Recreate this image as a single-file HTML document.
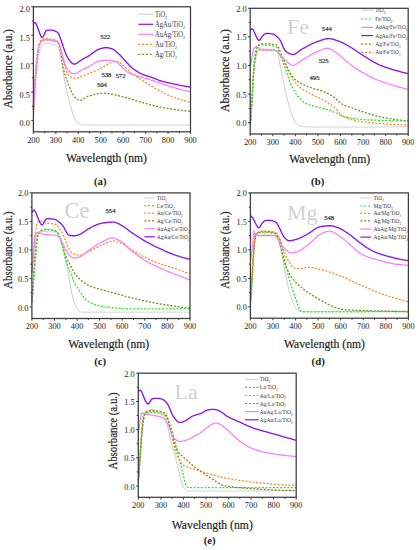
<!DOCTYPE html>
<html><head><meta charset="utf-8"><style>
html,body{margin:0;padding:0;background:#fff;width:418px;height:550px;overflow:hidden}
svg{display:block}
text{font-family:"Liberation Serif", serif}
</style></head><body>
<svg width="418" height="550" viewBox="0 0 418 550">
<rect width="418" height="550" fill="#fff"/>
<line x1="105.67" y1="49.41" x2="105.67" y2="59.07" stroke="#f0f0f0" stroke-width="0.6"/>
<path d="M33.4,117.4 L34.0,110.3 L34.5,101.3 L35.1,92.0 L35.6,83.5 L36.2,76.2 L36.8,69.9 L37.3,64.5 L37.9,59.9 L38.4,56.0 L39.0,53.0 L39.6,50.8 L40.1,49.1 L40.7,47.8 L41.3,46.7 L41.8,45.7 L42.4,44.9 L42.9,44.2 L43.5,43.8 L44.1,43.4 L44.6,43.3 L45.2,43.2 L45.7,43.2 L46.3,43.3 L46.9,43.4 L47.4,43.4 L48.0,43.5 L48.5,43.6 L49.1,43.7 L49.7,43.8 L50.2,43.9 L50.8,44.0 L51.4,44.1 L51.9,44.2 L52.5,44.3 L53.0,44.5 L53.6,44.6 L54.2,44.8 L54.7,44.9 L55.3,45.1 L55.8,45.4 L56.4,45.6 L57.0,45.9 L57.5,46.4 L58.1,47.1 L58.6,48.2 L59.2,49.8 L59.8,52.0 L60.3,54.6 L60.9,57.5 L61.5,60.7 L62.0,64.2 L62.6,67.9 L63.1,71.8 L63.7,75.6 L64.3,79.0 L64.8,82.1 L65.4,85.0 L65.9,87.6 L66.5,90.0 L67.1,92.4 L67.6,94.7 L68.2,97.1 L68.7,99.3 L69.3,101.5 L69.9,103.7 L70.4,105.7 L71.0,107.7 L71.6,109.7 L72.1,111.5 L72.7,113.3 L73.2,114.9 L73.8,116.3 L74.4,117.6 L74.9,118.7 L75.5,119.8 L76.0,120.7 L76.6,121.6 L77.2,122.3 L77.7,123.0 L78.3,123.4 L78.8,123.8 L79.4,124.1 L80.0,124.3 L80.5,124.5 L81.1,124.7 L81.7,124.8 L82.2,124.9 L82.8,125.0 L83.3,125.0 L83.9,125.0 L84.5,125.0 L85.0,125.0 L85.6,125.0 L86.1,125.0 L86.7,125.0 L87.3,125.0 L87.8,125.0 L88.4,125.0 L88.9,125.0 L89.5,125.0 L90.1,125.0 L90.6,125.0 L91.2,125.0 L91.8,125.0 L92.3,125.0 L92.9,125.0 L93.4,125.0 L94.0,125.0 L94.6,125.0 L95.1,125.0 L95.7,125.0 L96.2,125.0 L96.8,125.0 L97.4,125.0 L97.9,125.0 L98.5,125.0 L99.0,125.0 L99.6,125.0 L100.2,125.0 L100.7,125.0 L101.3,125.0 L101.9,125.0 L102.4,125.0 L103.0,125.0 L103.5,125.0 L104.1,125.0 L104.7,125.0 L105.2,125.0 L105.8,125.0 L106.3,125.0 L106.9,125.0 L107.5,125.0 L108.0,125.0 L108.6,125.0 L109.1,125.0 L109.7,125.0 L110.3,125.0 L110.8,125.0 L111.4,125.0 L111.9,125.0 L112.5,125.0 L113.1,125.0 L113.6,125.0 L114.2,125.0 L114.8,125.0 L115.3,125.0 L115.9,125.0 L116.4,125.0 L117.0,125.0 L117.6,125.0 L118.1,125.0 L118.7,125.0 L119.2,125.0 L119.8,125.0 L120.4,125.0 L120.9,125.0 L121.5,125.0 L122.0,125.0 L122.6,125.0 L123.2,125.0 L123.7,125.0 L124.3,125.0 L124.9,125.0 L125.4,125.0 L126.0,125.0 L126.5,125.0 L127.1,125.0 L127.7,125.0 L128.2,125.0 L128.8,125.0 L129.3,125.0 L129.9,125.0 L130.5,125.0 L131.0,125.0 L131.6,125.0 L132.1,125.0 L132.7,125.0 L133.3,125.0 L133.8,125.0 L134.4,125.0 L135.0,125.0 L135.5,125.0 L136.1,125.0 L136.6,125.0 L137.2,125.0 L137.8,125.0 L138.3,125.0 L138.9,125.0 L139.4,125.0 L140.0,125.0 L140.6,125.0 L141.1,125.0 L141.7,125.0 L142.2,125.0 L142.8,125.0 L143.4,125.0 L143.9,125.0 L144.5,125.0 L145.1,125.0 L145.6,125.0 L146.2,125.0 L146.7,125.0 L147.3,125.0 L147.9,125.0 L148.4,125.0 L149.0,125.0 L149.5,125.0 L150.1,125.0 L150.7,125.0 L151.2,125.0 L151.8,125.0 L152.3,125.0 L152.9,125.0 L153.5,125.0 L154.0,125.0 L154.6,125.0 L155.2,125.0 L155.7,125.0 L156.3,125.0 L156.8,125.0 L157.4,125.0 L158.0,125.0 L158.5,125.0 L159.1,125.0 L159.6,125.0 L160.2,125.0 L160.8,125.0 L161.3,125.0 L161.9,125.0 L162.4,125.0 L163.0,125.0 L163.6,125.0 L164.1,125.0 L164.7,125.0 L165.3,125.0 L165.8,125.0 L166.4,125.0 L166.9,125.0 L167.5,125.0 L168.1,125.0 L168.6,125.0 L169.2,125.0 L169.7,125.0 L170.3,125.0 L170.9,125.0 L171.4,125.0 L172.0,125.0 L172.5,125.0 L173.1,125.0 L173.7,125.0 L174.2,125.0 L174.8,125.0 L175.4,125.0 L175.9,125.0 L176.5,125.0 L177.0,125.0 L177.6,125.0 L178.2,125.0 L178.7,125.0 L179.3,125.0 L179.8,125.0 L180.4,125.0 L181.0,125.0 L181.5,125.0 L182.1,125.0 L182.6,125.0 L183.2,125.0 L183.8,125.0 L184.3,125.0 L184.9,125.0 L185.5,125.0 L186.0,125.0 L186.6,125.0 L187.1,125.0 L187.7,125.0 L188.3,125.0 L188.8,125.0 L189.4,125.0 L189.9,125.0 L190.5,125.0" fill="none" stroke="#cccccc" stroke-width="1.0"/>
<path d="M33.4,109.8 L34.0,101.4 L34.5,91.4 L35.1,81.7 L35.6,73.4 L36.2,66.7 L36.8,61.1 L37.3,56.3 L37.9,52.0 L38.4,48.4 L39.0,45.6 L39.6,43.7 L40.1,42.6 L40.7,41.8 L41.3,41.3 L41.8,40.8 L42.4,40.5 L42.9,40.2 L43.5,40.0 L44.1,39.9 L44.6,39.8 L45.2,39.8 L45.7,39.8 L46.3,39.8 L46.9,39.8 L47.4,39.8 L48.0,39.9 L48.5,39.9 L49.1,40.0 L49.7,40.1 L50.2,40.1 L50.8,40.2 L51.4,40.3 L51.9,40.4 L52.5,40.5 L53.0,40.7 L53.6,40.8 L54.2,41.0 L54.7,41.1 L55.3,41.3 L55.8,41.5 L56.4,41.8 L57.0,42.0 L57.5,42.3 L58.1,42.8 L58.6,43.8 L59.2,45.2 L59.8,47.4 L60.3,50.1 L60.9,53.4 L61.5,57.1 L62.0,61.0 L62.6,64.5 L63.1,67.5 L63.7,70.0 L64.3,72.1 L64.8,74.1 L65.4,75.8 L65.9,77.5 L66.5,79.1 L67.1,80.6 L67.6,82.1 L68.2,83.6 L68.7,85.0 L69.3,86.5 L69.9,87.9 L70.4,89.2 L71.0,90.5 L71.6,91.7 L72.1,92.9 L72.7,93.9 L73.2,94.8 L73.8,95.6 L74.4,96.4 L74.9,97.1 L75.5,97.7 L76.0,98.3 L76.6,98.9 L77.2,99.4 L77.7,99.8 L78.3,100.1 L78.8,100.4 L79.4,100.4 L80.0,100.4 L80.5,100.3 L81.1,100.1 L81.7,99.9 L82.2,99.6 L82.8,99.2 L83.3,98.9 L83.9,98.5 L84.5,98.1 L85.0,97.7 L85.6,97.4 L86.1,97.1 L86.7,96.8 L87.3,96.6 L87.8,96.4 L88.4,96.2 L88.9,96.1 L89.5,95.9 L90.1,95.7 L90.6,95.5 L91.2,95.4 L91.8,95.2 L92.3,95.1 L92.9,94.9 L93.4,94.7 L94.0,94.6 L94.6,94.5 L95.1,94.3 L95.7,94.2 L96.2,94.1 L96.8,93.9 L97.4,93.8 L97.9,93.7 L98.5,93.6 L99.0,93.5 L99.6,93.5 L100.2,93.4 L100.7,93.3 L101.3,93.3 L101.9,93.2 L102.4,93.2 L103.0,93.2 L103.5,93.2 L104.1,93.2 L104.7,93.2 L105.2,93.2 L105.8,93.3 L106.3,93.3 L106.9,93.4 L107.5,93.4 L108.0,93.5 L108.6,93.6 L109.1,93.6 L109.7,93.7 L110.3,93.8 L110.8,93.9 L111.4,94.1 L111.9,94.2 L112.5,94.3 L113.1,94.4 L113.6,94.5 L114.2,94.7 L114.8,94.8 L115.3,94.9 L115.9,95.0 L116.4,95.2 L117.0,95.3 L117.6,95.4 L118.1,95.6 L118.7,95.7 L119.2,95.8 L119.8,96.0 L120.4,96.1 L120.9,96.2 L121.5,96.3 L122.0,96.5 L122.6,96.6 L123.2,96.8 L123.7,96.9 L124.3,97.1 L124.9,97.3 L125.4,97.4 L126.0,97.6 L126.5,97.8 L127.1,97.9 L127.7,98.1 L128.2,98.3 L128.8,98.5 L129.3,98.6 L129.9,98.8 L130.5,99.0 L131.0,99.2 L131.6,99.4 L132.1,99.5 L132.7,99.7 L133.3,99.9 L133.8,100.1 L134.4,100.3 L135.0,100.4 L135.5,100.6 L136.1,100.8 L136.6,100.9 L137.2,101.1 L137.8,101.2 L138.3,101.4 L138.9,101.6 L139.4,101.7 L140.0,101.9 L140.6,102.0 L141.1,102.2 L141.7,102.4 L142.2,102.5 L142.8,102.7 L143.4,102.8 L143.9,103.0 L144.5,103.1 L145.1,103.3 L145.6,103.4 L146.2,103.6 L146.7,103.7 L147.3,103.9 L147.9,104.0 L148.4,104.2 L149.0,104.3 L149.5,104.5 L150.1,104.6 L150.7,104.8 L151.2,104.9 L151.8,105.1 L152.3,105.2 L152.9,105.3 L153.5,105.5 L154.0,105.6 L154.6,105.7 L155.2,105.8 L155.7,106.0 L156.3,106.1 L156.8,106.2 L157.4,106.3 L158.0,106.5 L158.5,106.6 L159.1,106.7 L159.6,106.8 L160.2,107.0 L160.8,107.1 L161.3,107.2 L161.9,107.3 L162.4,107.4 L163.0,107.5 L163.6,107.6 L164.1,107.8 L164.7,107.9 L165.3,108.0 L165.8,108.1 L166.4,108.2 L166.9,108.3 L167.5,108.4 L168.1,108.5 L168.6,108.6 L169.2,108.7 L169.7,108.8 L170.3,108.9 L170.9,109.0 L171.4,109.0 L172.0,109.1 L172.5,109.2 L173.1,109.3 L173.7,109.4 L174.2,109.5 L174.8,109.5 L175.4,109.6 L175.9,109.7 L176.5,109.8 L177.0,109.8 L177.6,109.9 L178.2,110.0 L178.7,110.1 L179.3,110.1 L179.8,110.2 L180.4,110.3 L181.0,110.4 L181.5,110.4 L182.1,110.5 L182.6,110.6 L183.2,110.6 L183.8,110.7 L184.3,110.8 L184.9,110.8 L185.5,110.9 L186.0,110.9 L186.6,111.0 L187.1,111.0 L187.7,111.1 L188.3,111.2 L188.8,111.2 L189.4,111.2 L189.9,111.3 L190.5,111.3" fill="none" stroke="#7d8a1e" stroke-width="1.3" stroke-dasharray="2 1.6"/>
<path d="M33.4,109.8 L34.0,101.6 L34.5,91.4 L35.1,81.5 L35.6,72.9 L36.2,65.8 L36.8,59.8 L37.3,54.8 L37.9,50.5 L38.4,47.0 L39.0,44.3 L39.6,42.5 L40.1,41.4 L40.7,40.7 L41.3,40.1 L41.8,39.7 L42.4,39.3 L42.9,39.1 L43.5,38.9 L44.1,38.7 L44.6,38.7 L45.2,38.6 L45.7,38.6 L46.3,38.7 L46.9,38.7 L47.4,38.7 L48.0,38.8 L48.5,38.8 L49.1,38.9 L49.7,38.9 L50.2,39.0 L50.8,39.1 L51.4,39.2 L51.9,39.3 L52.5,39.4 L53.0,39.6 L53.6,39.7 L54.2,39.9 L54.7,40.0 L55.3,40.2 L55.8,40.4 L56.4,40.6 L57.0,40.9 L57.5,41.2 L58.1,41.7 L58.6,42.5 L59.2,43.8 L59.8,45.5 L60.3,47.6 L60.9,49.8 L61.5,52.0 L62.0,54.3 L62.6,56.7 L63.1,59.2 L63.7,61.7 L64.3,64.2 L64.8,66.6 L65.4,68.7 L65.9,70.7 L66.5,72.2 L67.1,73.4 L67.6,74.3 L68.2,74.9 L68.7,75.4 L69.3,75.9 L69.9,76.3 L70.4,76.6 L71.0,77.0 L71.6,77.3 L72.1,77.5 L72.7,77.8 L73.2,78.0 L73.8,78.1 L74.4,78.2 L74.9,78.3 L75.5,78.3 L76.0,78.3 L76.6,78.2 L77.2,78.1 L77.7,77.9 L78.3,77.7 L78.8,77.5 L79.4,77.2 L80.0,77.0 L80.5,76.7 L81.1,76.5 L81.7,76.2 L82.2,76.0 L82.8,75.8 L83.3,75.6 L83.9,75.3 L84.5,75.1 L85.0,74.9 L85.6,74.7 L86.1,74.5 L86.7,74.2 L87.3,74.0 L87.8,73.8 L88.4,73.5 L88.9,73.3 L89.5,73.1 L90.1,72.9 L90.6,72.7 L91.2,72.4 L91.8,72.2 L92.3,72.0 L92.9,71.8 L93.4,71.6 L94.0,71.3 L94.6,71.1 L95.1,70.9 L95.7,70.7 L96.2,70.4 L96.8,70.2 L97.4,70.0 L97.9,69.7 L98.5,69.5 L99.0,69.2 L99.6,68.9 L100.2,68.7 L100.7,68.4 L101.3,68.0 L101.9,67.7 L102.4,67.3 L103.0,67.0 L103.5,66.6 L104.1,66.2 L104.7,65.8 L105.2,65.5 L105.8,65.1 L106.3,64.8 L106.9,64.4 L107.5,64.1 L108.0,63.9 L108.6,63.6 L109.1,63.4 L109.7,63.2 L110.3,63.0 L110.8,62.8 L111.4,62.6 L111.9,62.4 L112.5,62.2 L113.1,62.0 L113.6,61.9 L114.2,61.7 L114.8,61.6 L115.3,61.5 L115.9,61.4 L116.4,61.4 L117.0,61.4 L117.6,61.5 L118.1,61.6 L118.7,61.9 L119.2,62.2 L119.8,62.6 L120.4,63.1 L120.9,63.6 L121.5,64.1 L122.0,64.6 L122.6,65.0 L123.2,65.5 L123.7,66.0 L124.3,66.4 L124.9,66.9 L125.4,67.4 L126.0,68.0 L126.5,68.5 L127.1,69.0 L127.7,69.6 L128.2,70.1 L128.8,70.6 L129.3,71.2 L129.9,71.7 L130.5,72.2 L131.0,72.7 L131.6,73.2 L132.1,73.7 L132.7,74.1 L133.3,74.6 L133.8,75.0 L134.4,75.4 L135.0,75.8 L135.5,76.2 L136.1,76.5 L136.6,76.9 L137.2,77.3 L137.8,77.6 L138.3,78.0 L138.9,78.3 L139.4,78.7 L140.0,79.0 L140.6,79.4 L141.1,79.7 L141.7,80.1 L142.2,80.4 L142.8,80.7 L143.4,81.1 L143.9,81.4 L144.5,81.8 L145.1,82.1 L145.6,82.5 L146.2,82.8 L146.7,83.2 L147.3,83.5 L147.9,83.9 L148.4,84.2 L149.0,84.5 L149.5,84.9 L150.1,85.2 L150.7,85.6 L151.2,85.9 L151.8,86.2 L152.3,86.6 L152.9,86.9 L153.5,87.2 L154.0,87.6 L154.6,87.9 L155.2,88.2 L155.7,88.5 L156.3,88.9 L156.8,89.2 L157.4,89.5 L158.0,89.8 L158.5,90.1 L159.1,90.4 L159.6,90.7 L160.2,91.0 L160.8,91.3 L161.3,91.6 L161.9,91.9 L162.4,92.2 L163.0,92.5 L163.6,92.8 L164.1,93.1 L164.7,93.4 L165.3,93.7 L165.8,93.9 L166.4,94.2 L166.9,94.5 L167.5,94.8 L168.1,95.0 L168.6,95.3 L169.2,95.5 L169.7,95.8 L170.3,96.0 L170.9,96.3 L171.4,96.5 L172.0,96.7 L172.5,96.9 L173.1,97.1 L173.7,97.3 L174.2,97.5 L174.8,97.7 L175.4,97.9 L175.9,98.1 L176.5,98.3 L177.0,98.5 L177.6,98.7 L178.2,98.9 L178.7,99.1 L179.3,99.3 L179.8,99.5 L180.4,99.7 L181.0,99.8 L181.5,100.0 L182.1,100.2 L182.6,100.3 L183.2,100.5 L183.8,100.7 L184.3,100.8 L184.9,101.0 L185.5,101.1 L186.0,101.3 L186.6,101.4 L187.1,101.5 L187.7,101.7 L188.3,101.8 L188.8,101.9 L189.4,102.0 L189.9,102.1 L190.5,102.2" fill="none" stroke="#ff8a22" stroke-width="1.3" stroke-dasharray="2 1.6"/>
<path d="M33.4,107.5 L34.0,99.9 L34.5,90.5 L35.1,81.2 L35.6,73.3 L36.2,66.7 L36.8,61.2 L37.3,56.5 L37.9,52.5 L38.4,49.1 L39.0,46.5 L39.6,44.7 L40.1,43.5 L40.7,42.6 L41.3,41.8 L41.8,41.3 L42.4,40.8 L42.9,40.4 L43.5,40.1 L44.1,39.9 L44.6,39.8 L45.2,39.8 L45.7,39.8 L46.3,39.8 L46.9,39.8 L47.4,39.8 L48.0,39.9 L48.5,39.9 L49.1,39.9 L49.7,40.0 L50.2,40.1 L50.8,40.1 L51.4,40.2 L51.9,40.3 L52.5,40.4 L53.0,40.5 L53.6,40.6 L54.2,40.7 L54.7,40.9 L55.3,41.0 L55.8,41.2 L56.4,41.4 L57.0,41.6 L57.5,41.8 L58.1,42.2 L58.6,43.0 L59.2,44.2 L59.8,45.8 L60.3,47.8 L60.9,49.8 L61.5,51.9 L62.0,54.0 L62.6,56.1 L63.1,58.2 L63.7,60.2 L64.3,62.0 L64.8,63.7 L65.4,65.3 L65.9,66.7 L66.5,68.0 L67.1,69.0 L67.6,69.8 L68.2,70.5 L68.7,71.0 L69.3,71.6 L69.9,72.0 L70.4,72.4 L71.0,72.8 L71.6,73.1 L72.1,73.4 L72.7,73.6 L73.2,73.7 L73.8,73.8 L74.4,73.8 L74.9,73.7 L75.5,73.5 L76.0,73.3 L76.6,73.1 L77.2,72.8 L77.7,72.5 L78.3,72.1 L78.8,71.7 L79.4,71.4 L80.0,71.0 L80.5,70.7 L81.1,70.3 L81.7,70.0 L82.2,69.7 L82.8,69.4 L83.3,69.2 L83.9,68.9 L84.5,68.6 L85.0,68.4 L85.6,68.1 L86.1,67.9 L86.7,67.6 L87.3,67.3 L87.8,67.1 L88.4,66.8 L88.9,66.5 L89.5,66.2 L90.1,65.9 L90.6,65.6 L91.2,65.2 L91.8,64.9 L92.3,64.5 L92.9,64.2 L93.4,63.8 L94.0,63.5 L94.6,63.1 L95.1,62.8 L95.7,62.4 L96.2,62.1 L96.8,61.9 L97.4,61.6 L97.9,61.4 L98.5,61.2 L99.0,61.0 L99.6,60.9 L100.2,60.8 L100.7,60.7 L101.3,60.6 L101.9,60.6 L102.4,60.5 L103.0,60.5 L103.5,60.4 L104.1,60.4 L104.7,60.4 L105.2,60.3 L105.8,60.3 L106.3,60.3 L106.9,60.2 L107.5,60.2 L108.0,60.2 L108.6,60.2 L109.1,60.2 L109.7,60.3 L110.3,60.3 L110.8,60.4 L111.4,60.5 L111.9,60.6 L112.5,60.7 L113.1,60.8 L113.6,61.0 L114.2,61.2 L114.8,61.3 L115.3,61.5 L115.9,61.7 L116.4,62.0 L117.0,62.3 L117.6,62.8 L118.1,63.2 L118.7,63.8 L119.2,64.3 L119.8,64.9 L120.4,65.5 L120.9,66.1 L121.5,66.7 L122.0,67.3 L122.6,67.8 L123.2,68.4 L123.7,68.9 L124.3,69.4 L124.9,69.9 L125.4,70.4 L126.0,70.9 L126.5,71.4 L127.1,71.9 L127.7,72.3 L128.2,72.6 L128.8,73.0 L129.3,73.2 L129.9,73.5 L130.5,73.7 L131.0,73.9 L131.6,74.2 L132.1,74.3 L132.7,74.5 L133.3,74.7 L133.8,74.9 L134.4,75.0 L135.0,75.2 L135.5,75.4 L136.1,75.5 L136.6,75.7 L137.2,75.8 L137.8,76.0 L138.3,76.1 L138.9,76.3 L139.4,76.4 L140.0,76.6 L140.6,76.8 L141.1,77.0 L141.7,77.2 L142.2,77.3 L142.8,77.5 L143.4,77.7 L143.9,77.9 L144.5,78.0 L145.1,78.2 L145.6,78.4 L146.2,78.6 L146.7,78.7 L147.3,78.9 L147.9,79.1 L148.4,79.3 L149.0,79.4 L149.5,79.6 L150.1,79.8 L150.7,80.0 L151.2,80.2 L151.8,80.3 L152.3,80.5 L152.9,80.7 L153.5,80.9 L154.0,81.1 L154.6,81.2 L155.2,81.4 L155.7,81.6 L156.3,81.8 L156.8,82.0 L157.4,82.2 L158.0,82.4 L158.5,82.6 L159.1,82.7 L159.6,82.9 L160.2,83.1 L160.8,83.3 L161.3,83.5 L161.9,83.7 L162.4,83.9 L163.0,84.1 L163.6,84.3 L164.1,84.5 L164.7,84.7 L165.3,84.9 L165.8,85.1 L166.4,85.3 L166.9,85.4 L167.5,85.6 L168.1,85.8 L168.6,86.0 L169.2,86.2 L169.7,86.3 L170.3,86.5 L170.9,86.7 L171.4,86.8 L172.0,87.0 L172.5,87.2 L173.1,87.3 L173.7,87.5 L174.2,87.7 L174.8,87.8 L175.4,88.0 L175.9,88.1 L176.5,88.3 L177.0,88.4 L177.6,88.6 L178.2,88.7 L178.7,88.9 L179.3,89.0 L179.8,89.2 L180.4,89.3 L181.0,89.5 L181.5,89.6 L182.1,89.8 L182.6,89.9 L183.2,90.0 L183.8,90.2 L184.3,90.3 L184.9,90.5 L185.5,90.6 L186.0,90.7 L186.6,90.9 L187.1,91.0 L187.7,91.1 L188.3,91.2 L188.8,91.4 L189.4,91.5 L189.9,91.6 L190.5,91.7" fill="none" stroke="#ff77ff" stroke-width="1.20"/>
<path d="M33.4,23.4 L34.0,23.0 L34.5,22.7 L35.1,22.7 L35.6,23.2 L36.2,24.1 L36.8,25.4 L37.3,26.8 L37.9,28.3 L38.4,29.8 L39.0,31.3 L39.6,32.9 L40.1,34.4 L40.7,35.7 L41.3,36.8 L41.8,37.3 L42.4,37.4 L42.9,36.9 L43.5,36.0 L44.1,34.9 L44.6,33.6 L45.2,32.3 L45.7,31.3 L46.3,30.6 L46.9,30.3 L47.4,30.1 L48.0,30.1 L48.5,30.1 L49.1,30.1 L49.7,30.1 L50.2,30.1 L50.8,30.1 L51.4,30.1 L51.9,30.2 L52.5,30.3 L53.0,30.4 L53.6,30.5 L54.2,30.7 L54.7,30.9 L55.3,31.1 L55.8,31.4 L56.4,31.7 L57.0,32.0 L57.5,32.5 L58.1,33.0 L58.6,33.8 L59.2,34.9 L59.8,36.4 L60.3,38.1 L60.9,39.8 L61.5,41.5 L62.0,43.1 L62.6,44.7 L63.1,46.4 L63.7,48.1 L64.3,49.7 L64.8,51.3 L65.4,52.7 L65.9,54.1 L66.5,55.4 L67.1,56.5 L67.6,57.5 L68.2,58.4 L68.7,59.2 L69.3,60.0 L69.9,60.8 L70.4,61.5 L71.0,62.2 L71.6,62.8 L72.1,63.3 L72.7,63.6 L73.2,63.9 L73.8,64.0 L74.4,64.1 L74.9,64.0 L75.5,63.8 L76.0,63.6 L76.6,63.3 L77.2,63.0 L77.7,62.6 L78.3,62.2 L78.8,61.8 L79.4,61.4 L80.0,60.9 L80.5,60.5 L81.1,60.2 L81.7,59.8 L82.2,59.5 L82.8,59.1 L83.3,58.8 L83.9,58.5 L84.5,58.2 L85.0,57.9 L85.6,57.6 L86.1,57.3 L86.7,57.0 L87.3,56.7 L87.8,56.4 L88.4,56.1 L88.9,55.7 L89.5,55.4 L90.1,55.0 L90.6,54.6 L91.2,54.2 L91.8,53.8 L92.3,53.4 L92.9,52.9 L93.4,52.5 L94.0,52.1 L94.6,51.7 L95.1,51.3 L95.7,50.9 L96.2,50.6 L96.8,50.2 L97.4,49.9 L97.9,49.7 L98.5,49.4 L99.0,49.2 L99.6,49.0 L100.2,48.8 L100.7,48.6 L101.3,48.4 L101.9,48.3 L102.4,48.1 L103.0,48.0 L103.5,47.8 L104.1,47.7 L104.7,47.7 L105.2,47.6 L105.8,47.6 L106.3,47.6 L106.9,47.7 L107.5,47.7 L108.0,47.8 L108.6,47.9 L109.1,48.0 L109.7,48.2 L110.3,48.3 L110.8,48.4 L111.4,48.6 L111.9,48.8 L112.5,49.0 L113.1,49.3 L113.6,49.6 L114.2,50.0 L114.8,50.4 L115.3,50.8 L115.9,51.3 L116.4,51.8 L117.0,52.3 L117.6,52.7 L118.1,53.2 L118.7,53.7 L119.2,54.3 L119.8,54.8 L120.4,55.4 L120.9,56.0 L121.5,56.6 L122.0,57.3 L122.6,57.9 L123.2,58.6 L123.7,59.2 L124.3,59.9 L124.9,60.5 L125.4,61.1 L126.0,61.7 L126.5,62.3 L127.1,62.9 L127.7,63.5 L128.2,64.1 L128.8,64.7 L129.3,65.3 L129.9,65.9 L130.5,66.5 L131.0,67.0 L131.6,67.5 L132.1,68.0 L132.7,68.4 L133.3,68.9 L133.8,69.3 L134.4,69.7 L135.0,70.1 L135.5,70.4 L136.1,70.8 L136.6,71.2 L137.2,71.5 L137.8,71.8 L138.3,72.1 L138.9,72.5 L139.4,72.8 L140.0,73.1 L140.6,73.3 L141.1,73.6 L141.7,73.9 L142.2,74.1 L142.8,74.4 L143.4,74.6 L143.9,74.8 L144.5,75.0 L145.1,75.3 L145.6,75.4 L146.2,75.6 L146.7,75.8 L147.3,76.0 L147.9,76.2 L148.4,76.3 L149.0,76.5 L149.5,76.7 L150.1,76.9 L150.7,77.0 L151.2,77.2 L151.8,77.4 L152.3,77.6 L152.9,77.8 L153.5,78.0 L154.0,78.2 L154.6,78.5 L155.2,78.7 L155.7,78.9 L156.3,79.2 L156.8,79.4 L157.4,79.7 L158.0,79.9 L158.5,80.1 L159.1,80.3 L159.6,80.5 L160.2,80.7 L160.8,80.9 L161.3,81.1 L161.9,81.2 L162.4,81.4 L163.0,81.5 L163.6,81.7 L164.1,81.8 L164.7,81.9 L165.3,82.1 L165.8,82.2 L166.4,82.3 L166.9,82.5 L167.5,82.6 L168.1,82.7 L168.6,82.8 L169.2,83.0 L169.7,83.1 L170.3,83.2 L170.9,83.3 L171.4,83.5 L172.0,83.6 L172.5,83.7 L173.1,83.8 L173.7,83.9 L174.2,84.1 L174.8,84.2 L175.4,84.3 L175.9,84.4 L176.5,84.5 L177.0,84.7 L177.6,84.8 L178.2,84.9 L178.7,85.0 L179.3,85.1 L179.8,85.2 L180.4,85.3 L181.0,85.5 L181.5,85.6 L182.1,85.7 L182.6,85.8 L183.2,85.9 L183.8,86.0 L184.3,86.1 L184.9,86.2 L185.5,86.3 L186.0,86.4 L186.6,86.5 L187.1,86.6 L187.7,86.7 L188.3,86.8 L188.8,86.9 L189.4,87.0 L189.9,87.1 L190.5,87.1" fill="none" stroke="#8614f0" stroke-width="1.35"/>
<rect x="33.40" y="6.80" width="157.10" height="125.00" fill="none" stroke="#3c3c3c" stroke-width="1.25"/>
<line x1="33.40" y1="131.80" x2="33.40" y2="134.00" stroke="#3c3c3c" stroke-width="1"/>
<text x="33.40" y="142.50" font-size="8.30" text-anchor="middle" font-weight="normal" fill="#222" >200</text>
<line x1="44.62" y1="131.80" x2="44.62" y2="133.40" stroke="#3c3c3c" stroke-width="1"/>
<line x1="55.84" y1="131.80" x2="55.84" y2="134.00" stroke="#3c3c3c" stroke-width="1"/>
<text x="55.84" y="142.50" font-size="8.30" text-anchor="middle" font-weight="normal" fill="#222" >300</text>
<line x1="67.06" y1="131.80" x2="67.06" y2="133.40" stroke="#3c3c3c" stroke-width="1"/>
<line x1="78.29" y1="131.80" x2="78.29" y2="134.00" stroke="#3c3c3c" stroke-width="1"/>
<text x="78.29" y="142.50" font-size="8.30" text-anchor="middle" font-weight="normal" fill="#222" >400</text>
<line x1="89.51" y1="131.80" x2="89.51" y2="133.40" stroke="#3c3c3c" stroke-width="1"/>
<line x1="100.73" y1="131.80" x2="100.73" y2="134.00" stroke="#3c3c3c" stroke-width="1"/>
<text x="100.73" y="142.50" font-size="8.30" text-anchor="middle" font-weight="normal" fill="#222" >500</text>
<line x1="111.95" y1="131.80" x2="111.95" y2="133.40" stroke="#3c3c3c" stroke-width="1"/>
<line x1="123.17" y1="131.80" x2="123.17" y2="134.00" stroke="#3c3c3c" stroke-width="1"/>
<text x="123.17" y="142.50" font-size="8.30" text-anchor="middle" font-weight="normal" fill="#222" >600</text>
<line x1="134.39" y1="131.80" x2="134.39" y2="133.40" stroke="#3c3c3c" stroke-width="1"/>
<line x1="145.61" y1="131.80" x2="145.61" y2="134.00" stroke="#3c3c3c" stroke-width="1"/>
<text x="145.61" y="142.50" font-size="8.30" text-anchor="middle" font-weight="normal" fill="#222" >700</text>
<line x1="156.84" y1="131.80" x2="156.84" y2="133.40" stroke="#3c3c3c" stroke-width="1"/>
<line x1="168.06" y1="131.80" x2="168.06" y2="134.00" stroke="#3c3c3c" stroke-width="1"/>
<text x="168.06" y="142.50" font-size="8.30" text-anchor="middle" font-weight="normal" fill="#222" >800</text>
<line x1="179.28" y1="131.80" x2="179.28" y2="133.40" stroke="#3c3c3c" stroke-width="1"/>
<line x1="190.50" y1="131.80" x2="190.50" y2="134.00" stroke="#3c3c3c" stroke-width="1"/>
<text x="190.50" y="142.50" font-size="8.30" text-anchor="middle" font-weight="normal" fill="#222" >900</text>
<line x1="31.20" y1="120.44" x2="33.40" y2="120.44" stroke="#3c3c3c" stroke-width="1"/>
<text x="29.80" y="125.94" font-size="8.30" text-anchor="end" font-weight="normal" fill="#222" >0.0</text>
<line x1="31.80" y1="106.23" x2="33.40" y2="106.23" stroke="#3c3c3c" stroke-width="1"/>
<line x1="31.20" y1="92.03" x2="33.40" y2="92.03" stroke="#3c3c3c" stroke-width="1"/>
<text x="29.80" y="97.53" font-size="8.30" text-anchor="end" font-weight="normal" fill="#222" >0.5</text>
<line x1="31.80" y1="77.82" x2="33.40" y2="77.82" stroke="#3c3c3c" stroke-width="1"/>
<line x1="31.20" y1="63.62" x2="33.40" y2="63.62" stroke="#3c3c3c" stroke-width="1"/>
<text x="29.80" y="69.12" font-size="8.30" text-anchor="end" font-weight="normal" fill="#222" >1.0</text>
<line x1="31.80" y1="49.41" x2="33.40" y2="49.41" stroke="#3c3c3c" stroke-width="1"/>
<line x1="31.20" y1="35.21" x2="33.40" y2="35.21" stroke="#3c3c3c" stroke-width="1"/>
<text x="29.80" y="40.71" font-size="8.30" text-anchor="end" font-weight="normal" fill="#222" >1.5</text>
<line x1="31.80" y1="21.00" x2="33.40" y2="21.00" stroke="#3c3c3c" stroke-width="1"/>
<line x1="31.20" y1="6.80" x2="33.40" y2="6.80" stroke="#3c3c3c" stroke-width="1"/>
<text x="29.80" y="12.30" font-size="8.30" text-anchor="end" font-weight="normal" fill="#222" >2.0</text>
<text x="66.00" y="162.00" font-size="12.6" fill="#222" stroke="#222" stroke-width="0.2" textLength="81" lengthAdjust="spacingAndGlyphs">Wavelength (nm)</text>
<text x="0" y="0" font-size="11.6" fill="#222" stroke="#222" stroke-width="0.2" textLength="79.0" lengthAdjust="spacingAndGlyphs" transform="translate(12.20,108.30) rotate(-90)">Absorbance (a.u.)</text>
<text x="100.30" y="185.20" font-size="10.80" text-anchor="middle" font-weight="bold" fill="#222" >(a)</text>
<text x="105.20" y="39.30" font-size="6.7" text-anchor="middle" fill="#1a1a1a" stroke="#1a1a1a" stroke-width="0.18">522</text>
<text x="106.40" y="76.80" font-size="6.7" text-anchor="middle" fill="#1a1a1a" stroke="#1a1a1a" stroke-width="0.18">538</text>
<text x="120.50" y="77.80" font-size="6.7" text-anchor="middle" fill="#1a1a1a" stroke="#1a1a1a" stroke-width="0.18">572</text>
<text x="101.90" y="86.90" font-size="6.7" text-anchor="middle" fill="#1a1a1a" stroke="#1a1a1a" stroke-width="0.18">504</text>
<line x1="138.30" y1="14.20" x2="153.30" y2="14.20" stroke="#cccccc" stroke-width="1.0"/>
<text x="0" y="0" font-size="7.60" fill="#333" transform="translate(155.00,16.71) scale(0.860,1)">TiO<tspan font-size="4.71" dy="2.28">2</tspan></text>
<line x1="138.30" y1="24.30" x2="153.30" y2="24.30" stroke="#8614f0" stroke-width="1.2"/>
<text x="0" y="0" font-size="7.60" fill="#333" transform="translate(155.00,26.81) scale(0.860,1)">AgAu/TiO<tspan font-size="4.71" dy="2.28">2</tspan></text>
<line x1="138.30" y1="34.30" x2="153.30" y2="34.30" stroke="#ff77ff" stroke-width="1.2"/>
<text x="0" y="0" font-size="7.60" fill="#333" transform="translate(155.00,36.81) scale(0.860,1)">AuAg/TiO<tspan font-size="4.71" dy="2.28">2</tspan></text>
<line x1="138.30" y1="44.30" x2="153.30" y2="44.30" stroke="#ff8a22" stroke-width="1.2" stroke-dasharray="2 1.8"/>
<text x="0" y="0" font-size="7.60" fill="#333" transform="translate(155.00,46.81) scale(0.860,1)">Au/TiO<tspan font-size="4.71" dy="2.28">2</tspan></text>
<line x1="138.30" y1="54.40" x2="153.30" y2="54.40" stroke="#7d8a1e" stroke-width="1.2" stroke-dasharray="2 1.8"/>
<text x="0" y="0" font-size="7.60" fill="#333" transform="translate(155.00,56.91) scale(0.860,1)">Ag/TiO<tspan font-size="4.71" dy="2.28">2</tspan></text>
<text x="298.00" y="34.00" font-size="22.00" text-anchor="middle" font-weight="normal" fill="#d2d2d2" >Fe</text>
<path d="M250.2,124.0 L250.8,118.8 L251.3,111.3 L251.9,102.2 L252.5,92.6 L253.0,83.6 L253.6,75.9 L254.1,69.6 L254.7,64.6 L255.3,60.5 L255.8,57.4 L256.4,55.0 L257.0,53.0 L257.5,51.4 L258.1,50.1 L258.7,49.1 L259.2,48.4 L259.8,48.0 L260.4,47.9 L260.9,47.9 L261.5,48.0 L262.1,48.1 L262.6,48.3 L263.2,48.5 L263.7,48.7 L264.3,48.9 L264.9,49.1 L265.4,49.3 L266.0,49.4 L266.6,49.5 L267.1,49.6 L267.7,49.7 L268.3,49.8 L268.8,49.8 L269.4,49.9 L269.9,49.9 L270.5,50.0 L271.1,50.0 L271.6,50.1 L272.2,50.2 L272.8,50.2 L273.3,50.3 L273.9,50.4 L274.5,50.5 L275.0,50.6 L275.6,50.7 L276.2,51.0 L276.7,51.4 L277.3,52.2 L277.8,53.7 L278.4,55.9 L279.0,58.7 L279.5,61.8 L280.1,65.0 L280.7,68.1 L281.2,71.0 L281.8,73.8 L282.4,76.6 L282.9,79.4 L283.5,82.2 L284.1,84.9 L284.6,87.5 L285.2,90.0 L285.8,92.5 L286.3,94.9 L286.9,97.3 L287.4,99.6 L288.0,101.9 L288.6,104.0 L289.1,106.1 L289.7,108.0 L290.3,109.9 L290.8,111.7 L291.4,113.5 L292.0,115.2 L292.5,116.8 L293.1,118.3 L293.6,119.6 L294.2,120.7 L294.8,121.7 L295.3,122.5 L295.9,123.2 L296.5,123.8 L297.0,124.4 L297.6,124.9 L298.2,125.3 L298.7,125.6 L299.3,125.8 L299.9,126.0 L300.4,126.1 L301.0,126.2 L301.5,126.2 L302.1,126.3 L302.7,126.4 L303.2,126.4 L303.8,126.5 L304.4,126.6 L304.9,126.6 L305.5,126.7 L306.1,126.7 L306.6,126.7 L307.2,126.8 L307.8,126.8 L308.3,126.9 L308.9,126.9 L309.4,126.9 L310.0,127.0 L310.6,127.0 L311.1,127.0 L311.7,127.0 L312.3,127.1 L312.8,127.1 L313.4,127.1 L314.0,127.1 L314.5,127.1 L315.1,127.1 L315.7,127.1 L316.2,127.1 L316.8,127.1 L317.3,127.1 L317.9,127.1 L318.5,127.1 L319.0,127.1 L319.6,127.1 L320.2,127.1 L320.7,127.1 L321.3,127.1 L321.9,127.1 L322.4,127.1 L323.0,127.1 L323.6,127.1 L324.1,127.1 L324.7,127.1 L325.2,127.1 L325.8,127.1 L326.4,127.1 L326.9,127.1 L327.5,127.1 L328.1,127.1 L328.6,127.1 L329.2,127.1 L329.8,127.1 L330.3,127.1 L330.9,127.1 L331.5,127.1 L332.0,127.1 L332.6,127.1 L333.1,127.1 L333.7,127.1 L334.3,127.1 L334.8,127.1 L335.4,127.1 L336.0,127.1 L336.5,127.1 L337.1,127.1 L337.7,127.1 L338.2,127.1 L338.8,127.1 L339.4,127.1 L339.9,127.1 L340.5,127.1 L341.0,127.1 L341.6,127.1 L342.2,127.1 L342.7,127.1 L343.3,127.1 L343.9,127.1 L344.4,127.1 L345.0,127.1 L345.6,127.1 L346.1,127.1 L346.7,127.1 L347.3,127.1 L347.8,127.1 L348.4,127.1 L348.9,127.1 L349.5,127.1 L350.1,127.1 L350.6,127.1 L351.2,127.1 L351.8,127.1 L352.3,127.1 L352.9,127.1 L353.5,127.1 L354.0,127.1 L354.6,127.1 L355.2,127.1 L355.7,127.1 L356.3,127.1 L356.8,127.1 L357.4,127.1 L358.0,127.1 L358.5,127.1 L359.1,127.1 L359.7,127.1 L360.2,127.1 L360.8,127.1 L361.4,127.1 L361.9,127.1 L362.5,127.1 L363.1,127.1 L363.6,127.1 L364.2,127.1 L364.8,127.1 L365.3,127.1 L365.9,127.1 L366.4,127.1 L367.0,127.1 L367.6,127.1 L368.1,127.1 L368.7,127.1 L369.3,127.1 L369.8,127.1 L370.4,127.1 L371.0,127.1 L371.5,127.1 L372.1,127.1 L372.6,127.1 L373.2,127.1 L373.8,127.1 L374.3,127.1 L374.9,127.1 L375.5,127.1 L376.0,127.1 L376.6,127.1 L377.2,127.1 L377.7,127.1 L378.3,127.1 L378.9,127.1 L379.4,127.0 L380.0,127.0 L380.5,127.0 L381.1,127.0 L381.7,127.0 L382.2,127.0 L382.8,127.0 L383.4,127.0 L383.9,127.0 L384.5,127.0 L385.1,127.0 L385.6,127.0 L386.2,127.0 L386.8,126.9 L387.3,126.9 L387.9,126.9 L388.4,126.9 L389.0,126.9 L389.6,126.9 L390.1,126.9 L390.7,126.9 L391.3,126.9 L391.8,126.9 L392.4,126.9 L393.0,126.9 L393.5,126.8 L394.1,126.8 L394.7,126.8 L395.2,126.8 L395.8,126.8 L396.3,126.8 L396.9,126.8 L397.5,126.8 L398.0,126.8 L398.6,126.8 L399.2,126.7 L399.7,126.7 L400.3,126.7 L400.9,126.7 L401.4,126.7 L402.0,126.7 L402.6,126.7 L403.1,126.7 L403.7,126.7 L404.2,126.6 L404.8,126.6 L405.4,126.6 L405.9,126.6 L406.5,126.6 L407.1,126.6 L407.6,126.6 L408.2,126.6" fill="none" stroke="#cccccc" stroke-width="1.0"/>
<path d="M250.2,124.4 L250.8,119.2 L251.3,110.9 L251.9,100.1 L252.5,88.4 L253.0,77.8 L253.6,69.9 L254.1,64.3 L254.7,60.3 L255.3,57.2 L255.8,54.7 L256.4,52.9 L257.0,51.7 L257.5,51.1 L258.1,50.7 L258.7,50.4 L259.2,50.3 L259.8,50.2 L260.4,50.1 L260.9,50.0 L261.5,50.0 L262.1,50.0 L262.6,50.0 L263.2,50.0 L263.7,50.0 L264.3,50.0 L264.9,50.0 L265.4,50.0 L266.0,50.0 L266.6,50.0 L267.1,50.0 L267.7,50.0 L268.3,50.0 L268.8,50.0 L269.4,50.0 L269.9,50.0 L270.5,50.0 L271.1,50.0 L271.6,50.0 L272.2,50.0 L272.8,50.0 L273.3,50.0 L273.9,50.0 L274.5,50.0 L275.0,50.1 L275.6,50.2 L276.2,50.5 L276.7,50.9 L277.3,51.4 L277.8,52.0 L278.4,52.7 L279.0,53.4 L279.5,54.2 L280.1,55.0 L280.7,55.8 L281.2,56.7 L281.8,57.7 L282.4,58.8 L282.9,59.9 L283.5,61.2 L284.1,62.4 L284.6,63.6 L285.2,64.8 L285.8,65.9 L286.3,67.1 L286.9,68.3 L287.4,69.5 L288.0,70.7 L288.6,71.9 L289.1,73.1 L289.7,74.2 L290.3,75.3 L290.8,76.3 L291.4,77.2 L292.0,78.1 L292.5,79.0 L293.1,79.8 L293.6,80.6 L294.2,81.4 L294.8,82.1 L295.3,82.8 L295.9,83.5 L296.5,84.1 L297.0,84.7 L297.6,85.3 L298.2,85.8 L298.7,86.3 L299.3,86.7 L299.9,87.2 L300.4,87.6 L301.0,88.0 L301.5,88.4 L302.1,88.8 L302.7,89.2 L303.2,89.5 L303.8,89.9 L304.4,90.2 L304.9,90.6 L305.5,90.9 L306.1,91.2 L306.6,91.5 L307.2,91.8 L307.8,92.2 L308.3,92.5 L308.9,92.8 L309.4,93.1 L310.0,93.4 L310.6,93.7 L311.1,94.0 L311.7,94.3 L312.3,94.6 L312.8,94.9 L313.4,95.2 L314.0,95.5 L314.5,95.8 L315.1,96.0 L315.7,96.3 L316.2,96.6 L316.8,96.8 L317.3,97.1 L317.9,97.4 L318.5,97.6 L319.0,97.9 L319.6,98.2 L320.2,98.5 L320.7,98.7 L321.3,99.0 L321.9,99.3 L322.4,99.6 L323.0,99.9 L323.6,100.2 L324.1,100.5 L324.7,100.8 L325.2,101.2 L325.8,101.5 L326.4,101.8 L326.9,102.2 L327.5,102.5 L328.1,102.9 L328.6,103.2 L329.2,103.6 L329.8,104.0 L330.3,104.3 L330.9,104.7 L331.5,105.1 L332.0,105.5 L332.6,105.9 L333.1,106.4 L333.7,106.8 L334.3,107.3 L334.8,107.8 L335.4,108.3 L336.0,108.9 L336.5,109.5 L337.1,110.1 L337.7,110.8 L338.2,111.4 L338.8,112.1 L339.4,112.7 L339.9,113.4 L340.5,114.0 L341.0,114.5 L341.6,115.1 L342.2,115.5 L342.7,115.9 L343.3,116.3 L343.9,116.6 L344.4,117.0 L345.0,117.2 L345.6,117.5 L346.1,117.8 L346.7,118.0 L347.3,118.2 L347.8,118.4 L348.4,118.6 L348.9,118.8 L349.5,119.0 L350.1,119.2 L350.6,119.3 L351.2,119.5 L351.8,119.6 L352.3,119.8 L352.9,119.9 L353.5,120.1 L354.0,120.2 L354.6,120.3 L355.2,120.5 L355.7,120.6 L356.3,120.7 L356.8,120.8 L357.4,121.0 L358.0,121.1 L358.5,121.2 L359.1,121.3 L359.7,121.4 L360.2,121.5 L360.8,121.6 L361.4,121.6 L361.9,121.7 L362.5,121.8 L363.1,121.9 L363.6,121.9 L364.2,122.0 L364.8,122.1 L365.3,122.1 L365.9,122.2 L366.4,122.2 L367.0,122.3 L367.6,122.4 L368.1,122.4 L368.7,122.5 L369.3,122.5 L369.8,122.6 L370.4,122.6 L371.0,122.7 L371.5,122.8 L372.1,122.8 L372.6,122.9 L373.2,122.9 L373.8,123.0 L374.3,123.0 L374.9,123.1 L375.5,123.1 L376.0,123.2 L376.6,123.2 L377.2,123.3 L377.7,123.3 L378.3,123.4 L378.9,123.4 L379.4,123.5 L380.0,123.5 L380.5,123.6 L381.1,123.6 L381.7,123.7 L382.2,123.7 L382.8,123.8 L383.4,123.8 L383.9,123.9 L384.5,123.9 L385.1,123.9 L385.6,124.0 L386.2,124.0 L386.8,124.1 L387.3,124.1 L387.9,124.1 L388.4,124.2 L389.0,124.2 L389.6,124.2 L390.1,124.3 L390.7,124.3 L391.3,124.3 L391.8,124.4 L392.4,124.4 L393.0,124.4 L393.5,124.5 L394.1,124.5 L394.7,124.5 L395.2,124.5 L395.8,124.6 L396.3,124.6 L396.9,124.6 L397.5,124.6 L398.0,124.7 L398.6,124.7 L399.2,124.7 L399.7,124.7 L400.3,124.7 L400.9,124.8 L401.4,124.8 L402.0,124.8 L402.6,124.8 L403.1,124.8 L403.7,124.8 L404.2,124.8 L404.8,124.8 L405.4,124.8 L405.9,124.8 L406.5,124.9 L407.1,124.9 L407.6,124.9 L408.2,124.9" fill="none" stroke="#ff8a22" stroke-width="1.3" stroke-dasharray="2 1.6"/>
<path d="M250.2,124.1 L250.8,118.9 L251.3,111.2 L251.9,101.6 L252.5,91.2 L253.0,81.3 L253.6,73.0 L254.1,66.3 L254.7,61.0 L255.3,56.5 L255.8,52.6 L256.4,49.6 L257.0,47.6 L257.5,46.3 L258.1,45.5 L258.7,45.0 L259.2,44.6 L259.8,44.3 L260.4,44.1 L260.9,43.9 L261.5,43.8 L262.1,43.8 L262.6,43.7 L263.2,43.7 L263.7,43.7 L264.3,43.7 L264.9,43.8 L265.4,43.8 L266.0,43.8 L266.6,43.8 L267.1,43.8 L267.7,43.9 L268.3,43.9 L268.8,43.9 L269.4,44.0 L269.9,44.0 L270.5,44.0 L271.1,44.1 L271.6,44.2 L272.2,44.2 L272.8,44.3 L273.3,44.3 L273.9,44.4 L274.5,44.5 L275.0,44.6 L275.6,44.7 L276.2,44.8 L276.7,45.1 L277.3,45.5 L277.8,46.3 L278.4,47.3 L279.0,48.6 L279.5,50.0 L280.1,51.4 L280.7,52.8 L281.2,54.0 L281.8,55.3 L282.4,56.5 L282.9,57.7 L283.5,58.9 L284.1,60.1 L284.6,61.3 L285.2,62.5 L285.8,63.7 L286.3,64.9 L286.9,66.2 L287.4,67.4 L288.0,68.7 L288.6,69.9 L289.1,71.0 L289.7,72.1 L290.3,73.1 L290.8,74.1 L291.4,74.9 L292.0,75.7 L292.5,76.4 L293.1,77.1 L293.6,77.8 L294.2,78.4 L294.8,79.0 L295.3,79.5 L295.9,80.0 L296.5,80.5 L297.0,81.0 L297.6,81.4 L298.2,81.8 L298.7,82.1 L299.3,82.5 L299.9,82.8 L300.4,83.1 L301.0,83.5 L301.5,83.7 L302.1,84.0 L302.7,84.3 L303.2,84.6 L303.8,84.8 L304.4,85.1 L304.9,85.3 L305.5,85.6 L306.1,85.8 L306.6,86.0 L307.2,86.2 L307.8,86.5 L308.3,86.7 L308.9,86.9 L309.4,87.1 L310.0,87.3 L310.6,87.5 L311.1,87.7 L311.7,87.9 L312.3,88.1 L312.8,88.3 L313.4,88.5 L314.0,88.6 L314.5,88.8 L315.1,89.0 L315.7,89.1 L316.2,89.3 L316.8,89.4 L317.3,89.6 L317.9,89.7 L318.5,89.9 L319.0,90.0 L319.6,90.2 L320.2,90.4 L320.7,90.5 L321.3,90.7 L321.9,90.9 L322.4,91.1 L323.0,91.3 L323.6,91.5 L324.1,91.7 L324.7,91.9 L325.2,92.2 L325.8,92.4 L326.4,92.7 L326.9,93.0 L327.5,93.3 L328.1,93.6 L328.6,93.9 L329.2,94.2 L329.8,94.5 L330.3,94.9 L330.9,95.2 L331.5,95.6 L332.0,95.9 L332.6,96.3 L333.1,96.7 L333.7,97.1 L334.3,97.5 L334.8,98.0 L335.4,98.4 L336.0,98.9 L336.5,99.4 L337.1,99.9 L337.7,100.4 L338.2,100.9 L338.8,101.4 L339.4,101.9 L339.9,102.3 L340.5,102.8 L341.0,103.2 L341.6,103.6 L342.2,104.0 L342.7,104.3 L343.3,104.6 L343.9,104.9 L344.4,105.1 L345.0,105.4 L345.6,105.6 L346.1,105.8 L346.7,106.0 L347.3,106.2 L347.8,106.4 L348.4,106.6 L348.9,106.8 L349.5,107.0 L350.1,107.2 L350.6,107.4 L351.2,107.6 L351.8,107.8 L352.3,108.0 L352.9,108.2 L353.5,108.5 L354.0,108.7 L354.6,108.9 L355.2,109.1 L355.7,109.3 L356.3,109.5 L356.8,109.7 L357.4,109.9 L358.0,110.2 L358.5,110.4 L359.1,110.6 L359.7,110.8 L360.2,111.0 L360.8,111.2 L361.4,111.4 L361.9,111.6 L362.5,111.7 L363.1,111.9 L363.6,112.1 L364.2,112.3 L364.8,112.5 L365.3,112.6 L365.9,112.8 L366.4,113.0 L367.0,113.2 L367.6,113.3 L368.1,113.5 L368.7,113.7 L369.3,113.9 L369.8,114.0 L370.4,114.2 L371.0,114.4 L371.5,114.5 L372.1,114.7 L372.6,114.9 L373.2,115.0 L373.8,115.2 L374.3,115.3 L374.9,115.5 L375.5,115.7 L376.0,115.8 L376.6,116.0 L377.2,116.1 L377.7,116.2 L378.3,116.4 L378.9,116.5 L379.4,116.6 L380.0,116.8 L380.5,116.9 L381.1,117.0 L381.7,117.1 L382.2,117.3 L382.8,117.4 L383.4,117.5 L383.9,117.6 L384.5,117.7 L385.1,117.8 L385.6,117.9 L386.2,118.0 L386.8,118.1 L387.3,118.2 L387.9,118.3 L388.4,118.4 L389.0,118.5 L389.6,118.6 L390.1,118.7 L390.7,118.8 L391.3,118.9 L391.8,118.9 L392.4,119.0 L393.0,119.1 L393.5,119.2 L394.1,119.3 L394.7,119.4 L395.2,119.5 L395.8,119.5 L396.3,119.6 L396.9,119.7 L397.5,119.8 L398.0,119.9 L398.6,119.9 L399.2,120.0 L399.7,120.1 L400.3,120.1 L400.9,120.2 L401.4,120.3 L402.0,120.3 L402.6,120.4 L403.1,120.4 L403.7,120.5 L404.2,120.6 L404.8,120.6 L405.4,120.7 L405.9,120.7 L406.5,120.7 L407.1,120.8 L407.6,120.8 L408.2,120.8" fill="none" stroke="#7d8a1e" stroke-width="1.3" stroke-dasharray="2 1.6"/>
<path d="M250.2,124.1 L250.8,118.9 L251.3,111.3 L251.9,101.7 L252.5,91.1 L253.0,80.5 L253.6,70.9 L254.1,63.1 L254.7,57.1 L255.3,53.0 L255.8,50.1 L256.4,48.3 L257.0,47.1 L257.5,46.4 L258.1,46.0 L258.7,45.6 L259.2,45.4 L259.8,45.2 L260.4,45.1 L260.9,45.0 L261.5,44.9 L262.1,44.9 L262.6,44.9 L263.2,44.9 L263.7,44.9 L264.3,44.9 L264.9,44.9 L265.4,45.0 L266.0,45.0 L266.6,45.1 L267.1,45.1 L267.7,45.2 L268.3,45.2 L268.8,45.3 L269.4,45.4 L269.9,45.4 L270.5,45.5 L271.1,45.6 L271.6,45.7 L272.2,45.9 L272.8,46.0 L273.3,46.1 L273.9,46.3 L274.5,46.4 L275.0,46.6 L275.6,46.8 L276.2,47.0 L276.7,47.4 L277.3,48.0 L277.8,48.9 L278.4,50.2 L279.0,51.8 L279.5,53.5 L280.1,55.1 L280.7,56.7 L281.2,58.2 L281.8,59.7 L282.4,61.1 L282.9,62.5 L283.5,64.0 L284.1,65.4 L284.6,66.9 L285.2,68.4 L285.8,69.9 L286.3,71.5 L286.9,73.2 L287.4,74.8 L288.0,76.5 L288.6,78.1 L289.1,79.7 L289.7,81.3 L290.3,82.8 L290.8,84.1 L291.4,85.4 L292.0,86.6 L292.5,87.7 L293.1,88.8 L293.6,89.8 L294.2,90.8 L294.8,91.8 L295.3,92.7 L295.9,93.6 L296.5,94.4 L297.0,95.2 L297.6,95.9 L298.2,96.6 L298.7,97.2 L299.3,97.8 L299.9,98.4 L300.4,99.0 L301.0,99.6 L301.5,100.2 L302.1,100.7 L302.7,101.2 L303.2,101.6 L303.8,102.1 L304.4,102.5 L304.9,102.9 L305.5,103.2 L306.1,103.5 L306.6,103.8 L307.2,104.1 L307.8,104.3 L308.3,104.5 L308.9,104.7 L309.4,104.9 L310.0,105.1 L310.6,105.3 L311.1,105.4 L311.7,105.6 L312.3,105.7 L312.8,105.9 L313.4,106.0 L314.0,106.2 L314.5,106.3 L315.1,106.5 L315.7,106.6 L316.2,106.8 L316.8,106.9 L317.3,107.1 L317.9,107.2 L318.5,107.4 L319.0,107.5 L319.6,107.7 L320.2,107.8 L320.7,107.9 L321.3,108.1 L321.9,108.2 L322.4,108.3 L323.0,108.5 L323.6,108.6 L324.1,108.7 L324.7,108.9 L325.2,109.0 L325.8,109.2 L326.4,109.3 L326.9,109.4 L327.5,109.6 L328.1,109.8 L328.6,109.9 L329.2,110.1 L329.8,110.3 L330.3,110.4 L330.9,110.6 L331.5,110.8 L332.0,111.1 L332.6,111.3 L333.1,111.6 L333.7,111.8 L334.3,112.1 L334.8,112.4 L335.4,112.7 L336.0,113.0 L336.5,113.3 L337.1,113.6 L337.7,113.9 L338.2,114.2 L338.8,114.5 L339.4,114.8 L339.9,115.1 L340.5,115.3 L341.0,115.6 L341.6,115.8 L342.2,116.0 L342.7,116.1 L343.3,116.3 L343.9,116.5 L344.4,116.6 L345.0,116.7 L345.6,116.9 L346.1,117.0 L346.7,117.1 L347.3,117.3 L347.8,117.4 L348.4,117.5 L348.9,117.6 L349.5,117.7 L350.1,117.9 L350.6,118.0 L351.2,118.1 L351.8,118.2 L352.3,118.3 L352.9,118.4 L353.5,118.5 L354.0,118.6 L354.6,118.7 L355.2,118.8 L355.7,118.9 L356.3,118.9 L356.8,119.0 L357.4,119.1 L358.0,119.2 L358.5,119.2 L359.1,119.3 L359.7,119.4 L360.2,119.4 L360.8,119.5 L361.4,119.5 L361.9,119.6 L362.5,119.6 L363.1,119.6 L363.6,119.7 L364.2,119.7 L364.8,119.7 L365.3,119.8 L365.9,119.8 L366.4,119.8 L367.0,119.9 L367.6,119.9 L368.1,119.9 L368.7,119.9 L369.3,120.0 L369.8,120.0 L370.4,120.0 L371.0,120.0 L371.5,120.0 L372.1,120.1 L372.6,120.1 L373.2,120.1 L373.8,120.1 L374.3,120.2 L374.9,120.2 L375.5,120.2 L376.0,120.2 L376.6,120.3 L377.2,120.3 L377.7,120.3 L378.3,120.3 L378.9,120.3 L379.4,120.4 L380.0,120.4 L380.5,120.4 L381.1,120.4 L381.7,120.4 L382.2,120.4 L382.8,120.5 L383.4,120.5 L383.9,120.5 L384.5,120.5 L385.1,120.5 L385.6,120.5 L386.2,120.6 L386.8,120.6 L387.3,120.6 L387.9,120.6 L388.4,120.6 L389.0,120.6 L389.6,120.6 L390.1,120.7 L390.7,120.7 L391.3,120.7 L391.8,120.7 L392.4,120.7 L393.0,120.7 L393.5,120.7 L394.1,120.7 L394.7,120.7 L395.2,120.8 L395.8,120.8 L396.3,120.8 L396.9,120.8 L397.5,120.8 L398.0,120.8 L398.6,120.8 L399.2,120.8 L399.7,120.8 L400.3,120.8 L400.9,120.8 L401.4,120.8 L402.0,120.8 L402.6,120.8 L403.1,120.8 L403.7,120.8 L404.2,120.8 L404.8,120.9 L405.4,120.9 L405.9,120.9 L406.5,120.9 L407.1,120.9 L407.6,120.9 L408.2,120.9" fill="none" stroke="#22ee22" stroke-width="1.3" stroke-dasharray="2 1.6"/>
<path d="M250.2,66.2 L250.8,64.0 L251.3,60.7 L251.9,57.0 L252.5,53.5 L253.0,51.0 L253.6,49.4 L254.1,48.4 L254.7,47.8 L255.3,47.3 L255.8,47.0 L256.4,46.8 L257.0,46.8 L257.5,47.0 L258.1,47.4 L258.7,47.9 L259.2,48.5 L259.8,49.1 L260.4,49.5 L260.9,49.8 L261.5,50.0 L262.1,50.0 L262.6,50.0 L263.2,50.0 L263.7,50.0 L264.3,50.0 L264.9,50.0 L265.4,50.0 L266.0,50.0 L266.6,50.0 L267.1,50.0 L267.7,50.0 L268.3,50.0 L268.8,50.0 L269.4,50.0 L269.9,50.0 L270.5,50.0 L271.1,50.0 L271.6,50.0 L272.2,50.0 L272.8,50.0 L273.3,50.0 L273.9,50.0 L274.5,50.0 L275.0,50.1 L275.6,50.3 L276.2,50.5 L276.7,50.9 L277.3,51.5 L277.8,52.1 L278.4,52.7 L279.0,53.4 L279.5,54.1 L280.1,54.8 L280.7,55.4 L281.2,56.1 L281.8,56.6 L282.4,57.2 L282.9,57.8 L283.5,58.3 L284.1,58.9 L284.6,59.4 L285.2,59.9 L285.8,60.4 L286.3,60.9 L286.9,61.5 L287.4,62.0 L288.0,62.5 L288.6,63.0 L289.1,63.5 L289.7,63.9 L290.3,64.3 L290.8,64.7 L291.4,65.0 L292.0,65.2 L292.5,65.3 L293.1,65.3 L293.6,65.3 L294.2,65.2 L294.8,65.0 L295.3,64.7 L295.9,64.4 L296.5,64.1 L297.0,63.7 L297.6,63.3 L298.2,62.8 L298.7,62.4 L299.3,62.0 L299.9,61.6 L300.4,61.1 L301.0,60.8 L301.5,60.4 L302.1,60.1 L302.7,59.7 L303.2,59.4 L303.8,59.1 L304.4,58.7 L304.9,58.4 L305.5,58.1 L306.1,57.7 L306.6,57.4 L307.2,57.0 L307.8,56.7 L308.3,56.4 L308.9,56.0 L309.4,55.7 L310.0,55.4 L310.6,55.0 L311.1,54.7 L311.7,54.4 L312.3,54.1 L312.8,53.8 L313.4,53.5 L314.0,53.2 L314.5,52.9 L315.1,52.6 L315.7,52.4 L316.2,52.1 L316.8,51.9 L317.3,51.6 L317.9,51.4 L318.5,51.2 L319.0,50.9 L319.6,50.7 L320.2,50.4 L320.7,50.2 L321.3,50.0 L321.9,49.7 L322.4,49.5 L323.0,49.3 L323.6,49.1 L324.1,48.9 L324.7,48.7 L325.2,48.6 L325.8,48.5 L326.4,48.4 L326.9,48.4 L327.5,48.3 L328.1,48.4 L328.6,48.4 L329.2,48.6 L329.8,48.7 L330.3,49.0 L330.9,49.2 L331.5,49.5 L332.0,49.8 L332.6,50.2 L333.1,50.6 L333.7,51.0 L334.3,51.4 L334.8,51.8 L335.4,52.2 L336.0,52.6 L336.5,53.0 L337.1,53.4 L337.7,53.8 L338.2,54.2 L338.8,54.6 L339.4,55.1 L339.9,55.5 L340.5,56.0 L341.0,56.4 L341.6,56.9 L342.2,57.4 L342.7,57.9 L343.3,58.5 L343.9,59.0 L344.4,59.5 L345.0,60.0 L345.6,60.5 L346.1,61.0 L346.7,61.5 L347.3,62.0 L347.8,62.5 L348.4,62.9 L348.9,63.4 L349.5,63.8 L350.1,64.3 L350.6,64.7 L351.2,65.1 L351.8,65.5 L352.3,65.9 L352.9,66.3 L353.5,66.7 L354.0,67.1 L354.6,67.5 L355.2,67.8 L355.7,68.2 L356.3,68.6 L356.8,69.0 L357.4,69.3 L358.0,69.7 L358.5,70.0 L359.1,70.4 L359.7,70.7 L360.2,71.1 L360.8,71.4 L361.4,71.7 L361.9,72.1 L362.5,72.4 L363.1,72.7 L363.6,73.0 L364.2,73.4 L364.8,73.7 L365.3,74.0 L365.9,74.3 L366.4,74.6 L367.0,74.9 L367.6,75.2 L368.1,75.5 L368.7,75.8 L369.3,76.1 L369.8,76.4 L370.4,76.6 L371.0,76.9 L371.5,77.2 L372.1,77.5 L372.6,77.8 L373.2,78.0 L373.8,78.3 L374.3,78.6 L374.9,78.8 L375.5,79.1 L376.0,79.3 L376.6,79.6 L377.2,79.8 L377.7,80.1 L378.3,80.3 L378.9,80.5 L379.4,80.7 L380.0,80.9 L380.5,81.2 L381.1,81.4 L381.7,81.6 L382.2,81.8 L382.8,82.0 L383.4,82.2 L383.9,82.4 L384.5,82.6 L385.1,82.8 L385.6,82.9 L386.2,83.1 L386.8,83.3 L387.3,83.5 L387.9,83.7 L388.4,83.9 L389.0,84.1 L389.6,84.2 L390.1,84.4 L390.7,84.6 L391.3,84.8 L391.8,85.0 L392.4,85.1 L393.0,85.3 L393.5,85.5 L394.1,85.6 L394.7,85.8 L395.2,86.0 L395.8,86.1 L396.3,86.3 L396.9,86.5 L397.5,86.6 L398.0,86.8 L398.6,86.9 L399.2,87.1 L399.7,87.3 L400.3,87.4 L400.9,87.6 L401.4,87.7 L402.0,87.9 L402.6,88.0 L403.1,88.2 L403.7,88.3 L404.2,88.5 L404.8,88.6 L405.4,88.7 L405.9,88.9 L406.5,89.0 L407.1,89.2 L407.6,89.3 L408.2,89.4" fill="none" stroke="#ff77ff" stroke-width="1.20"/>
<path d="M250.2,30.5 L250.8,29.8 L251.3,29.2 L251.9,28.9 L252.5,29.0 L253.0,29.7 L253.6,30.6 L254.1,31.8 L254.7,33.0 L255.3,34.2 L255.8,35.5 L256.4,36.7 L257.0,37.9 L257.5,39.0 L258.1,39.8 L258.7,40.3 L259.2,40.4 L259.8,40.0 L260.4,39.3 L260.9,38.4 L261.5,37.5 L262.1,36.6 L262.6,35.9 L263.2,35.3 L263.7,34.7 L264.3,34.3 L264.9,33.9 L265.4,33.7 L266.0,33.5 L266.6,33.5 L267.1,33.5 L267.7,33.5 L268.3,33.5 L268.8,33.5 L269.4,33.6 L269.9,33.6 L270.5,33.7 L271.1,33.8 L271.6,33.8 L272.2,33.9 L272.8,34.0 L273.3,34.2 L273.9,34.4 L274.5,34.7 L275.0,35.0 L275.6,35.5 L276.2,35.9 L276.7,36.4 L277.3,36.9 L277.8,37.4 L278.4,37.9 L279.0,38.6 L279.5,39.3 L280.1,40.1 L280.7,41.1 L281.2,42.3 L281.8,43.7 L282.4,45.2 L282.9,46.6 L283.5,47.9 L284.1,49.0 L284.6,49.9 L285.2,50.6 L285.8,51.2 L286.3,51.6 L286.9,52.1 L287.4,52.5 L288.0,52.8 L288.6,53.2 L289.1,53.5 L289.7,53.7 L290.3,54.0 L290.8,54.2 L291.4,54.3 L292.0,54.4 L292.5,54.5 L293.1,54.5 L293.6,54.5 L294.2,54.3 L294.8,54.1 L295.3,53.8 L295.9,53.5 L296.5,53.1 L297.0,52.7 L297.6,52.3 L298.2,51.9 L298.7,51.4 L299.3,51.0 L299.9,50.5 L300.4,50.1 L301.0,49.7 L301.5,49.4 L302.1,49.1 L302.7,48.7 L303.2,48.4 L303.8,48.1 L304.4,47.8 L304.9,47.5 L305.5,47.2 L306.1,46.9 L306.6,46.6 L307.2,46.2 L307.8,45.9 L308.3,45.6 L308.9,45.3 L309.4,45.1 L310.0,44.8 L310.6,44.5 L311.1,44.2 L311.7,43.9 L312.3,43.7 L312.8,43.4 L313.4,43.1 L314.0,42.9 L314.5,42.6 L315.1,42.4 L315.7,42.2 L316.2,42.0 L316.8,41.8 L317.3,41.6 L317.9,41.4 L318.5,41.2 L319.0,41.0 L319.6,40.8 L320.2,40.6 L320.7,40.4 L321.3,40.2 L321.9,40.0 L322.4,39.8 L323.0,39.6 L323.6,39.5 L324.1,39.3 L324.7,39.2 L325.2,39.0 L325.8,38.9 L326.4,38.8 L326.9,38.7 L327.5,38.7 L328.1,38.6 L328.6,38.6 L329.2,38.6 L329.8,38.6 L330.3,38.7 L330.9,38.8 L331.5,38.9 L332.0,39.0 L332.6,39.1 L333.1,39.3 L333.7,39.4 L334.3,39.6 L334.8,39.8 L335.4,40.0 L336.0,40.2 L336.5,40.4 L337.1,40.6 L337.7,40.8 L338.2,41.0 L338.8,41.2 L339.4,41.4 L339.9,41.6 L340.5,41.8 L341.0,42.1 L341.6,42.3 L342.2,42.6 L342.7,42.8 L343.3,43.1 L343.9,43.4 L344.4,43.7 L345.0,44.0 L345.6,44.3 L346.1,44.6 L346.7,44.9 L347.3,45.3 L347.8,45.6 L348.4,45.9 L348.9,46.2 L349.5,46.6 L350.1,46.9 L350.6,47.2 L351.2,47.6 L351.8,47.9 L352.3,48.3 L352.9,48.7 L353.5,49.0 L354.0,49.4 L354.6,49.8 L355.2,50.2 L355.7,50.6 L356.3,50.9 L356.8,51.3 L357.4,51.7 L358.0,52.1 L358.5,52.4 L359.1,52.8 L359.7,53.2 L360.2,53.5 L360.8,53.9 L361.4,54.3 L361.9,54.6 L362.5,55.0 L363.1,55.4 L363.6,55.8 L364.2,56.1 L364.8,56.5 L365.3,56.9 L365.9,57.2 L366.4,57.6 L367.0,57.9 L367.6,58.3 L368.1,58.6 L368.7,59.0 L369.3,59.3 L369.8,59.7 L370.4,60.0 L371.0,60.3 L371.5,60.7 L372.1,61.0 L372.6,61.3 L373.2,61.7 L373.8,62.0 L374.3,62.3 L374.9,62.6 L375.5,62.9 L376.0,63.2 L376.6,63.5 L377.2,63.8 L377.7,64.1 L378.3,64.3 L378.9,64.6 L379.4,64.8 L380.0,65.1 L380.5,65.3 L381.1,65.5 L381.7,65.8 L382.2,66.0 L382.8,66.2 L383.4,66.4 L383.9,66.6 L384.5,66.9 L385.1,67.1 L385.6,67.3 L386.2,67.5 L386.8,67.7 L387.3,67.9 L387.9,68.0 L388.4,68.2 L389.0,68.4 L389.6,68.6 L390.1,68.8 L390.7,68.9 L391.3,69.1 L391.8,69.3 L392.4,69.5 L393.0,69.6 L393.5,69.8 L394.1,69.9 L394.7,70.1 L395.2,70.3 L395.8,70.4 L396.3,70.6 L396.9,70.7 L397.5,70.9 L398.0,71.1 L398.6,71.2 L399.2,71.4 L399.7,71.5 L400.3,71.7 L400.9,71.8 L401.4,72.0 L402.0,72.1 L402.6,72.3 L403.1,72.4 L403.7,72.6 L404.2,72.7 L404.8,72.9 L405.4,73.0 L405.9,73.2 L406.5,73.3 L407.1,73.4 L407.6,73.6 L408.2,73.6" fill="none" stroke="#8614f0" stroke-width="1.35"/>
<rect x="250.20" y="8.30" width="158.00" height="125.70" fill="none" stroke="#3c3c3c" stroke-width="1.25"/>
<line x1="250.20" y1="134.00" x2="250.20" y2="136.20" stroke="#3c3c3c" stroke-width="1"/>
<text x="250.20" y="144.70" font-size="8.30" text-anchor="middle" font-weight="normal" fill="#222" >200</text>
<line x1="261.49" y1="134.00" x2="261.49" y2="135.60" stroke="#3c3c3c" stroke-width="1"/>
<line x1="272.77" y1="134.00" x2="272.77" y2="136.20" stroke="#3c3c3c" stroke-width="1"/>
<text x="272.77" y="144.70" font-size="8.30" text-anchor="middle" font-weight="normal" fill="#222" >300</text>
<line x1="284.06" y1="134.00" x2="284.06" y2="135.60" stroke="#3c3c3c" stroke-width="1"/>
<line x1="295.34" y1="134.00" x2="295.34" y2="136.20" stroke="#3c3c3c" stroke-width="1"/>
<text x="295.34" y="144.70" font-size="8.30" text-anchor="middle" font-weight="normal" fill="#222" >400</text>
<line x1="306.63" y1="134.00" x2="306.63" y2="135.60" stroke="#3c3c3c" stroke-width="1"/>
<line x1="317.91" y1="134.00" x2="317.91" y2="136.20" stroke="#3c3c3c" stroke-width="1"/>
<text x="317.91" y="144.70" font-size="8.30" text-anchor="middle" font-weight="normal" fill="#222" >500</text>
<line x1="329.20" y1="134.00" x2="329.20" y2="135.60" stroke="#3c3c3c" stroke-width="1"/>
<line x1="340.49" y1="134.00" x2="340.49" y2="136.20" stroke="#3c3c3c" stroke-width="1"/>
<text x="340.49" y="144.70" font-size="8.30" text-anchor="middle" font-weight="normal" fill="#222" >600</text>
<line x1="351.77" y1="134.00" x2="351.77" y2="135.60" stroke="#3c3c3c" stroke-width="1"/>
<line x1="363.06" y1="134.00" x2="363.06" y2="136.20" stroke="#3c3c3c" stroke-width="1"/>
<text x="363.06" y="144.70" font-size="8.30" text-anchor="middle" font-weight="normal" fill="#222" >700</text>
<line x1="374.34" y1="134.00" x2="374.34" y2="135.60" stroke="#3c3c3c" stroke-width="1"/>
<line x1="385.63" y1="134.00" x2="385.63" y2="136.20" stroke="#3c3c3c" stroke-width="1"/>
<text x="385.63" y="144.70" font-size="8.30" text-anchor="middle" font-weight="normal" fill="#222" >800</text>
<line x1="396.91" y1="134.00" x2="396.91" y2="135.60" stroke="#3c3c3c" stroke-width="1"/>
<line x1="408.20" y1="134.00" x2="408.20" y2="136.20" stroke="#3c3c3c" stroke-width="1"/>
<text x="408.20" y="144.70" font-size="8.30" text-anchor="middle" font-weight="normal" fill="#222" >900</text>
<line x1="248.00" y1="122.57" x2="250.20" y2="122.57" stroke="#3c3c3c" stroke-width="1"/>
<text x="246.60" y="126.07" font-size="8.30" text-anchor="end" font-weight="normal" fill="#222" >0.0</text>
<line x1="248.60" y1="108.29" x2="250.20" y2="108.29" stroke="#3c3c3c" stroke-width="1"/>
<line x1="248.00" y1="94.00" x2="250.20" y2="94.00" stroke="#3c3c3c" stroke-width="1"/>
<text x="246.60" y="97.50" font-size="8.30" text-anchor="end" font-weight="normal" fill="#222" >0.5</text>
<line x1="248.60" y1="79.72" x2="250.20" y2="79.72" stroke="#3c3c3c" stroke-width="1"/>
<line x1="248.00" y1="65.44" x2="250.20" y2="65.44" stroke="#3c3c3c" stroke-width="1"/>
<text x="246.60" y="68.94" font-size="8.30" text-anchor="end" font-weight="normal" fill="#222" >1.0</text>
<line x1="248.60" y1="51.15" x2="250.20" y2="51.15" stroke="#3c3c3c" stroke-width="1"/>
<line x1="248.00" y1="36.87" x2="250.20" y2="36.87" stroke="#3c3c3c" stroke-width="1"/>
<text x="246.60" y="40.37" font-size="8.30" text-anchor="end" font-weight="normal" fill="#222" >1.5</text>
<line x1="248.60" y1="22.58" x2="250.20" y2="22.58" stroke="#3c3c3c" stroke-width="1"/>
<line x1="248.00" y1="8.30" x2="250.20" y2="8.30" stroke="#3c3c3c" stroke-width="1"/>
<text x="246.60" y="11.80" font-size="8.30" text-anchor="end" font-weight="normal" fill="#222" >2.0</text>
<text x="289.20" y="163.00" font-size="12.6" fill="#222" stroke="#222" stroke-width="0.2" textLength="81" lengthAdjust="spacingAndGlyphs">Wavelength (nm)</text>
<text x="0" y="0" font-size="11.6" fill="#222" stroke="#222" stroke-width="0.2" textLength="82.7" lengthAdjust="spacingAndGlyphs" transform="translate(229.00,111.90) rotate(-90)">Absorbance (a.u.)</text>
<text x="317.70" y="185.00" font-size="10.80" text-anchor="middle" font-weight="bold" fill="#222" >(b)</text>
<text x="326.80" y="30.70" font-size="6.7" text-anchor="middle" fill="#1a1a1a" stroke="#1a1a1a" stroke-width="0.18">544</text>
<text x="323.70" y="62.60" font-size="6.7" text-anchor="middle" fill="#1a1a1a" stroke="#1a1a1a" stroke-width="0.18">525</text>
<text x="314.50" y="79.80" font-size="6.7" text-anchor="middle" fill="#1a1a1a" stroke="#1a1a1a" stroke-width="0.18">495</text>
<line x1="361.20" y1="10.10" x2="373.20" y2="10.10" stroke="#cccccc" stroke-width="1.0"/>
<text x="0" y="0" font-size="6.20" fill="#333" transform="translate(375.20,12.15) scale(0.880,1)">TiO<tspan font-size="3.84" dy="1.86">2</tspan></text>
<line x1="361.20" y1="19.00" x2="373.20" y2="19.00" stroke="#22ee22" stroke-width="1.2" stroke-dasharray="2 1.8"/>
<text x="0" y="0" font-size="6.20" fill="#333" transform="translate(375.20,21.05) scale(0.880,1)">Fe/TiO<tspan font-size="3.84" dy="1.86">2</tspan></text>
<line x1="361.20" y1="27.30" x2="373.20" y2="27.30" stroke="#ff77ff" stroke-width="1.2"/>
<text x="0" y="0" font-size="6.20" fill="#333" transform="translate(375.20,29.35) scale(0.880,1)">AuAg/Fe/TiO<tspan font-size="3.84" dy="1.86">2</tspan></text>
<line x1="361.20" y1="35.60" x2="373.20" y2="35.60" stroke="#8614f0" stroke-width="1.2"/>
<text x="0" y="0" font-size="6.20" fill="#333" transform="translate(375.20,37.65) scale(0.880,1)">AgAu/Fe/TiO<tspan font-size="3.84" dy="1.86">2</tspan></text>
<line x1="361.20" y1="44.10" x2="373.20" y2="44.10" stroke="#7d8a1e" stroke-width="1.2" stroke-dasharray="2 1.8"/>
<text x="0" y="0" font-size="6.20" fill="#333" transform="translate(375.20,46.15) scale(0.880,1)">Ag/Fe/TiO<tspan font-size="3.84" dy="1.86">2</tspan></text>
<line x1="361.20" y1="52.30" x2="373.20" y2="52.30" stroke="#ff8a22" stroke-width="1.2" stroke-dasharray="2 1.8"/>
<text x="0" y="0" font-size="6.20" fill="#333" transform="translate(375.20,54.35) scale(0.880,1)">Au/Fe/TiO<tspan font-size="3.84" dy="1.86">2</tspan></text>
<text x="77.00" y="218.30" font-size="22.30" text-anchor="middle" font-weight="normal" fill="#d2d2d2" >Ce</text>
<path d="M31.9,302.3 L32.5,295.5 L33.0,286.1 L33.6,275.0 L34.2,263.4 L34.7,252.8 L35.3,244.6 L35.9,239.3 L36.4,236.3 L37.0,234.5 L37.5,233.3 L38.1,232.4 L38.7,231.8 L39.2,231.4 L39.8,231.2 L40.4,231.2 L40.9,231.2 L41.5,231.2 L42.1,231.3 L42.6,231.3 L43.2,231.4 L43.8,231.4 L44.3,231.5 L44.9,231.6 L45.5,231.6 L46.0,231.7 L46.6,231.7 L47.1,231.8 L47.7,231.8 L48.3,231.8 L48.8,231.8 L49.4,231.9 L50.0,231.9 L50.5,231.9 L51.1,231.9 L51.7,231.9 L52.2,232.0 L52.8,232.0 L53.4,232.0 L53.9,232.1 L54.5,232.1 L55.1,232.2 L55.6,232.3 L56.2,232.4 L56.7,232.8 L57.3,233.3 L57.9,234.0 L58.4,234.8 L59.0,235.8 L59.6,236.7 L60.1,237.8 L60.7,239.1 L61.3,240.5 L61.8,242.1 L62.4,244.0 L63.0,246.2 L63.5,248.6 L64.1,251.2 L64.6,253.9 L65.2,256.8 L65.8,259.8 L66.3,262.9 L66.9,266.0 L67.5,269.3 L68.0,272.8 L68.6,276.4 L69.2,279.9 L69.7,283.2 L70.3,286.2 L70.9,289.0 L71.4,291.6 L72.0,294.0 L72.6,296.4 L73.1,298.6 L73.7,300.6 L74.2,302.4 L74.8,304.1 L75.4,305.6 L75.9,306.9 L76.5,308.0 L77.1,309.0 L77.6,309.9 L78.2,310.5 L78.8,311.0 L79.3,311.3 L79.9,311.6 L80.5,311.8 L81.0,312.0 L81.6,312.1 L82.2,312.2 L82.7,312.2 L83.3,312.2 L83.8,312.2 L84.4,312.2 L85.0,312.2 L85.5,312.2 L86.1,312.2 L86.7,312.2 L87.2,312.2 L87.8,312.2 L88.4,312.2 L88.9,312.2 L89.5,312.2 L90.1,312.2 L90.6,312.2 L91.2,312.2 L91.8,312.2 L92.3,312.2 L92.9,312.2 L93.4,312.2 L94.0,312.2 L94.6,312.2 L95.1,312.2 L95.7,312.2 L96.3,312.2 L96.8,312.2 L97.4,312.2 L98.0,312.2 L98.5,312.2 L99.1,312.2 L99.7,312.2 L100.2,312.2 L100.8,312.2 L101.4,312.2 L101.9,312.2 L102.5,312.2 L103.0,312.2 L103.6,312.2 L104.2,312.2 L104.7,312.2 L105.3,312.2 L105.9,312.2 L106.4,312.2 L107.0,312.2 L107.6,312.2 L108.1,312.2 L108.7,312.2 L109.3,312.2 L109.8,312.2 L110.4,312.2 L110.9,312.2 L111.5,312.2 L112.1,312.2 L112.6,312.2 L113.2,312.2 L113.8,312.2 L114.3,312.2 L114.9,312.2 L115.5,312.2 L116.0,312.2 L116.6,312.2 L117.2,312.2 L117.7,312.2 L118.3,312.2 L118.9,312.2 L119.4,312.2 L120.0,312.2 L120.5,312.2 L121.1,312.2 L121.7,312.2 L122.2,312.2 L122.8,312.2 L123.4,312.2 L123.9,312.2 L124.5,312.2 L125.1,312.2 L125.6,312.2 L126.2,312.2 L126.8,312.2 L127.3,312.2 L127.9,312.2 L128.5,312.2 L129.0,312.2 L129.6,312.2 L130.1,312.2 L130.7,312.2 L131.3,312.2 L131.8,312.2 L132.4,312.2 L133.0,312.2 L133.5,312.2 L134.1,312.2 L134.7,312.2 L135.2,312.2 L135.8,312.2 L136.4,312.2 L136.9,312.2 L137.5,312.2 L138.1,312.2 L138.6,312.2 L139.2,312.2 L139.7,312.2 L140.3,312.2 L140.9,312.2 L141.4,312.2 L142.0,312.2 L142.6,312.2 L143.1,312.2 L143.7,312.2 L144.3,312.2 L144.8,312.2 L145.4,312.2 L146.0,312.2 L146.5,312.2 L147.1,312.2 L147.7,312.2 L148.2,312.2 L148.8,312.2 L149.3,312.2 L149.9,312.2 L150.5,312.2 L151.0,312.2 L151.6,312.2 L152.2,312.2 L152.7,312.2 L153.3,312.2 L153.9,312.2 L154.4,312.2 L155.0,312.2 L155.6,312.2 L156.1,312.2 L156.7,312.2 L157.3,312.2 L157.8,312.2 L158.4,312.2 L158.9,312.2 L159.5,312.2 L160.1,312.2 L160.6,312.2 L161.2,312.2 L161.8,312.2 L162.3,312.2 L162.9,312.2 L163.5,312.2 L164.0,312.2 L164.6,312.2 L165.2,312.2 L165.7,312.2 L166.3,312.2 L166.8,312.2 L167.4,312.2 L168.0,312.2 L168.5,312.2 L169.1,312.2 L169.7,312.2 L170.2,312.2 L170.8,312.2 L171.4,312.2 L171.9,312.2 L172.5,312.2 L173.1,312.2 L173.6,312.2 L174.2,312.2 L174.8,312.2 L175.3,312.2 L175.9,312.2 L176.4,312.2 L177.0,312.2 L177.6,312.2 L178.1,312.2 L178.7,312.2 L179.3,312.2 L179.8,312.2 L180.4,312.2 L181.0,312.2 L181.5,312.2 L182.1,312.2 L182.7,312.2 L183.2,312.2 L183.8,312.2 L184.4,312.2 L184.9,312.2 L185.5,312.2 L186.0,312.2 L186.6,312.2 L187.2,312.2 L187.7,312.2 L188.3,312.2 L188.9,312.2 L189.4,312.2 L190.0,312.2" fill="none" stroke="#cccccc" stroke-width="1.0"/>
<path d="M31.9,301.7 L32.5,295.6 L33.0,287.8 L33.6,279.2 L34.2,270.9 L34.7,263.1 L35.3,256.2 L35.9,250.0 L36.4,244.6 L37.0,240.1 L37.5,236.6 L38.1,234.2 L38.7,232.8 L39.2,232.0 L39.8,231.5 L40.4,231.1 L40.9,230.7 L41.5,230.4 L42.1,230.1 L42.6,229.9 L43.2,229.7 L43.8,229.6 L44.3,229.5 L44.9,229.5 L45.5,229.5 L46.0,229.5 L46.6,229.5 L47.1,229.5 L47.7,229.5 L48.3,229.6 L48.8,229.6 L49.4,229.7 L50.0,229.7 L50.5,229.8 L51.1,229.9 L51.7,230.0 L52.2,230.1 L52.8,230.2 L53.4,230.3 L53.9,230.5 L54.5,230.6 L55.1,230.8 L55.6,231.0 L56.2,231.3 L56.7,231.7 L57.3,232.3 L57.9,233.2 L58.4,234.2 L59.0,235.4 L59.6,236.8 L60.1,238.3 L60.7,240.0 L61.3,241.9 L61.8,243.8 L62.4,245.8 L63.0,247.7 L63.5,249.5 L64.1,251.4 L64.6,253.1 L65.2,254.7 L65.8,256.1 L66.3,257.4 L66.9,258.6 L67.5,259.7 L68.0,260.8 L68.6,261.8 L69.2,262.9 L69.7,263.9 L70.3,265.0 L70.9,266.1 L71.4,267.2 L72.0,268.2 L72.6,269.3 L73.1,270.3 L73.7,271.3 L74.2,272.3 L74.8,273.2 L75.4,274.0 L75.9,274.8 L76.5,275.5 L77.1,276.2 L77.6,276.9 L78.2,277.5 L78.8,278.1 L79.3,278.7 L79.9,279.3 L80.5,279.8 L81.0,280.3 L81.6,280.8 L82.2,281.3 L82.7,281.7 L83.3,282.2 L83.8,282.6 L84.4,283.0 L85.0,283.4 L85.5,283.8 L86.1,284.1 L86.7,284.5 L87.2,284.8 L87.8,285.1 L88.4,285.4 L88.9,285.6 L89.5,285.9 L90.1,286.1 L90.6,286.3 L91.2,286.5 L91.8,286.7 L92.3,286.9 L92.9,287.1 L93.4,287.3 L94.0,287.4 L94.6,287.6 L95.1,287.8 L95.7,287.9 L96.3,288.1 L96.8,288.3 L97.4,288.4 L98.0,288.6 L98.5,288.7 L99.1,288.9 L99.7,289.1 L100.2,289.2 L100.8,289.4 L101.4,289.6 L101.9,289.7 L102.5,289.9 L103.0,290.1 L103.6,290.2 L104.2,290.4 L104.7,290.5 L105.3,290.7 L105.9,290.8 L106.4,291.0 L107.0,291.1 L107.6,291.3 L108.1,291.4 L108.7,291.6 L109.3,291.7 L109.8,291.9 L110.4,292.0 L110.9,292.2 L111.5,292.3 L112.1,292.5 L112.6,292.7 L113.2,292.8 L113.8,293.0 L114.3,293.1 L114.9,293.3 L115.5,293.4 L116.0,293.6 L116.6,293.8 L117.2,293.9 L117.7,294.1 L118.3,294.3 L118.9,294.4 L119.4,294.6 L120.0,294.7 L120.5,294.9 L121.1,295.1 L121.7,295.2 L122.2,295.4 L122.8,295.5 L123.4,295.7 L123.9,295.9 L124.5,296.0 L125.1,296.2 L125.6,296.3 L126.2,296.5 L126.8,296.6 L127.3,296.8 L127.9,296.9 L128.5,297.1 L129.0,297.2 L129.6,297.4 L130.1,297.5 L130.7,297.7 L131.3,297.8 L131.8,297.9 L132.4,298.1 L133.0,298.2 L133.5,298.4 L134.1,298.5 L134.7,298.6 L135.2,298.8 L135.8,298.9 L136.4,299.1 L136.9,299.2 L137.5,299.3 L138.1,299.5 L138.6,299.6 L139.2,299.7 L139.7,299.8 L140.3,300.0 L140.9,300.1 L141.4,300.2 L142.0,300.3 L142.6,300.5 L143.1,300.6 L143.7,300.7 L144.3,300.8 L144.8,301.0 L145.4,301.1 L146.0,301.2 L146.5,301.3 L147.1,301.4 L147.7,301.6 L148.2,301.7 L148.8,301.8 L149.3,301.9 L149.9,302.0 L150.5,302.1 L151.0,302.2 L151.6,302.4 L152.2,302.5 L152.7,302.6 L153.3,302.7 L153.9,302.8 L154.4,302.9 L155.0,303.0 L155.6,303.1 L156.1,303.2 L156.7,303.3 L157.3,303.4 L157.8,303.5 L158.4,303.6 L158.9,303.7 L159.5,303.8 L160.1,303.9 L160.6,304.0 L161.2,304.1 L161.8,304.2 L162.3,304.3 L162.9,304.4 L163.5,304.5 L164.0,304.6 L164.6,304.6 L165.2,304.7 L165.7,304.8 L166.3,304.9 L166.8,305.0 L167.4,305.1 L168.0,305.2 L168.5,305.3 L169.1,305.4 L169.7,305.5 L170.2,305.6 L170.8,305.6 L171.4,305.7 L171.9,305.8 L172.5,305.9 L173.1,306.0 L173.6,306.1 L174.2,306.2 L174.8,306.2 L175.3,306.3 L175.9,306.4 L176.4,306.5 L177.0,306.6 L177.6,306.7 L178.1,306.7 L178.7,306.8 L179.3,306.9 L179.8,307.0 L180.4,307.0 L181.0,307.1 L181.5,307.2 L182.1,307.3 L182.7,307.3 L183.2,307.4 L183.8,307.5 L184.4,307.6 L184.9,307.6 L185.5,307.7 L186.0,307.8 L186.6,307.8 L187.2,307.9 L187.7,308.0 L188.3,308.0 L188.9,308.1 L189.4,308.1 L190.0,308.2" fill="none" stroke="#7d8a1e" stroke-width="1.3" stroke-dasharray="2 1.6"/>
<path d="M31.9,301.6 L32.5,295.6 L33.0,288.2 L33.6,280.6 L34.2,273.5 L34.7,267.0 L35.3,260.8 L35.9,254.6 L36.4,248.5 L37.0,242.9 L37.5,238.4 L38.1,235.3 L38.7,233.5 L39.2,232.5 L39.8,231.8 L40.4,231.3 L40.9,230.9 L41.5,230.5 L42.1,230.2 L42.6,230.0 L43.2,229.8 L43.8,229.6 L44.3,229.5 L44.9,229.5 L45.5,229.5 L46.0,229.5 L46.6,229.5 L47.1,229.5 L47.7,229.5 L48.3,229.6 L48.8,229.6 L49.4,229.7 L50.0,229.7 L50.5,229.8 L51.1,229.9 L51.7,230.0 L52.2,230.1 L52.8,230.2 L53.4,230.3 L53.9,230.5 L54.5,230.6 L55.1,230.8 L55.6,231.0 L56.2,231.3 L56.7,231.7 L57.3,232.3 L57.9,233.2 L58.4,234.2 L59.0,235.4 L59.6,236.8 L60.1,238.4 L60.7,240.3 L61.3,242.4 L61.8,244.6 L62.4,246.8 L63.0,249.2 L63.5,251.6 L64.1,254.0 L64.6,256.3 L65.2,258.5 L65.8,260.4 L66.3,262.1 L66.9,263.7 L67.5,265.2 L68.0,266.6 L68.6,268.0 L69.2,269.4 L69.7,270.9 L70.3,272.4 L70.9,273.9 L71.4,275.5 L72.0,277.1 L72.6,278.6 L73.1,280.0 L73.7,281.3 L74.2,282.4 L74.8,283.5 L75.4,284.4 L75.9,285.3 L76.5,286.2 L77.1,287.1 L77.6,287.9 L78.2,288.7 L78.8,289.6 L79.3,290.4 L79.9,291.3 L80.5,292.2 L81.0,293.1 L81.6,294.0 L82.2,294.9 L82.7,295.7 L83.3,296.6 L83.8,297.4 L84.4,298.1 L85.0,298.8 L85.5,299.4 L86.1,300.0 L86.7,300.5 L87.2,300.9 L87.8,301.2 L88.4,301.5 L88.9,301.8 L89.5,302.1 L90.1,302.4 L90.6,302.7 L91.2,302.9 L91.8,303.2 L92.3,303.4 L92.9,303.6 L93.4,303.9 L94.0,304.1 L94.6,304.3 L95.1,304.5 L95.7,304.7 L96.3,304.9 L96.8,305.0 L97.4,305.2 L98.0,305.3 L98.5,305.5 L99.1,305.6 L99.7,305.8 L100.2,305.9 L100.8,306.0 L101.4,306.1 L101.9,306.3 L102.5,306.4 L103.0,306.5 L103.6,306.6 L104.2,306.6 L104.7,306.7 L105.3,306.8 L105.9,306.9 L106.4,307.0 L107.0,307.1 L107.6,307.1 L108.1,307.2 L108.7,307.3 L109.3,307.4 L109.8,307.4 L110.4,307.5 L110.9,307.6 L111.5,307.7 L112.1,307.7 L112.6,307.8 L113.2,307.9 L113.8,307.9 L114.3,308.0 L114.9,308.1 L115.5,308.1 L116.0,308.2 L116.6,308.2 L117.2,308.3 L117.7,308.3 L118.3,308.4 L118.9,308.4 L119.4,308.5 L120.0,308.5 L120.5,308.6 L121.1,308.6 L121.7,308.6 L122.2,308.7 L122.8,308.7 L123.4,308.7 L123.9,308.7 L124.5,308.7 L125.1,308.8 L125.6,308.8 L126.2,308.8 L126.8,308.8 L127.3,308.8 L127.9,308.8 L128.5,308.8 L129.0,308.8 L129.6,308.8 L130.1,308.8 L130.7,308.8 L131.3,308.8 L131.8,308.8 L132.4,308.8 L133.0,308.8 L133.5,308.8 L134.1,308.8 L134.7,308.8 L135.2,308.8 L135.8,308.8 L136.4,308.8 L136.9,308.8 L137.5,308.8 L138.1,308.8 L138.6,308.8 L139.2,308.8 L139.7,308.8 L140.3,308.8 L140.9,308.8 L141.4,308.8 L142.0,308.8 L142.6,308.8 L143.1,308.8 L143.7,308.8 L144.3,308.8 L144.8,308.8 L145.4,308.8 L146.0,308.8 L146.5,308.8 L147.1,308.8 L147.7,308.8 L148.2,308.8 L148.8,308.8 L149.3,308.8 L149.9,308.8 L150.5,308.8 L151.0,308.8 L151.6,308.8 L152.2,308.8 L152.7,308.8 L153.3,308.8 L153.9,308.8 L154.4,308.8 L155.0,308.8 L155.6,308.8 L156.1,308.8 L156.7,308.8 L157.3,308.8 L157.8,308.8 L158.4,308.8 L158.9,308.8 L159.5,308.8 L160.1,308.8 L160.6,308.8 L161.2,308.8 L161.8,308.8 L162.3,308.8 L162.9,308.8 L163.5,308.8 L164.0,308.8 L164.6,308.8 L165.2,308.8 L165.7,308.8 L166.3,308.8 L166.8,308.8 L167.4,308.8 L168.0,308.8 L168.5,308.8 L169.1,308.8 L169.7,308.8 L170.2,308.8 L170.8,308.8 L171.4,308.8 L171.9,308.8 L172.5,308.8 L173.1,308.8 L173.6,308.8 L174.2,308.8 L174.8,308.8 L175.3,308.8 L175.9,308.8 L176.4,308.8 L177.0,308.8 L177.6,308.8 L178.1,308.8 L178.7,308.8 L179.3,308.8 L179.8,308.8 L180.4,308.8 L181.0,308.8 L181.5,308.8 L182.1,308.8 L182.7,308.8 L183.2,308.8 L183.8,308.8 L184.4,308.8 L184.9,308.8 L185.5,308.8 L186.0,308.8 L186.6,308.8 L187.2,308.8 L187.7,308.8 L188.3,308.8 L188.9,308.8 L189.4,308.8 L190.0,308.8" fill="none" stroke="#22ee22" stroke-width="1.3" stroke-dasharray="2 1.6"/>
<path d="M31.9,272.7 L32.5,264.3 L33.0,254.9 L33.6,246.8 L34.2,240.5 L34.7,235.6 L35.3,231.9 L35.9,228.9 L36.4,226.5 L37.0,224.5 L37.5,222.9 L38.1,221.8 L38.7,221.3 L39.2,221.0 L39.8,221.0 L40.4,221.1 L40.9,221.2 L41.5,221.4 L42.1,221.5 L42.6,221.7 L43.2,221.9 L43.8,222.1 L44.3,222.3 L44.9,222.5 L45.5,222.6 L46.0,222.8 L46.6,222.9 L47.1,223.0 L47.7,223.1 L48.3,223.2 L48.8,223.3 L49.4,223.3 L50.0,223.4 L50.5,223.4 L51.1,223.5 L51.7,223.6 L52.2,223.6 L52.8,223.7 L53.4,223.8 L53.9,223.9 L54.5,224.0 L55.1,224.2 L55.6,224.4 L56.2,224.6 L56.7,225.0 L57.3,225.6 L57.9,226.4 L58.4,227.2 L59.0,228.1 L59.6,229.0 L60.1,229.8 L60.7,230.6 L61.3,231.4 L61.8,232.2 L62.4,233.2 L63.0,234.3 L63.5,235.5 L64.1,236.9 L64.6,238.4 L65.2,239.9 L65.8,241.5 L66.3,243.0 L66.9,244.4 L67.5,245.7 L68.0,246.9 L68.6,247.9 L69.2,248.9 L69.7,249.7 L70.3,250.6 L70.9,251.4 L71.4,252.1 L72.0,252.7 L72.6,253.2 L73.1,253.6 L73.7,253.9 L74.2,254.1 L74.8,254.3 L75.4,254.5 L75.9,254.6 L76.5,254.7 L77.1,254.8 L77.6,254.9 L78.2,255.0 L78.8,255.1 L79.3,255.1 L79.9,255.1 L80.5,255.1 L81.0,255.0 L81.6,254.9 L82.2,254.7 L82.7,254.5 L83.3,254.3 L83.8,254.0 L84.4,253.8 L85.0,253.5 L85.5,253.2 L86.1,252.9 L86.7,252.6 L87.2,252.3 L87.8,252.0 L88.4,251.7 L88.9,251.4 L89.5,251.2 L90.1,250.9 L90.6,250.6 L91.2,250.3 L91.8,250.1 L92.3,249.8 L92.9,249.5 L93.4,249.2 L94.0,248.9 L94.6,248.6 L95.1,248.3 L95.7,248.0 L96.3,247.7 L96.8,247.4 L97.4,247.1 L98.0,246.8 L98.5,246.6 L99.1,246.3 L99.7,246.0 L100.2,245.7 L100.8,245.4 L101.4,245.2 L101.9,244.9 L102.5,244.6 L103.0,244.4 L103.6,244.1 L104.2,243.9 L104.7,243.6 L105.3,243.4 L105.9,243.2 L106.4,242.9 L107.0,242.7 L107.6,242.5 L108.1,242.3 L108.7,242.1 L109.3,241.9 L109.8,241.7 L110.4,241.5 L110.9,241.3 L111.5,241.2 L112.1,241.1 L112.6,241.1 L113.2,241.1 L113.8,241.1 L114.3,241.1 L114.9,241.2 L115.5,241.3 L116.0,241.5 L116.6,241.6 L117.2,241.8 L117.7,242.0 L118.3,242.2 L118.9,242.5 L119.4,242.7 L120.0,242.9 L120.5,243.2 L121.1,243.4 L121.7,243.6 L122.2,243.9 L122.8,244.2 L123.4,244.5 L123.9,244.8 L124.5,245.1 L125.1,245.5 L125.6,245.9 L126.2,246.2 L126.8,246.6 L127.3,247.0 L127.9,247.4 L128.5,247.8 L129.0,248.1 L129.6,248.5 L130.1,248.9 L130.7,249.2 L131.3,249.6 L131.8,249.9 L132.4,250.3 L133.0,250.6 L133.5,250.9 L134.1,251.3 L134.7,251.6 L135.2,251.9 L135.8,252.3 L136.4,252.6 L136.9,252.9 L137.5,253.2 L138.1,253.6 L138.6,253.9 L139.2,254.2 L139.7,254.5 L140.3,254.8 L140.9,255.2 L141.4,255.5 L142.0,255.8 L142.6,256.1 L143.1,256.4 L143.7,256.7 L144.3,257.0 L144.8,257.2 L145.4,257.5 L146.0,257.8 L146.5,258.1 L147.1,258.3 L147.7,258.6 L148.2,258.9 L148.8,259.1 L149.3,259.4 L149.9,259.7 L150.5,259.9 L151.0,260.2 L151.6,260.4 L152.2,260.7 L152.7,260.9 L153.3,261.2 L153.9,261.4 L154.4,261.6 L155.0,261.9 L155.6,262.1 L156.1,262.3 L156.7,262.6 L157.3,262.8 L157.8,263.0 L158.4,263.2 L158.9,263.4 L159.5,263.6 L160.1,263.8 L160.6,264.0 L161.2,264.2 L161.8,264.4 L162.3,264.6 L162.9,264.8 L163.5,265.0 L164.0,265.2 L164.6,265.3 L165.2,265.5 L165.7,265.7 L166.3,265.8 L166.8,266.0 L167.4,266.2 L168.0,266.3 L168.5,266.5 L169.1,266.7 L169.7,266.8 L170.2,267.0 L170.8,267.2 L171.4,267.4 L171.9,267.5 L172.5,267.7 L173.1,267.9 L173.6,268.1 L174.2,268.3 L174.8,268.5 L175.3,268.6 L175.9,268.8 L176.4,269.0 L177.0,269.2 L177.6,269.4 L178.1,269.6 L178.7,269.8 L179.3,270.0 L179.8,270.2 L180.4,270.4 L181.0,270.6 L181.5,270.8 L182.1,271.0 L182.7,271.2 L183.2,271.4 L183.8,271.6 L184.4,271.8 L184.9,272.0 L185.5,272.3 L186.0,272.5 L186.6,272.7 L187.2,272.9 L187.7,273.1 L188.3,273.3 L188.9,273.5 L189.4,273.7 L190.0,273.8" fill="none" stroke="#ff8a22" stroke-width="1.3" stroke-dasharray="2 1.6"/>
<path d="M31.9,271.6 L32.5,266.8 L33.0,260.3 L33.6,253.0 L34.2,245.9 L34.7,240.2 L35.3,236.3 L35.9,234.1 L36.4,233.2 L37.0,232.7 L37.5,232.5 L38.1,232.4 L38.7,232.4 L39.2,232.5 L39.8,232.7 L40.4,232.9 L40.9,233.2 L41.5,233.5 L42.1,233.8 L42.6,234.1 L43.2,234.2 L43.8,234.4 L44.3,234.4 L44.9,234.5 L45.5,234.6 L46.0,234.6 L46.6,234.7 L47.1,234.7 L47.7,234.7 L48.3,234.8 L48.8,234.8 L49.4,234.8 L50.0,234.8 L50.5,234.9 L51.1,234.9 L51.7,234.9 L52.2,235.0 L52.8,235.0 L53.4,235.1 L53.9,235.1 L54.5,235.2 L55.1,235.2 L55.6,235.3 L56.2,235.5 L56.7,235.6 L57.3,235.9 L57.9,236.2 L58.4,236.6 L59.0,237.1 L59.6,237.7 L60.1,238.5 L60.7,239.4 L61.3,240.4 L61.8,241.5 L62.4,242.7 L63.0,243.9 L63.5,245.1 L64.1,246.3 L64.6,247.5 L65.2,248.8 L65.8,249.9 L66.3,250.9 L66.9,251.8 L67.5,252.7 L68.0,253.4 L68.6,254.1 L69.2,254.8 L69.7,255.4 L70.3,256.0 L70.9,256.5 L71.4,257.0 L72.0,257.3 L72.6,257.6 L73.1,257.8 L73.7,257.9 L74.2,257.9 L74.8,257.9 L75.4,257.9 L75.9,257.8 L76.5,257.7 L77.1,257.6 L77.6,257.5 L78.2,257.3 L78.8,257.2 L79.3,257.0 L79.9,256.8 L80.5,256.6 L81.0,256.4 L81.6,256.1 L82.2,255.7 L82.7,255.3 L83.3,254.9 L83.8,254.4 L84.4,253.9 L85.0,253.4 L85.5,252.9 L86.1,252.4 L86.7,251.9 L87.2,251.5 L87.8,251.0 L88.4,250.6 L88.9,250.2 L89.5,249.8 L90.1,249.4 L90.6,249.0 L91.2,248.6 L91.8,248.2 L92.3,247.8 L92.9,247.4 L93.4,247.0 L94.0,246.7 L94.6,246.3 L95.1,245.9 L95.7,245.5 L96.3,245.2 L96.8,244.8 L97.4,244.5 L98.0,244.1 L98.5,243.8 L99.1,243.5 L99.7,243.1 L100.2,242.8 L100.8,242.5 L101.4,242.2 L101.9,241.9 L102.5,241.6 L103.0,241.4 L103.6,241.1 L104.2,240.8 L104.7,240.6 L105.3,240.3 L105.9,240.0 L106.4,239.7 L107.0,239.4 L107.6,239.1 L108.1,238.8 L108.7,238.5 L109.3,238.3 L109.8,238.1 L110.4,238.0 L110.9,237.9 L111.5,237.9 L112.1,237.9 L112.6,238.0 L113.2,238.1 L113.8,238.2 L114.3,238.3 L114.9,238.5 L115.5,238.7 L116.0,238.9 L116.6,239.1 L117.2,239.4 L117.7,239.6 L118.3,239.9 L118.9,240.2 L119.4,240.4 L120.0,240.7 L120.5,241.0 L121.1,241.3 L121.7,241.7 L122.2,242.0 L122.8,242.4 L123.4,242.8 L123.9,243.3 L124.5,243.8 L125.1,244.4 L125.6,244.9 L126.2,245.5 L126.8,246.1 L127.3,246.7 L127.9,247.3 L128.5,247.9 L129.0,248.5 L129.6,249.0 L130.1,249.5 L130.7,250.1 L131.3,250.5 L131.8,251.0 L132.4,251.5 L133.0,251.9 L133.5,252.4 L134.1,252.8 L134.7,253.2 L135.2,253.7 L135.8,254.1 L136.4,254.5 L136.9,254.9 L137.5,255.4 L138.1,255.8 L138.6,256.2 L139.2,256.6 L139.7,257.0 L140.3,257.4 L140.9,257.8 L141.4,258.1 L142.0,258.5 L142.6,258.9 L143.1,259.2 L143.7,259.6 L144.3,260.0 L144.8,260.3 L145.4,260.6 L146.0,261.0 L146.5,261.3 L147.1,261.6 L147.7,261.9 L148.2,262.2 L148.8,262.5 L149.3,262.8 L149.9,263.1 L150.5,263.4 L151.0,263.7 L151.6,264.0 L152.2,264.3 L152.7,264.5 L153.3,264.8 L153.9,265.1 L154.4,265.4 L155.0,265.6 L155.6,265.9 L156.1,266.2 L156.7,266.4 L157.3,266.7 L157.8,266.9 L158.4,267.2 L158.9,267.5 L159.5,267.7 L160.1,268.0 L160.6,268.2 L161.2,268.5 L161.8,268.7 L162.3,269.0 L162.9,269.2 L163.5,269.5 L164.0,269.7 L164.6,270.0 L165.2,270.2 L165.7,270.5 L166.3,270.7 L166.8,271.0 L167.4,271.2 L168.0,271.4 L168.5,271.7 L169.1,271.9 L169.7,272.2 L170.2,272.4 L170.8,272.6 L171.4,272.8 L171.9,273.1 L172.5,273.3 L173.1,273.5 L173.6,273.7 L174.2,274.0 L174.8,274.2 L175.3,274.4 L175.9,274.6 L176.4,274.8 L177.0,275.1 L177.6,275.3 L178.1,275.5 L178.7,275.7 L179.3,275.9 L179.8,276.1 L180.4,276.3 L181.0,276.5 L181.5,276.7 L182.1,276.9 L182.7,277.2 L183.2,277.4 L183.8,277.6 L184.4,277.8 L184.9,278.0 L185.5,278.2 L186.0,278.3 L186.6,278.5 L187.2,278.7 L187.7,278.9 L188.3,279.1 L188.9,279.3 L189.4,279.5 L190.0,279.6" fill="none" stroke="#ff77ff" stroke-width="1.20"/>
<path d="M31.9,212.6 L32.5,211.7 L33.0,210.8 L33.6,210.2 L34.2,210.1 L34.7,210.6 L35.3,211.5 L35.9,212.7 L36.4,214.1 L37.0,215.5 L37.5,216.8 L38.1,218.2 L38.7,219.5 L39.2,220.8 L39.8,222.1 L40.4,223.3 L40.9,224.2 L41.5,224.8 L42.1,224.9 L42.6,224.7 L43.2,223.9 L43.8,222.9 L44.3,221.8 L44.9,220.7 L45.5,219.7 L46.0,219.1 L46.6,218.8 L47.1,218.6 L47.7,218.6 L48.3,218.6 L48.8,218.7 L49.4,218.7 L50.0,218.7 L50.5,218.8 L51.1,218.9 L51.7,218.9 L52.2,219.0 L52.8,219.1 L53.4,219.1 L53.9,219.2 L54.5,219.3 L55.1,219.5 L55.6,219.7 L56.2,219.9 L56.7,220.3 L57.3,220.7 L57.9,221.1 L58.4,221.6 L59.0,222.0 L59.6,222.5 L60.1,223.0 L60.7,223.5 L61.3,224.0 L61.8,224.6 L62.4,225.3 L63.0,226.0 L63.5,226.8 L64.1,227.7 L64.6,228.7 L65.2,229.8 L65.8,230.8 L66.3,231.9 L66.9,232.8 L67.5,233.7 L68.0,234.4 L68.6,234.9 L69.2,235.2 L69.7,235.4 L70.3,235.5 L70.9,235.6 L71.4,235.6 L72.0,235.6 L72.6,235.7 L73.1,235.7 L73.7,235.7 L74.2,235.7 L74.8,235.7 L75.4,235.7 L75.9,235.6 L76.5,235.5 L77.1,235.3 L77.6,235.2 L78.2,235.0 L78.8,234.8 L79.3,234.5 L79.9,234.3 L80.5,234.1 L81.0,233.8 L81.6,233.5 L82.2,233.2 L82.7,232.8 L83.3,232.4 L83.8,232.0 L84.4,231.6 L85.0,231.2 L85.5,230.7 L86.1,230.3 L86.7,229.9 L87.2,229.6 L87.8,229.2 L88.4,228.9 L88.9,228.6 L89.5,228.3 L90.1,228.0 L90.6,227.6 L91.2,227.3 L91.8,227.0 L92.3,226.8 L92.9,226.5 L93.4,226.2 L94.0,225.9 L94.6,225.6 L95.1,225.4 L95.7,225.1 L96.3,224.9 L96.8,224.7 L97.4,224.5 L98.0,224.3 L98.5,224.1 L99.1,223.9 L99.7,223.7 L100.2,223.6 L100.8,223.5 L101.4,223.3 L101.9,223.2 L102.5,223.1 L103.0,223.0 L103.6,222.9 L104.2,222.8 L104.7,222.7 L105.3,222.7 L105.9,222.6 L106.4,222.5 L107.0,222.5 L107.6,222.4 L108.1,222.4 L108.7,222.3 L109.3,222.3 L109.8,222.2 L110.4,222.2 L110.9,222.1 L111.5,222.1 L112.1,222.1 L112.6,222.1 L113.2,222.1 L113.8,222.1 L114.3,222.2 L114.9,222.3 L115.5,222.5 L116.0,222.7 L116.6,222.9 L117.2,223.1 L117.7,223.4 L118.3,223.6 L118.9,223.9 L119.4,224.2 L120.0,224.5 L120.5,224.8 L121.1,225.1 L121.7,225.4 L122.2,225.7 L122.8,226.1 L123.4,226.4 L123.9,226.8 L124.5,227.2 L125.1,227.6 L125.6,228.0 L126.2,228.5 L126.8,228.9 L127.3,229.3 L127.9,229.8 L128.5,230.2 L129.0,230.6 L129.6,231.1 L130.1,231.5 L130.7,231.9 L131.3,232.3 L131.8,232.7 L132.4,233.0 L133.0,233.4 L133.5,233.8 L134.1,234.2 L134.7,234.6 L135.2,234.9 L135.8,235.3 L136.4,235.7 L136.9,236.0 L137.5,236.4 L138.1,236.8 L138.6,237.1 L139.2,237.5 L139.7,237.8 L140.3,238.2 L140.9,238.5 L141.4,238.9 L142.0,239.2 L142.6,239.6 L143.1,239.9 L143.7,240.3 L144.3,240.6 L144.8,240.9 L145.4,241.2 L146.0,241.6 L146.5,241.9 L147.1,242.2 L147.7,242.5 L148.2,242.8 L148.8,243.1 L149.3,243.4 L149.9,243.7 L150.5,244.0 L151.0,244.3 L151.6,244.6 L152.2,244.9 L152.7,245.1 L153.3,245.4 L153.9,245.7 L154.4,246.0 L155.0,246.3 L155.6,246.5 L156.1,246.8 L156.7,247.1 L157.3,247.3 L157.8,247.6 L158.4,247.9 L158.9,248.1 L159.5,248.4 L160.1,248.7 L160.6,248.9 L161.2,249.2 L161.8,249.5 L162.3,249.7 L162.9,250.0 L163.5,250.2 L164.0,250.5 L164.6,250.8 L165.2,251.0 L165.7,251.3 L166.3,251.5 L166.8,251.8 L167.4,252.0 L168.0,252.3 L168.5,252.5 L169.1,252.8 L169.7,253.0 L170.2,253.2 L170.8,253.5 L171.4,253.7 L171.9,253.9 L172.5,254.1 L173.1,254.3 L173.6,254.5 L174.2,254.7 L174.8,254.9 L175.3,255.1 L175.9,255.3 L176.4,255.5 L177.0,255.7 L177.6,255.9 L178.1,256.1 L178.7,256.2 L179.3,256.4 L179.8,256.6 L180.4,256.8 L181.0,256.9 L181.5,257.1 L182.1,257.3 L182.7,257.4 L183.2,257.6 L183.8,257.8 L184.4,257.9 L184.9,258.1 L185.5,258.2 L186.0,258.4 L186.6,258.5 L187.2,258.6 L187.7,258.8 L188.3,258.9 L188.9,259.0 L189.4,259.1 L190.0,259.2" fill="none" stroke="#8614f0" stroke-width="1.35"/>
<rect x="31.90" y="192.90" width="158.10" height="125.60" fill="none" stroke="#3c3c3c" stroke-width="1.25"/>
<line x1="31.90" y1="318.50" x2="31.90" y2="320.70" stroke="#3c3c3c" stroke-width="1"/>
<text x="31.90" y="329.20" font-size="8.30" text-anchor="middle" font-weight="normal" fill="#222" >200</text>
<line x1="43.19" y1="318.50" x2="43.19" y2="320.10" stroke="#3c3c3c" stroke-width="1"/>
<line x1="54.49" y1="318.50" x2="54.49" y2="320.70" stroke="#3c3c3c" stroke-width="1"/>
<text x="54.49" y="329.20" font-size="8.30" text-anchor="middle" font-weight="normal" fill="#222" >300</text>
<line x1="65.78" y1="318.50" x2="65.78" y2="320.10" stroke="#3c3c3c" stroke-width="1"/>
<line x1="77.07" y1="318.50" x2="77.07" y2="320.70" stroke="#3c3c3c" stroke-width="1"/>
<text x="77.07" y="329.20" font-size="8.30" text-anchor="middle" font-weight="normal" fill="#222" >400</text>
<line x1="88.36" y1="318.50" x2="88.36" y2="320.10" stroke="#3c3c3c" stroke-width="1"/>
<line x1="99.66" y1="318.50" x2="99.66" y2="320.70" stroke="#3c3c3c" stroke-width="1"/>
<text x="99.66" y="329.20" font-size="8.30" text-anchor="middle" font-weight="normal" fill="#222" >500</text>
<line x1="110.95" y1="318.50" x2="110.95" y2="320.10" stroke="#3c3c3c" stroke-width="1"/>
<line x1="122.24" y1="318.50" x2="122.24" y2="320.70" stroke="#3c3c3c" stroke-width="1"/>
<text x="122.24" y="329.20" font-size="8.30" text-anchor="middle" font-weight="normal" fill="#222" >600</text>
<line x1="133.54" y1="318.50" x2="133.54" y2="320.10" stroke="#3c3c3c" stroke-width="1"/>
<line x1="144.83" y1="318.50" x2="144.83" y2="320.70" stroke="#3c3c3c" stroke-width="1"/>
<text x="144.83" y="329.20" font-size="8.30" text-anchor="middle" font-weight="normal" fill="#222" >700</text>
<line x1="156.12" y1="318.50" x2="156.12" y2="320.10" stroke="#3c3c3c" stroke-width="1"/>
<line x1="167.41" y1="318.50" x2="167.41" y2="320.70" stroke="#3c3c3c" stroke-width="1"/>
<text x="167.41" y="329.20" font-size="8.30" text-anchor="middle" font-weight="normal" fill="#222" >800</text>
<line x1="178.71" y1="318.50" x2="178.71" y2="320.10" stroke="#3c3c3c" stroke-width="1"/>
<line x1="190.00" y1="318.50" x2="190.00" y2="320.70" stroke="#3c3c3c" stroke-width="1"/>
<text x="190.00" y="329.20" font-size="8.30" text-anchor="middle" font-weight="normal" fill="#222" >900</text>
<line x1="29.70" y1="307.08" x2="31.90" y2="307.08" stroke="#3c3c3c" stroke-width="1"/>
<text x="28.30" y="310.58" font-size="8.30" text-anchor="end" font-weight="normal" fill="#222" >0.0</text>
<line x1="30.30" y1="292.81" x2="31.90" y2="292.81" stroke="#3c3c3c" stroke-width="1"/>
<line x1="29.70" y1="278.54" x2="31.90" y2="278.54" stroke="#3c3c3c" stroke-width="1"/>
<text x="28.30" y="282.04" font-size="8.30" text-anchor="end" font-weight="normal" fill="#222" >0.5</text>
<line x1="30.30" y1="264.26" x2="31.90" y2="264.26" stroke="#3c3c3c" stroke-width="1"/>
<line x1="29.70" y1="249.99" x2="31.90" y2="249.99" stroke="#3c3c3c" stroke-width="1"/>
<text x="28.30" y="253.49" font-size="8.30" text-anchor="end" font-weight="normal" fill="#222" >1.0</text>
<line x1="30.30" y1="235.72" x2="31.90" y2="235.72" stroke="#3c3c3c" stroke-width="1"/>
<line x1="29.70" y1="221.45" x2="31.90" y2="221.45" stroke="#3c3c3c" stroke-width="1"/>
<text x="28.30" y="224.95" font-size="8.30" text-anchor="end" font-weight="normal" fill="#222" >1.5</text>
<line x1="30.30" y1="207.17" x2="31.90" y2="207.17" stroke="#3c3c3c" stroke-width="1"/>
<line x1="29.70" y1="192.90" x2="31.90" y2="192.90" stroke="#3c3c3c" stroke-width="1"/>
<text x="28.30" y="196.40" font-size="8.30" text-anchor="end" font-weight="normal" fill="#222" >2.0</text>
<text x="68.20" y="348.40" font-size="12.6" fill="#222" stroke="#222" stroke-width="0.2" textLength="81" lengthAdjust="spacingAndGlyphs">Wavelength (nm)</text>
<text x="0" y="0" font-size="11.6" fill="#222" stroke="#222" stroke-width="0.2" textLength="77.2" lengthAdjust="spacingAndGlyphs" transform="translate(11.80,288.70) rotate(-90)">Absorbance (a.u.)</text>
<text x="100.20" y="365.00" font-size="10.80" text-anchor="middle" font-weight="bold" fill="#222" >(c)</text>
<text x="110.50" y="212.80" font-size="6.7" text-anchor="middle" fill="#1a1a1a" stroke="#1a1a1a" stroke-width="0.18">554</text>
<line x1="144.40" y1="198.00" x2="154.90" y2="198.00" stroke="#cccccc" stroke-width="1.0"/>
<text x="0" y="0" font-size="6.20" fill="#333" transform="translate(156.80,200.05) scale(0.880,1)">TiO<tspan font-size="3.84" dy="1.86">2</tspan></text>
<line x1="144.40" y1="205.60" x2="154.90" y2="205.60" stroke="#22ee22" stroke-width="1.2" stroke-dasharray="2 1.8"/>
<text x="0" y="0" font-size="6.20" fill="#333" transform="translate(156.80,207.65) scale(0.880,1)">Ce/TiO<tspan font-size="3.84" dy="1.86">2</tspan></text>
<line x1="144.40" y1="213.20" x2="154.90" y2="213.20" stroke="#ff8a22" stroke-width="1.2" stroke-dasharray="2 1.8"/>
<text x="0" y="0" font-size="6.20" fill="#333" transform="translate(156.80,215.25) scale(0.880,1)">Au/Ce/TiO<tspan font-size="3.84" dy="1.86">2</tspan></text>
<line x1="144.40" y1="220.80" x2="154.90" y2="220.80" stroke="#7d8a1e" stroke-width="1.2" stroke-dasharray="2 1.8"/>
<text x="0" y="0" font-size="6.20" fill="#333" transform="translate(156.80,222.85) scale(0.880,1)">Ag/Ce/TiO<tspan font-size="3.84" dy="1.86">2</tspan></text>
<line x1="144.40" y1="228.80" x2="154.90" y2="228.80" stroke="#ff77ff" stroke-width="1.2"/>
<text x="0" y="0" font-size="6.20" fill="#333" transform="translate(156.80,230.85) scale(0.880,1)">AuAg/Ce/TiO<tspan font-size="3.84" dy="1.86">2</tspan></text>
<line x1="144.40" y1="236.80" x2="154.90" y2="236.80" stroke="#8614f0" stroke-width="1.2"/>
<text x="0" y="0" font-size="6.20" fill="#333" transform="translate(156.80,238.85) scale(0.880,1)">AgAu/Ce/TiO<tspan font-size="3.84" dy="1.86">2</tspan></text>
<line x1="328.95" y1="232.77" x2="328.95" y2="245.87" stroke="#f0f0f0" stroke-width="0.6"/>
<text x="302.30" y="219.50" font-size="22.00" text-anchor="middle" font-weight="normal" fill="#d2d2d2" >Mg</text>
<path d="M250.4,305.5 L251.0,298.8 L251.5,290.0 L252.1,280.4 L252.7,270.5 L253.2,260.6 L253.8,251.3 L254.3,243.5 L254.9,238.2 L255.5,235.3 L256.0,233.9 L256.6,233.3 L257.2,233.0 L257.7,232.9 L258.3,232.9 L258.9,233.0 L259.4,233.1 L260.0,233.2 L260.6,233.4 L261.1,233.6 L261.7,233.8 L262.2,234.0 L262.8,234.2 L263.4,234.3 L263.9,234.5 L264.5,234.5 L265.1,234.6 L265.6,234.7 L266.2,234.8 L266.8,234.8 L267.3,234.9 L267.9,234.9 L268.5,234.9 L269.0,235.0 L269.6,235.0 L270.1,235.1 L270.7,235.1 L271.3,235.2 L271.8,235.2 L272.4,235.3 L273.0,235.4 L273.5,235.5 L274.1,235.7 L274.7,235.9 L275.2,236.1 L275.8,236.4 L276.4,236.9 L276.9,237.5 L277.5,238.3 L278.1,239.5 L278.6,241.0 L279.2,242.9 L279.7,245.1 L280.3,247.4 L280.9,250.0 L281.4,252.7 L282.0,255.6 L282.6,258.6 L283.1,261.7 L283.7,264.9 L284.3,267.9 L284.8,270.9 L285.4,273.8 L285.9,276.5 L286.5,279.1 L287.1,281.7 L287.6,284.2 L288.2,286.7 L288.8,289.1 L289.3,291.4 L289.9,293.6 L290.5,295.5 L291.0,297.4 L291.6,299.0 L292.2,300.6 L292.7,302.1 L293.3,303.5 L293.9,304.9 L294.4,306.1 L295.0,307.3 L295.5,308.2 L296.1,309.1 L296.7,309.7 L297.2,310.2 L297.8,310.6 L298.4,310.9 L298.9,311.1 L299.5,311.2 L300.1,311.3 L300.6,311.4 L301.2,311.4 L301.8,311.4 L302.3,311.4 L302.9,311.4 L303.4,311.4 L304.0,311.4 L304.6,311.4 L305.1,311.4 L305.7,311.4 L306.3,311.4 L306.8,311.4 L307.4,311.4 L308.0,311.4 L308.5,311.4 L309.1,311.4 L309.6,311.4 L310.2,311.4 L310.8,311.4 L311.3,311.4 L311.9,311.4 L312.5,311.4 L313.0,311.4 L313.6,311.4 L314.2,311.4 L314.7,311.4 L315.3,311.4 L315.9,311.4 L316.4,311.4 L317.0,311.4 L317.6,311.4 L318.1,311.4 L318.7,311.4 L319.2,311.4 L319.8,311.4 L320.4,311.4 L320.9,311.4 L321.5,311.4 L322.1,311.4 L322.6,311.4 L323.2,311.4 L323.8,311.4 L324.3,311.4 L324.9,311.4 L325.4,311.4 L326.0,311.4 L326.6,311.4 L327.1,311.4 L327.7,311.4 L328.3,311.4 L328.8,311.4 L329.4,311.4 L330.0,311.4 L330.5,311.4 L331.1,311.4 L331.7,311.4 L332.2,311.4 L332.8,311.4 L333.4,311.4 L333.9,311.4 L334.5,311.4 L335.0,311.4 L335.6,311.4 L336.2,311.4 L336.7,311.4 L337.3,311.4 L337.9,311.4 L338.4,311.4 L339.0,311.4 L339.6,311.4 L340.1,311.4 L340.7,311.4 L341.2,311.4 L341.8,311.4 L342.4,311.4 L342.9,311.4 L343.5,311.4 L344.1,311.4 L344.6,311.4 L345.2,311.4 L345.8,311.4 L346.3,311.4 L346.9,311.4 L347.5,311.4 L348.0,311.4 L348.6,311.4 L349.1,311.4 L349.7,311.4 L350.3,311.4 L350.8,311.4 L351.4,311.4 L352.0,311.4 L352.5,311.4 L353.1,311.4 L353.7,311.4 L354.2,311.4 L354.8,311.4 L355.4,311.4 L355.9,311.4 L356.5,311.4 L357.0,311.4 L357.6,311.4 L358.2,311.4 L358.7,311.4 L359.3,311.4 L359.9,311.4 L360.4,311.4 L361.0,311.4 L361.6,311.4 L362.1,311.4 L362.7,311.4 L363.3,311.4 L363.8,311.4 L364.4,311.4 L364.9,311.4 L365.5,311.4 L366.1,311.4 L366.6,311.4 L367.2,311.4 L367.8,311.4 L368.3,311.4 L368.9,311.4 L369.5,311.4 L370.0,311.4 L370.6,311.4 L371.2,311.4 L371.7,311.4 L372.3,311.4 L372.8,311.4 L373.4,311.4 L374.0,311.4 L374.5,311.4 L375.1,311.4 L375.7,311.4 L376.2,311.4 L376.8,311.4 L377.4,311.4 L377.9,311.4 L378.5,311.4 L379.1,311.4 L379.6,311.4 L380.2,311.4 L380.8,311.4 L381.3,311.4 L381.9,311.4 L382.4,311.4 L383.0,311.4 L383.6,311.4 L384.1,311.4 L384.7,311.4 L385.3,311.4 L385.8,311.4 L386.4,311.4 L387.0,311.4 L387.5,311.4 L388.1,311.4 L388.6,311.4 L389.2,311.4 L389.8,311.4 L390.3,311.4 L390.9,311.4 L391.5,311.4 L392.0,311.4 L392.6,311.4 L393.2,311.4 L393.7,311.4 L394.3,311.4 L394.9,311.4 L395.4,311.4 L396.0,311.4 L396.5,311.4 L397.1,311.4 L397.7,311.4 L398.2,311.4 L398.8,311.4 L399.4,311.4 L399.9,311.4 L400.5,311.4 L401.1,311.4 L401.6,311.4 L402.2,311.4 L402.8,311.4 L403.3,311.4 L403.9,311.4 L404.4,311.4 L405.0,311.4 L405.6,311.4 L406.1,311.4 L406.7,311.4 L407.3,311.4 L407.8,311.4 L408.4,311.4" fill="none" stroke="#cccccc" stroke-width="1.0"/>
<path d="M250.4,305.8 L251.0,299.6 L251.5,291.2 L252.1,281.8 L252.7,272.0 L253.2,262.0 L253.8,252.3 L254.3,244.1 L254.9,238.5 L255.5,235.6 L256.0,234.4 L256.6,233.8 L257.2,233.4 L257.7,233.1 L258.3,232.9 L258.9,232.7 L259.4,232.5 L260.0,232.4 L260.6,232.3 L261.1,232.3 L261.7,232.2 L262.2,232.2 L262.8,232.2 L263.4,232.2 L263.9,232.2 L264.5,232.3 L265.1,232.3 L265.6,232.3 L266.2,232.4 L266.8,232.4 L267.3,232.5 L267.9,232.5 L268.5,232.6 L269.0,232.7 L269.6,232.7 L270.1,232.8 L270.7,232.9 L271.3,233.0 L271.8,233.1 L272.4,233.2 L273.0,233.4 L273.5,233.5 L274.1,233.6 L274.7,233.8 L275.2,234.0 L275.8,234.3 L276.4,234.7 L276.9,235.2 L277.5,235.9 L278.1,236.6 L278.6,237.5 L279.2,238.7 L279.7,240.1 L280.3,241.7 L280.9,243.6 L281.4,245.7 L282.0,248.1 L282.6,250.6 L283.1,253.3 L283.7,256.0 L284.3,258.6 L284.8,261.0 L285.4,263.5 L285.9,265.8 L286.5,268.1 L287.1,270.4 L287.6,272.6 L288.2,274.7 L288.8,276.8 L289.3,278.8 L289.9,280.8 L290.5,282.7 L291.0,284.5 L291.6,286.3 L292.2,288.1 L292.7,289.9 L293.3,291.7 L293.9,293.5 L294.4,295.2 L295.0,296.9 L295.5,298.6 L296.1,300.3 L296.7,302.0 L297.2,303.6 L297.8,305.3 L298.4,306.9 L298.9,308.4 L299.5,309.6 L300.1,310.5 L300.6,311.1 L301.2,311.5 L301.8,311.7 L302.3,311.9 L302.9,311.9 L303.4,311.9 L304.0,311.9 L304.6,311.9 L305.1,311.9 L305.7,311.9 L306.3,311.9 L306.8,311.9 L307.4,311.9 L308.0,311.9 L308.5,311.9 L309.1,311.9 L309.6,311.9 L310.2,311.9 L310.8,311.9 L311.3,311.9 L311.9,311.9 L312.5,311.9 L313.0,311.9 L313.6,311.9 L314.2,311.9 L314.7,311.9 L315.3,311.9 L315.9,311.9 L316.4,311.9 L317.0,311.9 L317.6,311.9 L318.1,311.9 L318.7,311.9 L319.2,311.9 L319.8,311.9 L320.4,311.9 L320.9,311.9 L321.5,311.9 L322.1,311.9 L322.6,311.9 L323.2,311.9 L323.8,311.9 L324.3,311.9 L324.9,311.9 L325.4,311.9 L326.0,311.9 L326.6,311.9 L327.1,311.9 L327.7,311.9 L328.3,311.9 L328.8,311.9 L329.4,311.9 L330.0,311.9 L330.5,311.9 L331.1,311.9 L331.7,311.9 L332.2,311.9 L332.8,311.9 L333.4,311.9 L333.9,311.9 L334.5,311.9 L335.0,311.9 L335.6,311.9 L336.2,311.9 L336.7,311.9 L337.3,311.9 L337.9,311.9 L338.4,311.9 L339.0,311.9 L339.6,311.9 L340.1,311.9 L340.7,311.9 L341.2,311.9 L341.8,311.9 L342.4,311.9 L342.9,311.9 L343.5,311.9 L344.1,311.9 L344.6,311.9 L345.2,311.9 L345.8,311.9 L346.3,311.9 L346.9,311.9 L347.5,311.9 L348.0,311.9 L348.6,311.9 L349.1,311.9 L349.7,311.9 L350.3,311.9 L350.8,311.9 L351.4,311.9 L352.0,311.8 L352.5,311.8 L353.1,311.8 L353.7,311.8 L354.2,311.8 L354.8,311.8 L355.4,311.8 L355.9,311.8 L356.5,311.8 L357.0,311.8 L357.6,311.8 L358.2,311.8 L358.7,311.8 L359.3,311.8 L359.9,311.8 L360.4,311.8 L361.0,311.8 L361.6,311.8 L362.1,311.8 L362.7,311.8 L363.3,311.8 L363.8,311.8 L364.4,311.8 L364.9,311.8 L365.5,311.8 L366.1,311.8 L366.6,311.8 L367.2,311.8 L367.8,311.8 L368.3,311.7 L368.9,311.7 L369.5,311.7 L370.0,311.7 L370.6,311.7 L371.2,311.7 L371.7,311.7 L372.3,311.7 L372.8,311.7 L373.4,311.7 L374.0,311.7 L374.5,311.7 L375.1,311.7 L375.7,311.7 L376.2,311.7 L376.8,311.7 L377.4,311.7 L377.9,311.7 L378.5,311.7 L379.1,311.7 L379.6,311.7 L380.2,311.7 L380.8,311.6 L381.3,311.6 L381.9,311.6 L382.4,311.6 L383.0,311.6 L383.6,311.6 L384.1,311.6 L384.7,311.6 L385.3,311.6 L385.8,311.6 L386.4,311.6 L387.0,311.6 L387.5,311.6 L388.1,311.6 L388.6,311.6 L389.2,311.6 L389.8,311.6 L390.3,311.6 L390.9,311.6 L391.5,311.5 L392.0,311.5 L392.6,311.5 L393.2,311.5 L393.7,311.5 L394.3,311.5 L394.9,311.5 L395.4,311.5 L396.0,311.5 L396.5,311.5 L397.1,311.5 L397.7,311.5 L398.2,311.5 L398.8,311.5 L399.4,311.5 L399.9,311.5 L400.5,311.5 L401.1,311.4 L401.6,311.4 L402.2,311.4 L402.8,311.4 L403.3,311.4 L403.9,311.4 L404.4,311.4 L405.0,311.4 L405.6,311.4 L406.1,311.4 L406.7,311.4 L407.3,311.4 L407.8,311.4 L408.4,311.4" fill="none" stroke="#22ee22" stroke-width="1.3" stroke-dasharray="2 1.6"/>
<path d="M250.4,300.5 L251.0,293.6 L251.5,284.7 L252.1,275.6 L252.7,267.0 L253.2,259.3 L253.8,252.5 L254.3,246.3 L254.9,241.3 L255.5,237.5 L256.0,235.1 L256.6,233.8 L257.2,233.1 L257.7,232.6 L258.3,232.3 L258.9,232.0 L259.4,231.7 L260.0,231.5 L260.6,231.3 L261.1,231.2 L261.7,231.1 L262.2,231.1 L262.8,231.1 L263.4,231.1 L263.9,231.1 L264.5,231.1 L265.1,231.1 L265.6,231.2 L266.2,231.2 L266.8,231.2 L267.3,231.3 L267.9,231.3 L268.5,231.4 L269.0,231.5 L269.6,231.5 L270.1,231.6 L270.7,231.7 L271.3,231.8 L271.8,231.9 L272.4,232.1 L273.0,232.2 L273.5,232.3 L274.1,232.5 L274.7,232.7 L275.2,233.0 L275.8,233.5 L276.4,234.2 L276.9,235.3 L277.5,236.6 L278.1,238.1 L278.6,239.7 L279.2,241.4 L279.7,243.2 L280.3,245.2 L280.9,247.4 L281.4,249.8 L282.0,252.3 L282.6,254.8 L283.1,257.2 L283.7,259.4 L284.3,261.3 L284.8,263.0 L285.4,264.6 L285.9,266.1 L286.5,267.5 L287.1,268.9 L287.6,270.1 L288.2,271.4 L288.8,272.5 L289.3,273.6 L289.9,274.6 L290.5,275.6 L291.0,276.5 L291.6,277.3 L292.2,278.1 L292.7,278.8 L293.3,279.6 L293.9,280.2 L294.4,280.9 L295.0,281.5 L295.5,282.1 L296.1,282.7 L296.7,283.3 L297.2,283.8 L297.8,284.3 L298.4,284.8 L298.9,285.3 L299.5,285.8 L300.1,286.3 L300.6,286.8 L301.2,287.3 L301.8,287.7 L302.3,288.2 L302.9,288.6 L303.4,289.1 L304.0,289.5 L304.6,289.9 L305.1,290.4 L305.7,290.8 L306.3,291.2 L306.8,291.6 L307.4,292.0 L308.0,292.4 L308.5,292.8 L309.1,293.1 L309.6,293.5 L310.2,293.9 L310.8,294.2 L311.3,294.6 L311.9,295.0 L312.5,295.3 L313.0,295.7 L313.6,296.0 L314.2,296.4 L314.7,296.7 L315.3,297.1 L315.9,297.4 L316.4,297.8 L317.0,298.1 L317.6,298.4 L318.1,298.8 L318.7,299.1 L319.2,299.4 L319.8,299.8 L320.4,300.1 L320.9,300.4 L321.5,300.8 L322.1,301.1 L322.6,301.4 L323.2,301.7 L323.8,302.0 L324.3,302.3 L324.9,302.6 L325.4,302.9 L326.0,303.2 L326.6,303.5 L327.1,303.8 L327.7,304.1 L328.3,304.4 L328.8,304.6 L329.4,304.9 L330.0,305.2 L330.5,305.4 L331.1,305.7 L331.7,306.0 L332.2,306.2 L332.8,306.5 L333.4,306.7 L333.9,307.0 L334.5,307.3 L335.0,307.5 L335.6,307.7 L336.2,308.0 L336.7,308.2 L337.3,308.4 L337.9,308.6 L338.4,308.7 L339.0,308.9 L339.6,309.0 L340.1,309.1 L340.7,309.2 L341.2,309.3 L341.8,309.3 L342.4,309.4 L342.9,309.5 L343.5,309.6 L344.1,309.6 L344.6,309.7 L345.2,309.7 L345.8,309.8 L346.3,309.9 L346.9,309.9 L347.5,310.0 L348.0,310.0 L348.6,310.0 L349.1,310.1 L349.7,310.1 L350.3,310.1 L350.8,310.2 L351.4,310.2 L352.0,310.2 L352.5,310.2 L353.1,310.3 L353.7,310.3 L354.2,310.3 L354.8,310.3 L355.4,310.4 L355.9,310.4 L356.5,310.4 L357.0,310.4 L357.6,310.4 L358.2,310.4 L358.7,310.4 L359.3,310.5 L359.9,310.5 L360.4,310.5 L361.0,310.5 L361.6,310.5 L362.1,310.5 L362.7,310.5 L363.3,310.6 L363.8,310.6 L364.4,310.6 L364.9,310.6 L365.5,310.6 L366.1,310.6 L366.6,310.6 L367.2,310.6 L367.8,310.6 L368.3,310.6 L368.9,310.7 L369.5,310.7 L370.0,310.7 L370.6,310.7 L371.2,310.7 L371.7,310.7 L372.3,310.7 L372.8,310.8 L373.4,310.8 L374.0,310.8 L374.5,310.8 L375.1,310.8 L375.7,310.8 L376.2,310.8 L376.8,310.9 L377.4,310.9 L377.9,310.9 L378.5,310.9 L379.1,310.9 L379.6,310.9 L380.2,311.0 L380.8,311.0 L381.3,311.0 L381.9,311.0 L382.4,311.0 L383.0,311.0 L383.6,311.1 L384.1,311.1 L384.7,311.1 L385.3,311.1 L385.8,311.1 L386.4,311.2 L387.0,311.2 L387.5,311.2 L388.1,311.2 L388.6,311.2 L389.2,311.2 L389.8,311.3 L390.3,311.3 L390.9,311.3 L391.5,311.3 L392.0,311.3 L392.6,311.4 L393.2,311.4 L393.7,311.4 L394.3,311.4 L394.9,311.4 L395.4,311.5 L396.0,311.5 L396.5,311.5 L397.1,311.5 L397.7,311.5 L398.2,311.6 L398.8,311.6 L399.4,311.6 L399.9,311.6 L400.5,311.6 L401.1,311.7 L401.6,311.7 L402.2,311.7 L402.8,311.7 L403.3,311.7 L403.9,311.8 L404.4,311.8 L405.0,311.8 L405.6,311.8 L406.1,311.8 L406.7,311.9 L407.3,311.9 L407.8,311.9 L408.4,311.9" fill="none" stroke="#7d8a1e" stroke-width="1.3" stroke-dasharray="2 1.6"/>
<path d="M250.4,299.3 L251.0,291.1 L251.5,280.9 L252.1,270.6 L252.7,261.3 L253.2,253.3 L253.8,246.5 L254.3,241.0 L254.9,237.2 L255.5,235.0 L256.0,233.9 L256.6,233.4 L257.2,233.1 L257.7,232.9 L258.3,232.8 L258.9,232.6 L259.4,232.5 L260.0,232.4 L260.6,232.3 L261.1,232.3 L261.7,232.2 L262.2,232.2 L262.8,232.2 L263.4,232.2 L263.9,232.2 L264.5,232.2 L265.1,232.2 L265.6,232.2 L266.2,232.2 L266.8,232.2 L267.3,232.2 L267.9,232.2 L268.5,232.2 L269.0,232.2 L269.6,232.2 L270.1,232.2 L270.7,232.2 L271.3,232.2 L271.8,232.2 L272.4,232.2 L273.0,232.2 L273.5,232.2 L274.1,232.2 L274.7,232.2 L275.2,232.3 L275.8,232.6 L276.4,233.0 L276.9,233.6 L277.5,234.4 L278.1,235.3 L278.6,236.4 L279.2,237.4 L279.7,238.6 L280.3,239.8 L280.9,241.3 L281.4,242.8 L282.0,244.6 L282.6,246.3 L283.1,248.2 L283.7,250.0 L284.3,251.7 L284.8,253.3 L285.4,254.7 L285.9,256.0 L286.5,257.1 L287.1,258.2 L287.6,259.3 L288.2,260.4 L288.8,261.4 L289.3,262.4 L289.9,263.4 L290.5,264.3 L291.0,265.1 L291.6,265.8 L292.2,266.5 L292.7,267.0 L293.3,267.4 L293.9,267.8 L294.4,268.0 L295.0,268.2 L295.5,268.3 L296.1,268.4 L296.7,268.5 L297.2,268.5 L297.8,268.6 L298.4,268.6 L298.9,268.6 L299.5,268.6 L300.1,268.6 L300.6,268.5 L301.2,268.4 L301.8,268.3 L302.3,268.2 L302.9,268.1 L303.4,268.0 L304.0,267.9 L304.6,267.8 L305.1,267.7 L305.7,267.6 L306.3,267.5 L306.8,267.4 L307.4,267.4 L308.0,267.3 L308.5,267.3 L309.1,267.3 L309.6,267.3 L310.2,267.4 L310.8,267.4 L311.3,267.5 L311.9,267.6 L312.5,267.6 L313.0,267.7 L313.6,267.9 L314.2,268.0 L314.7,268.1 L315.3,268.2 L315.9,268.3 L316.4,268.5 L317.0,268.6 L317.6,268.8 L318.1,268.9 L318.7,269.0 L319.2,269.2 L319.8,269.3 L320.4,269.4 L320.9,269.6 L321.5,269.7 L322.1,269.9 L322.6,270.0 L323.2,270.1 L323.8,270.3 L324.3,270.5 L324.9,270.6 L325.4,270.8 L326.0,270.9 L326.6,271.1 L327.1,271.3 L327.7,271.5 L328.3,271.6 L328.8,271.8 L329.4,272.0 L330.0,272.2 L330.5,272.4 L331.1,272.6 L331.7,272.8 L332.2,273.0 L332.8,273.2 L333.4,273.4 L333.9,273.6 L334.5,273.8 L335.0,274.0 L335.6,274.2 L336.2,274.4 L336.7,274.6 L337.3,274.8 L337.9,275.0 L338.4,275.2 L339.0,275.4 L339.6,275.6 L340.1,275.8 L340.7,276.1 L341.2,276.3 L341.8,276.5 L342.4,276.7 L342.9,276.9 L343.5,277.2 L344.1,277.4 L344.6,277.7 L345.2,277.9 L345.8,278.1 L346.3,278.4 L346.9,278.6 L347.5,278.9 L348.0,279.2 L348.6,279.4 L349.1,279.7 L349.7,279.9 L350.3,280.2 L350.8,280.5 L351.4,280.7 L352.0,281.0 L352.5,281.3 L353.1,281.6 L353.7,281.8 L354.2,282.1 L354.8,282.4 L355.4,282.6 L355.9,282.9 L356.5,283.2 L357.0,283.4 L357.6,283.7 L358.2,284.0 L358.7,284.2 L359.3,284.5 L359.9,284.7 L360.4,285.0 L361.0,285.2 L361.6,285.5 L362.1,285.7 L362.7,286.0 L363.3,286.2 L363.8,286.5 L364.4,286.7 L364.9,287.0 L365.5,287.2 L366.1,287.4 L366.6,287.7 L367.2,287.9 L367.8,288.2 L368.3,288.4 L368.9,288.6 L369.5,288.9 L370.0,289.1 L370.6,289.4 L371.2,289.6 L371.7,289.8 L372.3,290.1 L372.8,290.3 L373.4,290.5 L374.0,290.8 L374.5,291.0 L375.1,291.2 L375.7,291.5 L376.2,291.7 L376.8,291.9 L377.4,292.1 L377.9,292.4 L378.5,292.6 L379.1,292.8 L379.6,293.0 L380.2,293.2 L380.8,293.4 L381.3,293.7 L381.9,293.9 L382.4,294.1 L383.0,294.3 L383.6,294.5 L384.1,294.7 L384.7,294.8 L385.3,295.0 L385.8,295.2 L386.4,295.4 L387.0,295.6 L387.5,295.8 L388.1,296.0 L388.6,296.2 L389.2,296.3 L389.8,296.5 L390.3,296.7 L390.9,296.9 L391.5,297.0 L392.0,297.2 L392.6,297.4 L393.2,297.6 L393.7,297.7 L394.3,297.9 L394.9,298.1 L395.4,298.3 L396.0,298.4 L396.5,298.6 L397.1,298.7 L397.7,298.9 L398.2,299.1 L398.8,299.2 L399.4,299.4 L399.9,299.5 L400.5,299.7 L401.1,299.8 L401.6,300.0 L402.2,300.2 L402.8,300.3 L403.3,300.4 L403.9,300.6 L404.4,300.7 L405.0,300.9 L405.6,301.0 L406.1,301.1 L406.7,301.3 L407.3,301.4 L407.8,301.5 L408.4,301.6" fill="none" stroke="#ff8a22" stroke-width="1.3" stroke-dasharray="2 1.6"/>
<path d="M250.4,260.7 L251.0,258.0 L251.5,254.0 L252.1,248.9 L252.7,243.4 L253.2,238.2 L253.8,234.6 L254.3,233.3 L254.9,233.5 L255.5,234.1 L256.0,234.6 L256.6,234.9 L257.2,235.2 L257.7,235.3 L258.3,235.5 L258.9,235.5 L259.4,235.6 L260.0,235.6 L260.6,235.6 L261.1,235.6 L261.7,235.6 L262.2,235.6 L262.8,235.6 L263.4,235.6 L263.9,235.6 L264.5,235.6 L265.1,235.6 L265.6,235.6 L266.2,235.6 L266.8,235.6 L267.3,235.6 L267.9,235.6 L268.5,235.6 L269.0,235.6 L269.6,235.6 L270.1,235.6 L270.7,235.6 L271.3,235.6 L271.8,235.6 L272.4,235.6 L273.0,235.6 L273.5,235.6 L274.1,235.6 L274.7,235.7 L275.2,235.8 L275.8,236.1 L276.4,236.7 L276.9,237.5 L277.5,238.4 L278.1,239.5 L278.6,240.6 L279.2,241.6 L279.7,242.6 L280.3,243.4 L280.9,244.2 L281.4,244.9 L282.0,245.6 L282.6,246.3 L283.1,247.0 L283.7,247.6 L284.3,248.2 L284.8,248.8 L285.4,249.3 L285.9,249.7 L286.5,250.2 L287.1,250.6 L287.6,251.1 L288.2,251.5 L288.8,251.9 L289.3,252.2 L289.9,252.5 L290.5,252.7 L291.0,252.8 L291.6,252.9 L292.2,252.9 L292.7,252.8 L293.3,252.8 L293.9,252.7 L294.4,252.5 L295.0,252.4 L295.5,252.2 L296.1,252.1 L296.7,251.9 L297.2,251.7 L297.8,251.5 L298.4,251.3 L298.9,251.1 L299.5,250.8 L300.1,250.5 L300.6,250.2 L301.2,249.9 L301.8,249.5 L302.3,249.1 L302.9,248.7 L303.4,248.3 L304.0,247.8 L304.6,247.4 L305.1,247.0 L305.7,246.5 L306.3,246.0 L306.8,245.6 L307.4,245.1 L308.0,244.7 L308.5,244.2 L309.1,243.8 L309.6,243.3 L310.2,242.8 L310.8,242.3 L311.3,241.8 L311.9,241.3 L312.5,240.7 L313.0,240.2 L313.6,239.6 L314.2,239.1 L314.7,238.5 L315.3,238.0 L315.9,237.5 L316.4,237.0 L317.0,236.5 L317.6,236.0 L318.1,235.6 L318.7,235.2 L319.2,234.9 L319.8,234.6 L320.4,234.3 L320.9,234.0 L321.5,233.7 L322.1,233.4 L322.6,233.1 L323.2,232.9 L323.8,232.6 L324.3,232.4 L324.9,232.1 L325.4,231.9 L326.0,231.7 L326.6,231.6 L327.1,231.4 L327.7,231.3 L328.3,231.2 L328.8,231.1 L329.4,231.1 L330.0,231.1 L330.5,231.2 L331.1,231.3 L331.7,231.4 L332.2,231.6 L332.8,231.9 L333.4,232.1 L333.9,232.4 L334.5,232.8 L335.0,233.1 L335.6,233.5 L336.2,233.9 L336.7,234.2 L337.3,234.6 L337.9,235.0 L338.4,235.4 L339.0,235.8 L339.6,236.1 L340.1,236.5 L340.7,236.9 L341.2,237.3 L341.8,237.7 L342.4,238.1 L342.9,238.6 L343.5,239.0 L344.1,239.5 L344.6,239.9 L345.2,240.4 L345.8,240.9 L346.3,241.4 L346.9,241.9 L347.5,242.4 L348.0,242.8 L348.6,243.3 L349.1,243.8 L349.7,244.3 L350.3,244.8 L350.8,245.3 L351.4,245.9 L352.0,246.4 L352.5,246.9 L353.1,247.5 L353.7,248.0 L354.2,248.6 L354.8,249.1 L355.4,249.6 L355.9,250.1 L356.5,250.6 L357.0,251.0 L357.6,251.5 L358.2,251.9 L358.7,252.3 L359.3,252.6 L359.9,253.0 L360.4,253.3 L361.0,253.7 L361.6,254.0 L362.1,254.3 L362.7,254.6 L363.3,254.9 L363.8,255.2 L364.4,255.4 L364.9,255.7 L365.5,256.0 L366.1,256.2 L366.6,256.5 L367.2,256.7 L367.8,256.9 L368.3,257.1 L368.9,257.3 L369.5,257.5 L370.0,257.7 L370.6,257.9 L371.2,258.1 L371.7,258.3 L372.3,258.4 L372.8,258.6 L373.4,258.7 L374.0,258.9 L374.5,259.1 L375.1,259.2 L375.7,259.4 L376.2,259.5 L376.8,259.7 L377.4,259.8 L377.9,260.0 L378.5,260.2 L379.1,260.3 L379.6,260.5 L380.2,260.6 L380.8,260.8 L381.3,260.9 L381.9,261.1 L382.4,261.3 L383.0,261.4 L383.6,261.6 L384.1,261.7 L384.7,261.8 L385.3,262.0 L385.8,262.1 L386.4,262.3 L387.0,262.4 L387.5,262.5 L388.1,262.7 L388.6,262.8 L389.2,262.9 L389.8,263.0 L390.3,263.2 L390.9,263.3 L391.5,263.4 L392.0,263.5 L392.6,263.6 L393.2,263.8 L393.7,263.9 L394.3,264.0 L394.9,264.1 L395.4,264.1 L396.0,264.2 L396.5,264.3 L397.1,264.4 L397.7,264.4 L398.2,264.5 L398.8,264.6 L399.4,264.6 L399.9,264.7 L400.5,264.7 L401.1,264.8 L401.6,264.8 L402.2,264.9 L402.8,264.9 L403.3,265.0 L403.9,265.0 L404.4,265.1 L405.0,265.1 L405.6,265.1 L406.1,265.2 L406.7,265.2 L407.3,265.2 L407.8,265.2 L408.4,265.2" fill="none" stroke="#ff77ff" stroke-width="1.20"/>
<path d="M250.4,215.5 L251.0,215.9 L251.5,216.5 L252.1,217.2 L252.7,218.0 L253.2,218.8 L253.8,219.8 L254.3,220.8 L254.9,222.0 L255.5,223.2 L256.0,224.3 L256.6,225.4 L257.2,226.4 L257.7,227.1 L258.3,227.6 L258.9,227.8 L259.4,227.5 L260.0,226.9 L260.6,225.9 L261.1,224.9 L261.7,223.9 L262.2,223.1 L262.8,222.5 L263.4,221.9 L263.9,221.4 L264.5,221.0 L265.1,220.7 L265.6,220.4 L266.2,220.3 L266.8,220.3 L267.3,220.3 L267.9,220.3 L268.5,220.3 L269.0,220.3 L269.6,220.4 L270.1,220.4 L270.7,220.5 L271.3,220.6 L271.8,220.6 L272.4,220.7 L273.0,220.9 L273.5,221.1 L274.1,221.3 L274.7,221.5 L275.2,221.8 L275.8,222.2 L276.4,222.7 L276.9,223.4 L277.5,224.3 L278.1,225.3 L278.6,226.3 L279.2,227.3 L279.7,228.5 L280.3,229.6 L280.9,230.9 L281.4,232.2 L282.0,233.4 L282.6,234.5 L283.1,235.6 L283.7,236.5 L284.3,237.2 L284.8,237.9 L285.4,238.5 L285.9,239.0 L286.5,239.5 L287.1,239.9 L287.6,240.3 L288.2,240.5 L288.8,240.6 L289.3,240.7 L289.9,240.7 L290.5,240.6 L291.0,240.6 L291.6,240.5 L292.2,240.4 L292.7,240.3 L293.3,240.1 L293.9,240.0 L294.4,239.9 L295.0,239.7 L295.5,239.6 L296.1,239.4 L296.7,239.3 L297.2,239.1 L297.8,238.9 L298.4,238.7 L298.9,238.4 L299.5,238.2 L300.1,237.9 L300.6,237.7 L301.2,237.4 L301.8,237.1 L302.3,236.8 L302.9,236.6 L303.4,236.3 L304.0,236.0 L304.6,235.7 L305.1,235.4 L305.7,235.1 L306.3,234.8 L306.8,234.5 L307.4,234.2 L308.0,233.8 L308.5,233.5 L309.1,233.1 L309.6,232.7 L310.2,232.4 L310.8,232.0 L311.3,231.6 L311.9,231.2 L312.5,230.7 L313.0,230.3 L313.6,229.9 L314.2,229.6 L314.7,229.2 L315.3,228.8 L315.9,228.5 L316.4,228.2 L317.0,227.9 L317.6,227.6 L318.1,227.4 L318.7,227.1 L319.2,227.0 L319.8,226.8 L320.4,226.7 L320.9,226.6 L321.5,226.5 L322.1,226.4 L322.6,226.3 L323.2,226.2 L323.8,226.2 L324.3,226.1 L324.9,226.0 L325.4,225.9 L326.0,225.9 L326.6,225.8 L327.1,225.8 L327.7,225.7 L328.3,225.7 L328.8,225.7 L329.4,225.7 L330.0,225.7 L330.5,225.7 L331.1,225.7 L331.7,225.8 L332.2,225.9 L332.8,226.0 L333.4,226.1 L333.9,226.3 L334.5,226.5 L335.0,226.6 L335.6,226.8 L336.2,227.0 L336.7,227.3 L337.3,227.5 L337.9,227.7 L338.4,227.9 L339.0,228.2 L339.6,228.4 L340.1,228.6 L340.7,228.9 L341.2,229.2 L341.8,229.4 L342.4,229.7 L342.9,230.1 L343.5,230.4 L344.1,230.7 L344.6,231.1 L345.2,231.5 L345.8,231.8 L346.3,232.2 L346.9,232.6 L347.5,233.0 L348.0,233.4 L348.6,233.8 L349.1,234.2 L349.7,234.6 L350.3,235.0 L350.8,235.4 L351.4,235.8 L352.0,236.3 L352.5,236.8 L353.1,237.2 L353.7,237.7 L354.2,238.2 L354.8,238.6 L355.4,239.1 L355.9,239.6 L356.5,240.0 L357.0,240.5 L357.6,240.9 L358.2,241.4 L358.7,241.8 L359.3,242.2 L359.9,242.7 L360.4,243.1 L361.0,243.5 L361.6,243.9 L362.1,244.4 L362.7,244.8 L363.3,245.2 L363.8,245.6 L364.4,246.0 L364.9,246.4 L365.5,246.8 L366.1,247.1 L366.6,247.5 L367.2,247.9 L367.8,248.2 L368.3,248.5 L368.9,248.9 L369.5,249.2 L370.0,249.5 L370.6,249.8 L371.2,250.1 L371.7,250.4 L372.3,250.7 L372.8,251.0 L373.4,251.3 L374.0,251.6 L374.5,251.8 L375.1,252.1 L375.7,252.3 L376.2,252.6 L376.8,252.8 L377.4,253.0 L377.9,253.3 L378.5,253.5 L379.1,253.7 L379.6,253.9 L380.2,254.0 L380.8,254.2 L381.3,254.4 L381.9,254.6 L382.4,254.7 L383.0,254.9 L383.6,255.1 L384.1,255.2 L384.7,255.4 L385.3,255.5 L385.8,255.7 L386.4,255.8 L387.0,256.0 L387.5,256.2 L388.1,256.3 L388.6,256.5 L389.2,256.6 L389.8,256.8 L390.3,256.9 L390.9,257.1 L391.5,257.2 L392.0,257.4 L392.6,257.5 L393.2,257.7 L393.7,257.8 L394.3,258.0 L394.9,258.1 L395.4,258.2 L396.0,258.4 L396.5,258.5 L397.1,258.6 L397.7,258.7 L398.2,258.9 L398.8,259.0 L399.4,259.1 L399.9,259.2 L400.5,259.3 L401.1,259.4 L401.6,259.5 L402.2,259.6 L402.8,259.8 L403.3,259.9 L403.9,260.0 L404.4,260.1 L405.0,260.1 L405.6,260.2 L406.1,260.3 L406.7,260.4 L407.3,260.5 L407.8,260.6 L408.4,260.6" fill="none" stroke="#8614f0" stroke-width="1.35"/>
<rect x="250.40" y="192.90" width="158.00" height="125.30" fill="none" stroke="#3c3c3c" stroke-width="1.25"/>
<line x1="250.40" y1="318.20" x2="250.40" y2="320.40" stroke="#3c3c3c" stroke-width="1"/>
<text x="250.40" y="328.90" font-size="8.30" text-anchor="middle" font-weight="normal" fill="#222" >200</text>
<line x1="261.69" y1="318.20" x2="261.69" y2="319.80" stroke="#3c3c3c" stroke-width="1"/>
<line x1="272.97" y1="318.20" x2="272.97" y2="320.40" stroke="#3c3c3c" stroke-width="1"/>
<text x="272.97" y="328.90" font-size="8.30" text-anchor="middle" font-weight="normal" fill="#222" >300</text>
<line x1="284.26" y1="318.20" x2="284.26" y2="319.80" stroke="#3c3c3c" stroke-width="1"/>
<line x1="295.54" y1="318.20" x2="295.54" y2="320.40" stroke="#3c3c3c" stroke-width="1"/>
<text x="295.54" y="328.90" font-size="8.30" text-anchor="middle" font-weight="normal" fill="#222" >400</text>
<line x1="306.83" y1="318.20" x2="306.83" y2="319.80" stroke="#3c3c3c" stroke-width="1"/>
<line x1="318.11" y1="318.20" x2="318.11" y2="320.40" stroke="#3c3c3c" stroke-width="1"/>
<text x="318.11" y="328.90" font-size="8.30" text-anchor="middle" font-weight="normal" fill="#222" >500</text>
<line x1="329.40" y1="318.20" x2="329.40" y2="319.80" stroke="#3c3c3c" stroke-width="1"/>
<line x1="340.69" y1="318.20" x2="340.69" y2="320.40" stroke="#3c3c3c" stroke-width="1"/>
<text x="340.69" y="328.90" font-size="8.30" text-anchor="middle" font-weight="normal" fill="#222" >600</text>
<line x1="351.97" y1="318.20" x2="351.97" y2="319.80" stroke="#3c3c3c" stroke-width="1"/>
<line x1="363.26" y1="318.20" x2="363.26" y2="320.40" stroke="#3c3c3c" stroke-width="1"/>
<text x="363.26" y="328.90" font-size="8.30" text-anchor="middle" font-weight="normal" fill="#222" >700</text>
<line x1="374.54" y1="318.20" x2="374.54" y2="319.80" stroke="#3c3c3c" stroke-width="1"/>
<line x1="385.83" y1="318.20" x2="385.83" y2="320.40" stroke="#3c3c3c" stroke-width="1"/>
<text x="385.83" y="328.90" font-size="8.30" text-anchor="middle" font-weight="normal" fill="#222" >800</text>
<line x1="397.11" y1="318.20" x2="397.11" y2="319.80" stroke="#3c3c3c" stroke-width="1"/>
<line x1="408.40" y1="318.20" x2="408.40" y2="320.40" stroke="#3c3c3c" stroke-width="1"/>
<text x="408.40" y="328.90" font-size="8.30" text-anchor="middle" font-weight="normal" fill="#222" >900</text>
<line x1="248.20" y1="306.81" x2="250.40" y2="306.81" stroke="#3c3c3c" stroke-width="1"/>
<text x="246.80" y="310.31" font-size="8.30" text-anchor="end" font-weight="normal" fill="#222" >0.0</text>
<line x1="248.80" y1="292.57" x2="250.40" y2="292.57" stroke="#3c3c3c" stroke-width="1"/>
<line x1="248.20" y1="278.33" x2="250.40" y2="278.33" stroke="#3c3c3c" stroke-width="1"/>
<text x="246.80" y="281.83" font-size="8.30" text-anchor="end" font-weight="normal" fill="#222" >0.5</text>
<line x1="248.80" y1="264.09" x2="250.40" y2="264.09" stroke="#3c3c3c" stroke-width="1"/>
<line x1="248.20" y1="249.85" x2="250.40" y2="249.85" stroke="#3c3c3c" stroke-width="1"/>
<text x="246.80" y="253.35" font-size="8.30" text-anchor="end" font-weight="normal" fill="#222" >1.0</text>
<line x1="248.80" y1="235.62" x2="250.40" y2="235.62" stroke="#3c3c3c" stroke-width="1"/>
<line x1="248.20" y1="221.38" x2="250.40" y2="221.38" stroke="#3c3c3c" stroke-width="1"/>
<text x="246.80" y="224.88" font-size="8.30" text-anchor="end" font-weight="normal" fill="#222" >1.5</text>
<line x1="248.80" y1="207.14" x2="250.40" y2="207.14" stroke="#3c3c3c" stroke-width="1"/>
<line x1="248.20" y1="192.90" x2="250.40" y2="192.90" stroke="#3c3c3c" stroke-width="1"/>
<text x="246.80" y="196.40" font-size="8.30" text-anchor="end" font-weight="normal" fill="#222" >2.0</text>
<text x="284.00" y="348.40" font-size="12.6" fill="#222" stroke="#222" stroke-width="0.2" textLength="81" lengthAdjust="spacingAndGlyphs">Wavelength (nm)</text>
<text x="0" y="0" font-size="11.6" fill="#222" stroke="#222" stroke-width="0.2" textLength="77.2" lengthAdjust="spacingAndGlyphs" transform="translate(229.00,288.70) rotate(-90)">Absorbance (a.u.)</text>
<text x="318.20" y="365.00" font-size="10.80" text-anchor="middle" font-weight="bold" fill="#222" >(d)</text>
<text x="329.20" y="220.20" font-size="6.7" text-anchor="middle" fill="#1a1a1a" stroke="#1a1a1a" stroke-width="0.18">548</text>
<line x1="360.40" y1="198.00" x2="371.10" y2="198.00" stroke="#cccccc" stroke-width="1.0"/>
<text x="0" y="0" font-size="6.20" fill="#333" transform="translate(373.60,200.05) scale(0.880,1)">TiO<tspan font-size="3.84" dy="1.86">2</tspan></text>
<line x1="360.40" y1="206.00" x2="371.10" y2="206.00" stroke="#22ee22" stroke-width="1.2" stroke-dasharray="2 1.8"/>
<text x="0" y="0" font-size="6.20" fill="#333" transform="translate(373.60,208.05) scale(0.880,1)">Mg/TiO<tspan font-size="3.84" dy="1.86">2</tspan></text>
<line x1="360.40" y1="213.40" x2="371.10" y2="213.40" stroke="#ff8a22" stroke-width="1.2" stroke-dasharray="2 1.8"/>
<text x="0" y="0" font-size="6.20" fill="#333" transform="translate(373.60,215.45) scale(0.880,1)">Au/Mg/TiO<tspan font-size="3.84" dy="1.86">2</tspan></text>
<line x1="360.40" y1="220.90" x2="371.10" y2="220.90" stroke="#7d8a1e" stroke-width="1.2" stroke-dasharray="2 1.8"/>
<text x="0" y="0" font-size="6.20" fill="#333" transform="translate(373.60,222.95) scale(0.880,1)">Ag/Mg/TiO<tspan font-size="3.84" dy="1.86">2</tspan></text>
<line x1="360.40" y1="229.10" x2="371.10" y2="229.10" stroke="#ff77ff" stroke-width="1.2"/>
<text x="0" y="0" font-size="6.20" fill="#333" transform="translate(373.60,231.15) scale(0.880,1)">AuAg/Mg/TiO<tspan font-size="3.84" dy="1.86">2</tspan></text>
<line x1="360.40" y1="237.10" x2="371.10" y2="237.10" stroke="#8614f0" stroke-width="1.2"/>
<text x="0" y="0" font-size="6.20" fill="#333" transform="translate(373.60,239.15) scale(0.880,1)">AgAu/Mg/TiO<tspan font-size="3.84" dy="1.86">2</tspan></text>
<line x1="253.90" y1="237.32" x2="253.90" y2="229.92" stroke="#ff77ff" stroke-width="1.10"/>
<line x1="213.64" y1="410.43" x2="213.64" y2="422.28" stroke="#f0f0f0" stroke-width="0.6"/>
<line x1="215.90" y1="423.97" x2="215.90" y2="436.38" stroke="#f0f0f0" stroke-width="0.6"/>
<text x="186.10" y="398.80" font-size="22.00" text-anchor="middle" font-weight="normal" fill="#d2d2d2" >La</text>
<path d="M138.3,482.4 L138.9,476.5 L139.4,468.8 L140.0,460.5 L140.6,452.3 L141.1,444.3 L141.7,436.6 L142.2,429.4 L142.8,423.3 L143.4,418.8 L143.9,415.7 L144.5,413.9 L145.1,412.9 L145.6,412.1 L146.2,411.5 L146.8,410.9 L147.3,410.5 L147.9,410.1 L148.5,409.8 L149.0,409.6 L149.6,409.4 L150.1,409.4 L150.7,409.4 L151.3,409.4 L151.8,409.5 L152.4,409.7 L153.0,409.8 L153.5,410.0 L154.1,410.3 L154.7,410.5 L155.2,410.8 L155.8,411.1 L156.3,411.4 L156.9,411.7 L157.5,412.0 L158.0,412.3 L158.6,412.6 L159.2,412.9 L159.7,413.2 L160.3,413.5 L160.9,413.8 L161.4,414.0 L162.0,414.3 L162.5,414.5 L163.1,414.8 L163.7,415.2 L164.2,415.9 L164.8,416.8 L165.4,418.1 L165.9,419.7 L166.5,421.6 L167.1,423.8 L167.6,426.1 L168.2,428.7 L168.8,431.4 L169.3,434.1 L169.9,436.7 L170.4,439.1 L171.0,441.4 L171.6,443.6 L172.1,445.7 L172.7,447.8 L173.3,449.8 L173.8,451.8 L174.4,453.7 L175.0,455.7 L175.5,457.7 L176.1,459.8 L176.6,461.9 L177.2,464.1 L177.8,466.5 L178.3,468.9 L178.9,471.4 L179.5,473.9 L180.0,476.4 L180.6,478.8 L181.2,480.9 L181.7,482.9 L182.3,484.5 L182.9,485.9 L183.4,486.9 L184.0,487.8 L184.5,488.5 L185.1,489.1 L185.7,489.6 L186.2,490.1 L186.8,490.5 L187.4,490.8 L187.9,490.9 L188.5,491.0 L189.1,491.1 L189.6,491.1 L190.2,491.1 L190.7,491.1 L191.3,491.1 L191.9,491.1 L192.4,491.1 L193.0,491.1 L193.6,491.1 L194.1,491.1 L194.7,491.1 L195.3,491.1 L195.8,491.1 L196.4,491.1 L196.9,491.1 L197.5,491.1 L198.1,491.1 L198.6,491.1 L199.2,491.1 L199.8,491.1 L200.3,491.1 L200.9,491.1 L201.5,491.1 L202.0,491.1 L202.6,491.1 L203.2,491.1 L203.7,491.1 L204.3,491.1 L204.8,491.1 L205.4,491.1 L206.0,491.1 L206.5,491.1 L207.1,491.1 L207.7,491.1 L208.2,491.1 L208.8,491.1 L209.4,491.1 L209.9,491.1 L210.5,491.1 L211.0,491.1 L211.6,491.1 L212.2,491.1 L212.7,491.1 L213.3,491.1 L213.9,491.1 L214.4,491.1 L215.0,491.1 L215.6,491.1 L216.1,491.1 L216.7,491.1 L217.2,491.1 L217.8,491.1 L218.4,491.1 L218.9,491.1 L219.5,491.1 L220.1,491.1 L220.6,491.1 L221.2,491.1 L221.8,491.1 L222.3,491.1 L222.9,491.1 L223.5,491.1 L224.0,491.1 L224.6,491.1 L225.1,491.1 L225.7,491.1 L226.3,491.1 L226.8,491.1 L227.4,491.1 L228.0,491.1 L228.5,491.1 L229.1,491.1 L229.7,491.1 L230.2,491.1 L230.8,491.1 L231.3,491.1 L231.9,491.1 L232.5,491.1 L233.0,491.1 L233.6,491.1 L234.2,491.1 L234.7,491.1 L235.3,491.0 L235.9,491.0 L236.4,491.0 L237.0,491.0 L237.6,491.0 L238.1,491.0 L238.7,491.0 L239.2,491.0 L239.8,491.0 L240.4,491.0 L240.9,491.0 L241.5,491.0 L242.1,491.0 L242.6,491.0 L243.2,491.0 L243.8,491.0 L244.3,491.0 L244.9,491.0 L245.4,491.0 L246.0,491.0 L246.6,491.0 L247.1,491.0 L247.7,491.0 L248.3,491.0 L248.8,491.0 L249.4,491.0 L250.0,491.0 L250.5,491.0 L251.1,491.0 L251.6,491.0 L252.2,491.0 L252.8,491.0 L253.3,491.0 L253.9,491.0 L254.5,491.0 L255.0,491.0 L255.6,491.0 L256.2,491.0 L256.7,491.0 L257.3,490.9 L257.9,490.9 L258.4,490.9 L259.0,490.9 L259.5,490.9 L260.1,490.9 L260.7,490.9 L261.2,490.9 L261.8,490.9 L262.4,490.9 L262.9,490.9 L263.5,490.9 L264.1,490.9 L264.6,490.9 L265.2,490.9 L265.7,490.9 L266.3,490.9 L266.9,490.9 L267.4,490.9 L268.0,490.9 L268.6,490.9 L269.1,490.9 L269.7,490.9 L270.3,490.8 L270.8,490.8 L271.4,490.8 L272.0,490.8 L272.5,490.8 L273.1,490.8 L273.6,490.8 L274.2,490.8 L274.8,490.8 L275.3,490.8 L275.9,490.8 L276.5,490.8 L277.0,490.8 L277.6,490.8 L278.2,490.8 L278.7,490.8 L279.3,490.8 L279.8,490.8 L280.4,490.7 L281.0,490.7 L281.5,490.7 L282.1,490.7 L282.7,490.7 L283.2,490.7 L283.8,490.7 L284.4,490.7 L284.9,490.7 L285.5,490.7 L286.0,490.7 L286.6,490.7 L287.2,490.7 L287.7,490.7 L288.3,490.6 L288.9,490.6 L289.4,490.6 L290.0,490.6 L290.6,490.6 L291.1,490.6 L291.7,490.6 L292.3,490.6 L292.8,490.6 L293.4,490.6 L293.9,490.6 L294.5,490.6 L295.1,490.5 L295.6,490.5 L296.2,490.5" fill="none" stroke="#cccccc" stroke-width="1.0"/>
<path d="M138.3,482.6 L138.9,475.7 L139.4,466.8 L140.0,457.1 L140.6,447.7 L141.1,438.7 L141.7,430.4 L142.2,423.6 L142.8,418.7 L143.4,415.7 L143.9,414.2 L144.5,413.4 L145.1,413.0 L145.6,412.8 L146.2,412.7 L146.8,412.7 L147.3,412.7 L147.9,412.7 L148.5,412.7 L149.0,412.7 L149.6,412.7 L150.1,412.7 L150.7,412.7 L151.3,412.7 L151.8,412.7 L152.4,412.7 L153.0,412.7 L153.5,412.7 L154.1,412.7 L154.7,412.7 L155.2,412.7 L155.8,412.8 L156.3,412.8 L156.9,412.9 L157.5,413.0 L158.0,413.1 L158.6,413.2 L159.2,413.3 L159.7,413.4 L160.3,413.6 L160.9,413.7 L161.4,413.9 L162.0,414.1 L162.5,414.3 L163.1,414.5 L163.7,414.7 L164.2,415.1 L164.8,415.5 L165.4,416.1 L165.9,416.8 L166.5,417.6 L167.1,418.5 L167.6,419.5 L168.2,420.6 L168.8,421.8 L169.3,423.1 L169.9,424.5 L170.4,426.0 L171.0,427.6 L171.6,429.2 L172.1,431.0 L172.7,432.9 L173.3,434.9 L173.8,437.0 L174.4,439.2 L175.0,441.5 L175.5,443.8 L176.1,446.1 L176.6,448.5 L177.2,450.8 L177.8,453.0 L178.3,455.3 L178.9,457.5 L179.5,459.8 L180.0,462.0 L180.6,464.3 L181.2,466.6 L181.7,468.8 L182.3,471.1 L182.9,473.5 L183.4,475.9 L184.0,478.4 L184.5,480.8 L185.1,482.8 L185.7,484.4 L186.2,485.7 L186.8,486.6 L187.4,487.2 L187.9,487.5 L188.5,487.7 L189.1,487.7 L189.6,487.7 L190.2,487.7 L190.7,487.7 L191.3,487.7 L191.9,487.7 L192.4,487.7 L193.0,487.7 L193.6,487.7 L194.1,487.7 L194.7,487.7 L195.3,487.7 L195.8,487.7 L196.4,487.7 L196.9,487.7 L197.5,487.7 L198.1,487.7 L198.6,487.7 L199.2,487.7 L199.8,487.7 L200.3,487.7 L200.9,487.7 L201.5,487.7 L202.0,487.7 L202.6,487.7 L203.2,487.7 L203.7,487.7 L204.3,487.7 L204.8,487.7 L205.4,487.7 L206.0,487.7 L206.5,487.7 L207.1,487.7 L207.7,487.7 L208.2,487.7 L208.8,487.7 L209.4,487.7 L209.9,487.7 L210.5,487.7 L211.0,487.7 L211.6,487.7 L212.2,487.7 L212.7,487.7 L213.3,487.7 L213.9,487.7 L214.4,487.7 L215.0,487.7 L215.6,487.7 L216.1,487.7 L216.7,487.7 L217.2,487.7 L217.8,487.7 L218.4,487.7 L218.9,487.7 L219.5,487.7 L220.1,487.7 L220.6,487.7 L221.2,487.7 L221.8,487.7 L222.3,487.7 L222.9,487.7 L223.5,487.7 L224.0,487.7 L224.6,487.7 L225.1,487.7 L225.7,487.7 L226.3,487.7 L226.8,487.7 L227.4,487.7 L228.0,487.7 L228.5,487.7 L229.1,487.7 L229.7,487.7 L230.2,487.7 L230.8,487.7 L231.3,487.7 L231.9,487.7 L232.5,487.7 L233.0,487.7 L233.6,487.7 L234.2,487.7 L234.7,487.7 L235.3,487.7 L235.9,487.7 L236.4,487.7 L237.0,487.7 L237.6,487.7 L238.1,487.7 L238.7,487.7 L239.2,487.7 L239.8,487.7 L240.4,487.7 L240.9,487.7 L241.5,487.7 L242.1,487.7 L242.6,487.7 L243.2,487.7 L243.8,487.7 L244.3,487.7 L244.9,487.7 L245.4,487.7 L246.0,487.7 L246.6,487.7 L247.1,487.7 L247.7,487.7 L248.3,487.7 L248.8,487.7 L249.4,487.7 L250.0,487.7 L250.5,487.7 L251.1,487.7 L251.6,487.7 L252.2,487.7 L252.8,487.7 L253.3,487.7 L253.9,487.7 L254.5,487.7 L255.0,487.7 L255.6,487.7 L256.2,487.7 L256.7,487.7 L257.3,487.7 L257.9,487.7 L258.4,487.7 L259.0,487.7 L259.5,487.7 L260.1,487.7 L260.7,487.7 L261.2,487.7 L261.8,487.7 L262.4,487.7 L262.9,487.7 L263.5,487.7 L264.1,487.7 L264.6,487.7 L265.2,487.7 L265.7,487.7 L266.3,487.7 L266.9,487.7 L267.4,487.7 L268.0,487.7 L268.6,487.7 L269.1,487.7 L269.7,487.7 L270.3,487.7 L270.8,487.7 L271.4,487.7 L272.0,487.7 L272.5,487.7 L273.1,487.7 L273.6,487.7 L274.2,487.7 L274.8,487.7 L275.3,487.7 L275.9,487.7 L276.5,487.7 L277.0,487.7 L277.6,487.7 L278.2,487.7 L278.7,487.7 L279.3,487.7 L279.8,487.7 L280.4,487.7 L281.0,487.7 L281.5,487.7 L282.1,487.7 L282.7,487.7 L283.2,487.7 L283.8,487.7 L284.4,487.7 L284.9,487.7 L285.5,487.7 L286.0,487.7 L286.6,487.7 L287.2,487.7 L287.7,487.7 L288.3,487.7 L288.9,487.7 L289.4,487.7 L290.0,487.7 L290.6,487.7 L291.1,487.7 L291.7,487.7 L292.3,487.7 L292.8,487.7 L293.4,487.7 L293.9,487.7 L294.5,487.7 L295.1,487.7 L295.6,487.7 L296.2,487.7" fill="none" stroke="#22ee22" stroke-width="1.3" stroke-dasharray="2 1.6"/>
<path d="M138.3,480.3 L138.9,473.9 L139.4,465.8 L140.0,457.3 L140.6,449.2 L141.1,442.1 L141.7,435.9 L142.2,430.4 L142.8,425.5 L143.4,421.1 L143.9,417.6 L144.5,415.1 L145.1,413.5 L145.6,412.6 L146.2,412.0 L146.8,411.7 L147.3,411.4 L147.9,411.2 L148.5,411.0 L149.0,410.8 L149.6,410.7 L150.1,410.6 L150.7,410.5 L151.3,410.5 L151.8,410.4 L152.4,410.4 L153.0,410.5 L153.5,410.5 L154.1,410.5 L154.7,410.5 L155.2,410.6 L155.8,410.6 L156.3,410.7 L156.9,410.8 L157.5,410.9 L158.0,411.0 L158.6,411.1 L159.2,411.2 L159.7,411.3 L160.3,411.4 L160.9,411.6 L161.4,411.7 L162.0,411.9 L162.5,412.1 L163.1,412.3 L163.7,412.5 L164.2,412.8 L164.8,413.3 L165.4,414.0 L165.9,414.9 L166.5,415.9 L167.1,417.2 L167.6,418.7 L168.2,420.5 L168.8,422.5 L169.3,424.6 L169.9,426.9 L170.4,429.2 L171.0,431.6 L171.6,434.2 L172.1,436.8 L172.7,439.5 L173.3,442.2 L173.8,444.7 L174.4,447.2 L175.0,449.5 L175.5,451.5 L176.1,453.3 L176.6,454.8 L177.2,456.1 L177.8,457.3 L178.3,458.4 L178.9,459.4 L179.5,460.4 L180.0,461.3 L180.6,462.1 L181.2,462.9 L181.7,463.6 L182.3,464.1 L182.9,464.7 L183.4,465.1 L184.0,465.5 L184.5,465.8 L185.1,466.1 L185.7,466.3 L186.2,466.6 L186.8,466.8 L187.4,467.0 L187.9,467.2 L188.5,467.4 L189.1,467.6 L189.6,467.8 L190.2,468.0 L190.7,468.2 L191.3,468.4 L191.9,468.5 L192.4,468.7 L193.0,468.9 L193.6,469.1 L194.1,469.2 L194.7,469.4 L195.3,469.6 L195.8,469.7 L196.4,469.9 L196.9,470.1 L197.5,470.2 L198.1,470.4 L198.6,470.5 L199.2,470.7 L199.8,470.8 L200.3,471.0 L200.9,471.2 L201.5,471.3 L202.0,471.5 L202.6,471.7 L203.2,471.8 L203.7,472.0 L204.3,472.2 L204.8,472.3 L205.4,472.5 L206.0,472.7 L206.5,472.9 L207.1,473.1 L207.7,473.2 L208.2,473.4 L208.8,473.6 L209.4,473.8 L209.9,474.0 L210.5,474.2 L211.0,474.4 L211.6,474.5 L212.2,474.7 L212.7,474.9 L213.3,475.1 L213.9,475.3 L214.4,475.4 L215.0,475.6 L215.6,475.8 L216.1,475.9 L216.7,476.1 L217.2,476.3 L217.8,476.4 L218.4,476.6 L218.9,476.7 L219.5,476.8 L220.1,477.0 L220.6,477.1 L221.2,477.2 L221.8,477.3 L222.3,477.4 L222.9,477.6 L223.5,477.7 L224.0,477.8 L224.6,477.9 L225.1,478.0 L225.7,478.1 L226.3,478.2 L226.8,478.3 L227.4,478.4 L228.0,478.5 L228.5,478.6 L229.1,478.7 L229.7,478.8 L230.2,478.9 L230.8,479.0 L231.3,479.1 L231.9,479.2 L232.5,479.2 L233.0,479.3 L233.6,479.4 L234.2,479.5 L234.7,479.6 L235.3,479.7 L235.9,479.8 L236.4,479.8 L237.0,479.9 L237.6,480.0 L238.1,480.1 L238.7,480.2 L239.2,480.3 L239.8,480.3 L240.4,480.4 L240.9,480.5 L241.5,480.6 L242.1,480.7 L242.6,480.8 L243.2,480.8 L243.8,480.9 L244.3,481.0 L244.9,481.1 L245.4,481.2 L246.0,481.2 L246.6,481.3 L247.1,481.4 L247.7,481.5 L248.3,481.6 L248.8,481.6 L249.4,481.7 L250.0,481.8 L250.5,481.9 L251.1,481.9 L251.6,482.0 L252.2,482.1 L252.8,482.1 L253.3,482.2 L253.9,482.3 L254.5,482.4 L255.0,482.4 L255.6,482.5 L256.2,482.6 L256.7,482.6 L257.3,482.7 L257.9,482.7 L258.4,482.8 L259.0,482.9 L259.5,482.9 L260.1,483.0 L260.7,483.0 L261.2,483.1 L261.8,483.1 L262.4,483.2 L262.9,483.2 L263.5,483.3 L264.1,483.3 L264.6,483.4 L265.2,483.4 L265.7,483.5 L266.3,483.5 L266.9,483.6 L267.4,483.6 L268.0,483.7 L268.6,483.7 L269.1,483.8 L269.7,483.8 L270.3,483.9 L270.8,483.9 L271.4,484.0 L272.0,484.0 L272.5,484.1 L273.1,484.1 L273.6,484.2 L274.2,484.2 L274.8,484.2 L275.3,484.3 L275.9,484.3 L276.5,484.4 L277.0,484.4 L277.6,484.5 L278.2,484.5 L278.7,484.5 L279.3,484.6 L279.8,484.6 L280.4,484.7 L281.0,484.7 L281.5,484.7 L282.1,484.8 L282.7,484.8 L283.2,484.8 L283.8,484.9 L284.4,484.9 L284.9,484.9 L285.5,485.0 L286.0,485.0 L286.6,485.0 L287.2,485.1 L287.7,485.1 L288.3,485.1 L288.9,485.2 L289.4,485.2 L290.0,485.2 L290.6,485.2 L291.1,485.3 L291.7,485.3 L292.3,485.3 L292.8,485.3 L293.4,485.4 L293.9,485.4 L294.5,485.4 L295.1,485.4 L295.6,485.4 L296.2,485.4" fill="none" stroke="#ff8a22" stroke-width="1.3" stroke-dasharray="2 1.6"/>
<path d="M138.3,480.3 L138.9,473.9 L139.4,465.8 L140.0,457.3 L140.6,449.2 L141.1,442.1 L141.7,435.9 L142.2,430.4 L142.8,425.4 L143.4,421.1 L143.9,417.6 L144.5,415.0 L145.1,413.5 L145.6,412.6 L146.2,412.2 L146.8,411.9 L147.3,411.7 L147.9,411.6 L148.5,411.4 L149.0,411.3 L149.6,411.2 L150.1,411.1 L150.7,411.1 L151.3,411.0 L151.8,411.0 L152.4,411.0 L153.0,411.0 L153.5,411.0 L154.1,411.0 L154.7,411.1 L155.2,411.1 L155.8,411.1 L156.3,411.2 L156.9,411.2 L157.5,411.3 L158.0,411.4 L158.6,411.5 L159.2,411.5 L159.7,411.6 L160.3,411.7 L160.9,411.8 L161.4,412.0 L162.0,412.1 L162.5,412.2 L163.1,412.4 L163.7,412.6 L164.2,412.9 L164.8,413.3 L165.4,414.0 L165.9,414.8 L166.5,415.9 L167.1,417.2 L167.6,418.7 L168.2,420.5 L168.8,422.5 L169.3,424.6 L169.9,426.7 L170.4,428.8 L171.0,431.0 L171.6,433.1 L172.1,435.3 L172.7,437.4 L173.3,439.5 L173.8,441.5 L174.4,443.4 L175.0,445.2 L175.5,446.7 L176.1,448.0 L176.6,449.2 L177.2,450.2 L177.8,451.0 L178.3,451.8 L178.9,452.6 L179.5,453.2 L180.0,453.9 L180.6,454.5 L181.2,455.1 L181.7,455.6 L182.3,456.1 L182.9,456.6 L183.4,457.1 L184.0,457.6 L184.5,458.1 L185.1,458.6 L185.7,459.1 L186.2,459.6 L186.8,460.1 L187.4,460.6 L187.9,461.1 L188.5,461.6 L189.1,462.1 L189.6,462.7 L190.2,463.2 L190.7,463.6 L191.3,464.1 L191.9,464.6 L192.4,465.1 L193.0,465.6 L193.6,466.0 L194.1,466.5 L194.7,466.9 L195.3,467.4 L195.8,467.8 L196.4,468.3 L196.9,468.7 L197.5,469.1 L198.1,469.5 L198.6,470.0 L199.2,470.4 L199.8,470.8 L200.3,471.2 L200.9,471.6 L201.5,472.0 L202.0,472.3 L202.6,472.7 L203.2,473.1 L203.7,473.5 L204.3,473.9 L204.8,474.2 L205.4,474.6 L206.0,475.0 L206.5,475.3 L207.1,475.7 L207.7,476.1 L208.2,476.4 L208.8,476.8 L209.4,477.1 L209.9,477.5 L210.5,477.8 L211.0,478.2 L211.6,478.5 L212.2,478.9 L212.7,479.3 L213.3,479.6 L213.9,480.0 L214.4,480.4 L215.0,480.8 L215.6,481.2 L216.1,481.6 L216.7,482.0 L217.2,482.3 L217.8,482.7 L218.4,483.1 L218.9,483.4 L219.5,483.7 L220.1,484.0 L220.6,484.3 L221.2,484.6 L221.8,484.8 L222.3,485.1 L222.9,485.2 L223.5,485.4 L224.0,485.5 L224.6,485.7 L225.1,485.8 L225.7,485.9 L226.3,486.0 L226.8,486.1 L227.4,486.2 L228.0,486.3 L228.5,486.4 L229.1,486.5 L229.7,486.6 L230.2,486.7 L230.8,486.8 L231.3,486.8 L231.9,486.9 L232.5,487.0 L233.0,487.0 L233.6,487.1 L234.2,487.2 L234.7,487.2 L235.3,487.3 L235.9,487.3 L236.4,487.4 L237.0,487.4 L237.6,487.5 L238.1,487.5 L238.7,487.6 L239.2,487.6 L239.8,487.7 L240.4,487.7 L240.9,487.8 L241.5,487.8 L242.1,487.9 L242.6,487.9 L243.2,488.0 L243.8,488.0 L244.3,488.1 L244.9,488.1 L245.4,488.1 L246.0,488.2 L246.6,488.2 L247.1,488.3 L247.7,488.3 L248.3,488.4 L248.8,488.4 L249.4,488.4 L250.0,488.5 L250.5,488.5 L251.1,488.6 L251.6,488.6 L252.2,488.7 L252.8,488.7 L253.3,488.7 L253.9,488.8 L254.5,488.8 L255.0,488.9 L255.6,488.9 L256.2,488.9 L256.7,489.0 L257.3,489.0 L257.9,489.0 L258.4,489.1 L259.0,489.1 L259.5,489.2 L260.1,489.2 L260.7,489.2 L261.2,489.3 L261.8,489.3 L262.4,489.3 L262.9,489.4 L263.5,489.4 L264.1,489.4 L264.6,489.5 L265.2,489.5 L265.7,489.5 L266.3,489.6 L266.9,489.6 L267.4,489.6 L268.0,489.7 L268.6,489.7 L269.1,489.7 L269.7,489.8 L270.3,489.8 L270.8,489.8 L271.4,489.9 L272.0,489.9 L272.5,489.9 L273.1,489.9 L273.6,490.0 L274.2,490.0 L274.8,490.0 L275.3,490.0 L275.9,490.1 L276.5,490.1 L277.0,490.1 L277.6,490.1 L278.2,490.2 L278.7,490.2 L279.3,490.2 L279.8,490.2 L280.4,490.2 L281.0,490.3 L281.5,490.3 L282.1,490.3 L282.7,490.3 L283.2,490.3 L283.8,490.3 L284.4,490.4 L284.9,490.4 L285.5,490.4 L286.0,490.4 L286.6,490.4 L287.2,490.4 L287.7,490.4 L288.3,490.5 L288.9,490.5 L289.4,490.5 L290.0,490.5 L290.6,490.5 L291.1,490.5 L291.7,490.5 L292.3,490.5 L292.8,490.5 L293.4,490.5 L293.9,490.5 L294.5,490.5 L295.1,490.5 L295.6,490.5 L296.2,490.5" fill="none" stroke="#7d8a1e" stroke-width="1.3" stroke-dasharray="2 1.6"/>
<path d="M138.3,435.2 L138.9,431.1 L139.4,426.1 L140.0,421.1 L140.6,417.2 L141.1,414.7 L141.7,413.4 L142.2,413.0 L142.8,413.0 L143.4,413.2 L143.9,413.4 L144.5,413.6 L145.1,413.8 L145.6,413.9 L146.2,414.1 L146.8,414.2 L147.3,414.3 L147.9,414.4 L148.5,414.5 L149.0,414.6 L149.6,414.7 L150.1,414.8 L150.7,414.9 L151.3,415.0 L151.8,415.1 L152.4,415.2 L153.0,415.3 L153.5,415.4 L154.1,415.5 L154.7,415.6 L155.2,415.7 L155.8,415.8 L156.3,415.9 L156.9,416.0 L157.5,416.1 L158.0,416.2 L158.6,416.3 L159.2,416.4 L159.7,416.5 L160.3,416.6 L160.9,416.8 L161.4,417.0 L162.0,417.2 L162.5,417.4 L163.1,417.8 L163.7,418.3 L164.2,418.8 L164.8,419.5 L165.4,420.2 L165.9,421.0 L166.5,421.8 L167.1,422.7 L167.6,423.7 L168.2,424.8 L168.8,426.1 L169.3,427.6 L169.9,429.1 L170.4,430.7 L171.0,432.3 L171.6,433.7 L172.1,435.0 L172.7,436.0 L173.3,436.9 L173.8,437.6 L174.4,438.2 L175.0,438.8 L175.5,439.3 L176.1,439.8 L176.6,440.2 L177.2,440.6 L177.8,440.9 L178.3,441.1 L178.9,441.3 L179.5,441.4 L180.0,441.4 L180.6,441.4 L181.2,441.3 L181.7,441.2 L182.3,441.1 L182.9,441.0 L183.4,440.9 L184.0,440.8 L184.5,440.6 L185.1,440.5 L185.7,440.3 L186.2,440.1 L186.8,439.9 L187.4,439.7 L187.9,439.5 L188.5,439.2 L189.1,439.0 L189.6,438.7 L190.2,438.4 L190.7,438.1 L191.3,437.8 L191.9,437.5 L192.4,437.2 L193.0,436.9 L193.6,436.6 L194.1,436.3 L194.7,436.0 L195.3,435.7 L195.8,435.4 L196.4,435.1 L196.9,434.8 L197.5,434.5 L198.1,434.2 L198.6,433.9 L199.2,433.5 L199.8,433.2 L200.3,432.8 L200.9,432.5 L201.5,432.1 L202.0,431.6 L202.6,431.2 L203.2,430.8 L203.7,430.3 L204.3,429.8 L204.8,429.4 L205.4,428.9 L206.0,428.4 L206.5,428.0 L207.1,427.6 L207.7,427.2 L208.2,426.8 L208.8,426.4 L209.4,426.0 L209.9,425.7 L210.5,425.3 L211.0,424.9 L211.6,424.5 L212.2,424.2 L212.7,423.9 L213.3,423.6 L213.9,423.3 L214.4,423.1 L215.0,423.0 L215.6,422.9 L216.1,422.9 L216.7,423.0 L217.2,423.1 L217.8,423.2 L218.4,423.4 L218.9,423.7 L219.5,424.0 L220.1,424.3 L220.6,424.7 L221.2,425.0 L221.8,425.4 L222.3,425.8 L222.9,426.3 L223.5,426.7 L224.0,427.1 L224.6,427.5 L225.1,427.9 L225.7,428.4 L226.3,428.8 L226.8,429.3 L227.4,429.8 L228.0,430.4 L228.5,430.9 L229.1,431.5 L229.7,432.0 L230.2,432.6 L230.8,433.2 L231.3,433.7 L231.9,434.3 L232.5,434.8 L233.0,435.3 L233.6,435.8 L234.2,436.3 L234.7,436.8 L235.3,437.3 L235.9,437.8 L236.4,438.3 L237.0,438.8 L237.6,439.2 L238.1,439.7 L238.7,440.2 L239.2,440.6 L239.8,441.0 L240.4,441.4 L240.9,441.8 L241.5,442.2 L242.1,442.6 L242.6,443.0 L243.2,443.4 L243.8,443.8 L244.3,444.1 L244.9,444.5 L245.4,444.9 L246.0,445.2 L246.6,445.6 L247.1,445.9 L247.7,446.3 L248.3,446.6 L248.8,446.9 L249.4,447.2 L250.0,447.5 L250.5,447.8 L251.1,448.0 L251.6,448.3 L252.2,448.5 L252.8,448.7 L253.3,448.9 L253.9,449.1 L254.5,449.3 L255.0,449.5 L255.6,449.7 L256.2,449.9 L256.7,450.1 L257.3,450.2 L257.9,450.4 L258.4,450.6 L259.0,450.7 L259.5,450.9 L260.1,451.0 L260.7,451.2 L261.2,451.3 L261.8,451.5 L262.4,451.6 L262.9,451.8 L263.5,451.9 L264.1,452.0 L264.6,452.2 L265.2,452.3 L265.7,452.4 L266.3,452.5 L266.9,452.7 L267.4,452.8 L268.0,452.9 L268.6,453.0 L269.1,453.1 L269.7,453.2 L270.3,453.3 L270.8,453.4 L271.4,453.5 L272.0,453.6 L272.5,453.7 L273.1,453.8 L273.6,453.9 L274.2,454.0 L274.8,454.0 L275.3,454.1 L275.9,454.2 L276.5,454.3 L277.0,454.4 L277.6,454.5 L278.2,454.5 L278.7,454.6 L279.3,454.7 L279.8,454.8 L280.4,454.9 L281.0,454.9 L281.5,455.0 L282.1,455.1 L282.7,455.2 L283.2,455.2 L283.8,455.3 L284.4,455.4 L284.9,455.4 L285.5,455.5 L286.0,455.6 L286.6,455.6 L287.2,455.7 L287.7,455.8 L288.3,455.8 L288.9,455.9 L289.4,455.9 L290.0,456.0 L290.6,456.0 L291.1,456.1 L291.7,456.1 L292.3,456.2 L292.8,456.2 L293.4,456.2 L293.9,456.3 L294.5,456.3 L295.1,456.3 L295.6,456.4 L296.2,456.4" fill="none" stroke="#ff77ff" stroke-width="1.20"/>
<path d="M138.3,391.4 L138.9,391.0 L139.4,390.5 L140.0,390.2 L140.6,390.4 L141.1,391.0 L141.7,392.0 L142.2,393.3 L142.8,394.6 L143.4,396.0 L143.9,397.3 L144.5,398.6 L145.1,399.9 L145.6,401.1 L146.2,402.2 L146.8,403.1 L147.3,403.7 L147.9,404.0 L148.5,403.8 L149.0,403.3 L149.6,402.5 L150.1,401.5 L150.7,400.6 L151.3,399.7 L151.8,399.1 L152.4,398.8 L153.0,398.6 L153.5,398.5 L154.1,398.4 L154.7,398.4 L155.2,398.4 L155.8,398.3 L156.3,398.3 L156.9,398.3 L157.5,398.3 L158.0,398.3 L158.6,398.4 L159.2,398.5 L159.7,398.5 L160.3,398.7 L160.9,398.8 L161.4,398.9 L162.0,399.1 L162.5,399.3 L163.1,399.6 L163.7,400.0 L164.2,400.4 L164.8,400.9 L165.4,401.4 L165.9,402.0 L166.5,402.6 L167.1,403.4 L167.6,404.1 L168.2,405.1 L168.8,406.2 L169.3,407.4 L169.9,408.8 L170.4,410.3 L171.0,411.7 L171.6,413.1 L172.1,414.3 L172.7,415.4 L173.3,416.3 L173.8,417.1 L174.4,417.9 L175.0,418.7 L175.5,419.4 L176.1,420.1 L176.6,420.7 L177.2,421.2 L177.8,421.7 L178.3,422.0 L178.9,422.3 L179.5,422.4 L180.0,422.4 L180.6,422.4 L181.2,422.3 L181.7,422.1 L182.3,422.0 L182.9,421.8 L183.4,421.5 L184.0,421.3 L184.5,421.1 L185.1,420.8 L185.7,420.6 L186.2,420.3 L186.8,420.0 L187.4,419.6 L187.9,419.2 L188.5,418.8 L189.1,418.4 L189.6,418.0 L190.2,417.6 L190.7,417.2 L191.3,416.8 L191.9,416.4 L192.4,416.2 L193.0,415.9 L193.6,415.7 L194.1,415.5 L194.7,415.3 L195.3,415.1 L195.8,415.0 L196.4,414.8 L196.9,414.7 L197.5,414.5 L198.1,414.4 L198.6,414.2 L199.2,414.1 L199.8,413.9 L200.3,413.7 L200.9,413.5 L201.5,413.2 L202.0,412.9 L202.6,412.6 L203.2,412.2 L203.7,411.9 L204.3,411.5 L204.8,411.2 L205.4,410.9 L206.0,410.6 L206.5,410.4 L207.1,410.2 L207.7,410.0 L208.2,409.9 L208.8,409.8 L209.4,409.7 L209.9,409.6 L210.5,409.5 L211.0,409.5 L211.6,409.4 L212.2,409.4 L212.7,409.3 L213.3,409.3 L213.9,409.3 L214.4,409.4 L215.0,409.5 L215.6,409.6 L216.1,409.7 L216.7,409.8 L217.2,410.0 L217.8,410.2 L218.4,410.4 L218.9,410.6 L219.5,410.8 L220.1,411.1 L220.6,411.5 L221.2,411.9 L221.8,412.3 L222.3,412.7 L222.9,413.1 L223.5,413.6 L224.0,414.0 L224.6,414.5 L225.1,414.9 L225.7,415.3 L226.3,415.7 L226.8,416.1 L227.4,416.4 L228.0,416.7 L228.5,417.0 L229.1,417.3 L229.7,417.6 L230.2,417.9 L230.8,418.2 L231.3,418.4 L231.9,418.7 L232.5,419.0 L233.0,419.2 L233.6,419.5 L234.2,419.7 L234.7,420.0 L235.3,420.2 L235.9,420.4 L236.4,420.7 L237.0,420.9 L237.6,421.2 L238.1,421.4 L238.7,421.7 L239.2,421.9 L239.8,422.2 L240.4,422.4 L240.9,422.7 L241.5,422.9 L242.1,423.2 L242.6,423.5 L243.2,423.7 L243.8,424.0 L244.3,424.3 L244.9,424.5 L245.4,424.8 L246.0,425.0 L246.6,425.3 L247.1,425.6 L247.7,425.8 L248.3,426.1 L248.8,426.3 L249.4,426.5 L250.0,426.8 L250.5,427.0 L251.1,427.2 L251.6,427.5 L252.2,427.7 L252.8,427.9 L253.3,428.1 L253.9,428.3 L254.5,428.5 L255.0,428.6 L255.6,428.8 L256.2,429.0 L256.7,429.2 L257.3,429.4 L257.9,429.5 L258.4,429.7 L259.0,429.9 L259.5,430.0 L260.1,430.2 L260.7,430.4 L261.2,430.5 L261.8,430.7 L262.4,430.8 L262.9,431.0 L263.5,431.1 L264.1,431.3 L264.6,431.4 L265.2,431.6 L265.7,431.7 L266.3,431.9 L266.9,432.0 L267.4,432.2 L268.0,432.3 L268.6,432.5 L269.1,432.7 L269.7,432.8 L270.3,433.0 L270.8,433.1 L271.4,433.3 L272.0,433.4 L272.5,433.6 L273.1,433.7 L273.6,433.9 L274.2,434.1 L274.8,434.2 L275.3,434.4 L275.9,434.5 L276.5,434.7 L277.0,434.9 L277.6,435.0 L278.2,435.2 L278.7,435.3 L279.3,435.5 L279.8,435.7 L280.4,435.8 L281.0,436.0 L281.5,436.2 L282.1,436.3 L282.7,436.5 L283.2,436.6 L283.8,436.8 L284.4,437.0 L284.9,437.1 L285.5,437.3 L286.0,437.4 L286.6,437.6 L287.2,437.8 L287.7,437.9 L288.3,438.1 L288.9,438.2 L289.4,438.4 L290.0,438.6 L290.6,438.7 L291.1,438.9 L291.7,439.0 L292.3,439.2 L292.8,439.4 L293.4,439.5 L293.9,439.7 L294.5,439.8 L295.1,440.0 L295.6,440.1 L296.2,440.2" fill="none" stroke="#8614f0" stroke-width="1.35"/>
<rect x="138.30" y="373.20" width="157.90" height="124.10" fill="none" stroke="#3c3c3c" stroke-width="1.25"/>
<line x1="138.30" y1="497.30" x2="138.30" y2="499.50" stroke="#3c3c3c" stroke-width="1"/>
<text x="138.30" y="508.00" font-size="8.30" text-anchor="middle" font-weight="normal" fill="#222" >200</text>
<line x1="149.58" y1="497.30" x2="149.58" y2="498.90" stroke="#3c3c3c" stroke-width="1"/>
<line x1="160.86" y1="497.30" x2="160.86" y2="499.50" stroke="#3c3c3c" stroke-width="1"/>
<text x="160.86" y="508.00" font-size="8.30" text-anchor="middle" font-weight="normal" fill="#222" >300</text>
<line x1="172.14" y1="497.30" x2="172.14" y2="498.90" stroke="#3c3c3c" stroke-width="1"/>
<line x1="183.41" y1="497.30" x2="183.41" y2="499.50" stroke="#3c3c3c" stroke-width="1"/>
<text x="183.41" y="508.00" font-size="8.30" text-anchor="middle" font-weight="normal" fill="#222" >400</text>
<line x1="194.69" y1="497.30" x2="194.69" y2="498.90" stroke="#3c3c3c" stroke-width="1"/>
<line x1="205.97" y1="497.30" x2="205.97" y2="499.50" stroke="#3c3c3c" stroke-width="1"/>
<text x="205.97" y="508.00" font-size="8.30" text-anchor="middle" font-weight="normal" fill="#222" >500</text>
<line x1="217.25" y1="497.30" x2="217.25" y2="498.90" stroke="#3c3c3c" stroke-width="1"/>
<line x1="228.53" y1="497.30" x2="228.53" y2="499.50" stroke="#3c3c3c" stroke-width="1"/>
<text x="228.53" y="508.00" font-size="8.30" text-anchor="middle" font-weight="normal" fill="#222" >600</text>
<line x1="239.81" y1="497.30" x2="239.81" y2="498.90" stroke="#3c3c3c" stroke-width="1"/>
<line x1="251.09" y1="497.30" x2="251.09" y2="499.50" stroke="#3c3c3c" stroke-width="1"/>
<text x="251.09" y="508.00" font-size="8.30" text-anchor="middle" font-weight="normal" fill="#222" >700</text>
<line x1="262.36" y1="497.30" x2="262.36" y2="498.90" stroke="#3c3c3c" stroke-width="1"/>
<line x1="273.64" y1="497.30" x2="273.64" y2="499.50" stroke="#3c3c3c" stroke-width="1"/>
<text x="273.64" y="508.00" font-size="8.30" text-anchor="middle" font-weight="normal" fill="#222" >800</text>
<line x1="284.92" y1="497.30" x2="284.92" y2="498.90" stroke="#3c3c3c" stroke-width="1"/>
<line x1="296.20" y1="497.30" x2="296.20" y2="499.50" stroke="#3c3c3c" stroke-width="1"/>
<text x="296.20" y="508.00" font-size="8.30" text-anchor="middle" font-weight="normal" fill="#222" >900</text>
<line x1="136.10" y1="486.02" x2="138.30" y2="486.02" stroke="#3c3c3c" stroke-width="1"/>
<text x="134.70" y="489.52" font-size="8.30" text-anchor="end" font-weight="normal" fill="#222" >0.0</text>
<line x1="136.70" y1="471.92" x2="138.30" y2="471.92" stroke="#3c3c3c" stroke-width="1"/>
<line x1="136.10" y1="457.81" x2="138.30" y2="457.81" stroke="#3c3c3c" stroke-width="1"/>
<text x="134.70" y="461.31" font-size="8.30" text-anchor="end" font-weight="normal" fill="#222" >0.5</text>
<line x1="136.70" y1="443.71" x2="138.30" y2="443.71" stroke="#3c3c3c" stroke-width="1"/>
<line x1="136.10" y1="429.61" x2="138.30" y2="429.61" stroke="#3c3c3c" stroke-width="1"/>
<text x="134.70" y="433.11" font-size="8.30" text-anchor="end" font-weight="normal" fill="#222" >1.0</text>
<line x1="136.70" y1="415.51" x2="138.30" y2="415.51" stroke="#3c3c3c" stroke-width="1"/>
<line x1="136.10" y1="401.40" x2="138.30" y2="401.40" stroke="#3c3c3c" stroke-width="1"/>
<text x="134.70" y="404.90" font-size="8.30" text-anchor="end" font-weight="normal" fill="#222" >1.5</text>
<line x1="136.70" y1="387.30" x2="138.30" y2="387.30" stroke="#3c3c3c" stroke-width="1"/>
<line x1="136.10" y1="373.20" x2="138.30" y2="373.20" stroke="#3c3c3c" stroke-width="1"/>
<text x="134.70" y="376.70" font-size="8.30" text-anchor="end" font-weight="normal" fill="#222" >2.0</text>
<text x="171.80" y="528.70" font-size="12.6" fill="#222" stroke="#222" stroke-width="0.2" textLength="81" lengthAdjust="spacingAndGlyphs">Wavelength (nm)</text>
<text x="0" y="0" font-size="11.6" fill="#222" stroke="#222" stroke-width="0.2" textLength="77.2" lengthAdjust="spacingAndGlyphs" transform="translate(117.10,469.60) rotate(-90)">Absorbance (a.u.)</text>
<text x="209.70" y="544.20" font-size="10.80" text-anchor="middle" font-weight="bold" fill="#222" >(e)</text>
<line x1="245.00" y1="379.30" x2="258.60" y2="379.30" stroke="#cccccc" stroke-width="1.0"/>
<text x="0" y="0" font-size="6.30" fill="#333" transform="translate(259.80,381.38) scale(0.880,1)">TiO<tspan font-size="3.91" dy="1.89">2</tspan></text>
<line x1="245.00" y1="387.30" x2="258.60" y2="387.30" stroke="#22ee22" stroke-width="1.2" stroke-dasharray="2 1.8"/>
<text x="0" y="0" font-size="6.30" fill="#333" transform="translate(259.80,389.38) scale(0.880,1)">La/TiO<tspan font-size="3.91" dy="1.89">2</tspan></text>
<line x1="245.00" y1="395.50" x2="258.60" y2="395.50" stroke="#ff8a22" stroke-width="1.2" stroke-dasharray="2 1.8"/>
<text x="0" y="0" font-size="6.30" fill="#333" transform="translate(259.80,397.58) scale(0.880,1)">Au/La/TiO<tspan font-size="3.91" dy="1.89">2</tspan></text>
<line x1="245.00" y1="403.50" x2="258.60" y2="403.50" stroke="#7d8a1e" stroke-width="1.2" stroke-dasharray="2 1.8"/>
<text x="0" y="0" font-size="6.30" fill="#333" transform="translate(259.80,405.58) scale(0.880,1)">Ag/La/TiO<tspan font-size="3.91" dy="1.89">2</tspan></text>
<line x1="245.00" y1="411.60" x2="258.60" y2="411.60" stroke="#ff77ff" stroke-width="1.2"/>
<text x="0" y="0" font-size="6.30" fill="#333" transform="translate(259.80,413.68) scale(0.880,1)">AuAg/La/TiO<tspan font-size="3.91" dy="1.89">2</tspan></text>
<line x1="245.00" y1="419.80" x2="258.60" y2="419.80" stroke="#8614f0" stroke-width="1.2"/>
<text x="0" y="0" font-size="6.30" fill="#333" transform="translate(259.80,421.88) scale(0.880,1)">AgAu/La/TiO<tspan font-size="3.91" dy="1.89">2</tspan></text>
</svg>
</body></html>
